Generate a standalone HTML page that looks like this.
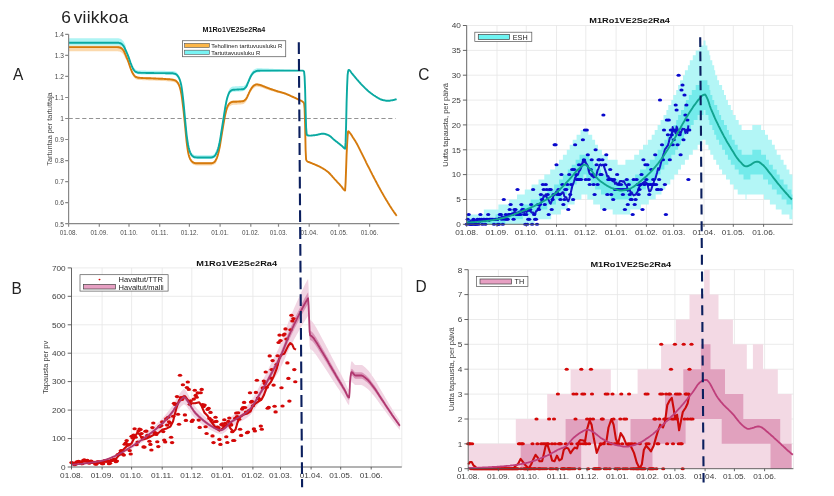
<!DOCTYPE html>
<html lang="fi"><head><meta charset="utf-8"><title>6 viikkoa</title>
<style>html,body{margin:0;padding:0;background:#fff}svg{display:block;filter:blur(0.45px)}</style></head>
<body>
<svg width="834" height="496" viewBox="0 0 834 496" font-family='"Liberation Sans", Arial, sans-serif'>
<rect width="834" height="496" fill="#fff"/>
<g id="chartA">
<path d="M68.6 45.4L69.1 45.4L69.6 45.4L70.1 45.4L70.6 45.4L71.1 45.4L71.6 45.4L72.1 45.4L72.6 45.4L73.1 45.4L73.6 45.4L74.1 45.4L74.6 45.4L75.1 45.4L75.6 45.4L76.1 45.4L76.6 45.4L77.1 45.4L77.6 45.4L78.1 45.4L78.6 45.4L79.1 45.4L79.6 45.4L80.1 45.4L80.6 45.4L81.1 45.4L81.6 45.4L82.1 45.4L82.6 45.4L83.1 45.4L83.6 45.4L84.1 45.4L84.6 45.4L85.1 45.4L85.6 45.4L86.1 45.4L86.6 45.4L87.1 45.4L87.6 45.4L88.1 45.4L88.6 45.4L89.1 45.4L89.6 45.4L90.1 45.4L90.6 45.4L91.1 45.4L91.6 45.4L92.1 45.4L92.6 45.4L93.1 45.4L93.6 45.4L94.1 45.4L94.6 45.4L95.1 45.4L95.6 45.4L96.1 45.4L96.6 45.4L97.1 45.4L97.6 45.4L98.1 45.4L98.6 45.4L99.1 45.4L99.6 45.4L100.1 45.4L100.6 45.4L101.1 45.4L101.6 45.4L102.1 45.4L102.6 45.4L103.1 45.4L103.6 45.4L104.1 45.4L104.6 45.4L105.1 45.4L105.6 45.4L106.1 45.4L106.6 45.4L107.1 45.4L107.6 45.4L108.1 45.4L108.6 45.4L109.1 45.4L109.6 45.4L110.1 45.4L110.6 45.4L111.1 45.4L111.6 45.4L112.1 45.4L112.6 45.4L113.1 45.4L113.6 45.4L114.1 45.4L114.6 45.4L115.1 45.4L115.6 45.4L116.1 45.4L116.6 45.4L117.1 45.4L117.6 45.4L118.1 45.5L118.6 45.6L119.1 45.7L119.6 45.8L120.1 46L120.6 46.1L121.1 46.4L121.6 46.7L122.1 47.2L122.6 47.7L123.1 48.3L123.6 48.9L124.1 49.8L124.6 50.9L125.1 52.1L125.6 53.3L126.1 55.2L126.6 56.4L127.1 57.6L127.6 58.8L128.1 60.1L128.6 61.5L129.1 62.9L129.6 64.4L130.1 66L130.6 67.4L131.1 68.7L131.6 69.9L132.1 71L132.6 72L133.1 72.9L133.6 73.6L134.1 74.2L134.6 74.8L135.1 75.3L135.6 75.7L136.1 76L136.6 76.2L137.1 76.4L137.6 76.5L138.1 76.6L138.6 76.7L139.1 76.8L139.6 76.8L140.1 76.8L140.6 76.9L141.1 76.9L141.6 76.9L142.1 77L142.6 77L143.1 77L143.6 77L144.1 77.1L144.6 77.1L145.1 77.1L145.6 77.1L146.1 77.1L146.6 77.1L147.1 77.1L147.6 77.2L148.1 77.2L148.6 77.2L149.1 77.2L149.6 77.2L150.1 77.3L150.6 77.3L151.1 77.3L151.6 77.3L152.1 77.4L152.6 77.4L153.1 77.4L153.6 77.4L154.1 77.4L154.6 77.5L155.1 77.5L155.6 77.5L156.1 77.5L156.6 77.5L157.1 77.6L157.6 77.6L158.1 77.6L158.6 77.6L159.1 77.6L159.6 77.7L160.1 77.7L160.6 77.7L161.1 77.7L161.6 77.8L162.1 77.8L162.6 77.8L163.1 77.8L163.6 77.9L164.1 77.9L164.6 77.9L165.1 78L165.6 78L166.1 78L166.6 78.1L167.1 78.1L167.6 78.1L168.1 78.2L168.6 78.2L169.1 78.3L169.6 78.3L170.1 78.4L170.6 78.4L171.1 78.5L171.6 78.5L172.1 78.6L172.6 78.6L173.1 78.7L173.6 78.9L174.1 79L174.6 79.2L175.1 79.4L175.6 79.6L176.1 79.9L176.6 80.4L177.1 80.9L177.6 81.6L178.1 82.3L178.6 83.1L179.1 84.2L179.6 85.6L180.1 87.3L180.6 89.2L181.1 91.4L181.6 94.3L182.1 97.8L182.6 101.7L183.1 105.8L183.6 110.2L184.1 115L184.6 120L185.1 125L185.6 130.3L186.1 135.7L186.6 140.7L187.1 144.7L187.6 148L188.1 151.1L188.6 153.5L189.1 155.3L189.6 156.6L190.1 157.8L190.6 158.7L191.1 159.5L191.6 160.1L192.1 160.5L192.6 161L193.1 161.4L193.6 161.7L194.1 161.9L194.6 162L195.1 162L195.6 162.1L196.1 162.2L196.6 162.2L197.1 162.2L197.6 162.3L198.1 162.3L198.6 162.3L199.1 162.3L199.6 162.3L200.1 162.3L200.6 162.3L201.1 162.3L201.6 162.3L202.1 162.3L202.6 162.3L203.1 162.3L203.6 162.3L204.1 162.3L204.6 162.3L205.1 162.3L205.6 162.3L206.1 162.3L206.6 162.3L207.1 162.3L207.6 162.3L208.1 162.3L208.6 162.3L209.1 162.3L209.6 162.3L210.1 162.3L210.6 162.3L211.1 162.3L211.6 162.2L212.1 162.1L212.6 161.9L213.1 161.7L213.6 161.5L214.1 161.2L214.6 160.8L215.1 159.8L215.6 159L216.1 158.1L216.6 157.1L217.1 155.9L217.6 154.5L218.1 152.7L218.6 150.7L219.1 148.5L219.6 146.2L220.1 143.4L220.6 140.4L221.1 137.1L221.6 134.1L222.1 131L222.6 128L223.1 125L223.6 122.1L224.1 119.3L224.6 116.5L225.1 114L225.6 111.7L226.1 109.7L226.6 107.8L227.1 106.1L227.6 105L228.1 104L228.6 103.2L229.1 102.5L229.6 102L230.1 101.6L230.6 101.3L231.1 101L231.6 100.8L232.1 100.6L232.6 100.5L233.1 100.5L233.6 100.4L234.1 100.4L234.6 100.4L235.1 100.4L235.6 100.3L236.1 100.3L236.6 100.3L237.1 100.3L237.6 100.3L238.1 100.3L238.6 100.2L239.1 100.2L239.6 100.2L240.1 100.2L240.6 100.1L241.1 100.1L241.6 100.1L242.1 100L242.6 100L243.1 99.9L243.6 99.7L244.1 99.5L244.6 99.1L245.1 98.7L245.6 98.2L246.1 97.6L246.6 96.9L247.1 95.9L247.6 94.8L248.1 93.6L248.6 92.6L249.1 91.5L249.6 90.5L250.1 89.4L250.6 88.5L251.1 87.7L251.6 86.9L252.1 86.3L252.6 85.6L253.1 85.1L253.6 84.6L254.1 84.3L254.6 84L255.1 83.7L255.6 83.5L256.1 83.4L256.6 83.3L257.1 83.3L257.6 83.4L258.1 83.5L258.6 83.6L259.1 83.7L259.6 83.8L260.1 84L260.6 84.1L261.1 84.3L261.6 84.5L262.1 84.7L262.6 84.9L263.1 85.1L263.6 85.3L264.1 85.5L264.6 85.7L265.1 86L265.6 86.2L266.1 86.4L266.6 86.6L267.1 86.7L267.6 86.9L268.1 87.1L268.6 87.3L269.1 87.5L269.6 87.7L270.1 87.9L270.6 88.1L271.1 88.3L271.6 88.4L272.1 88.6L272.6 88.8L273.1 89L273.6 89.2L274.1 89.3L274.6 89.5L275.1 89.7L275.6 89.9L276.1 90L276.6 90.2L277.1 90.3L277.6 90.5L278.1 90.6L278.6 90.8L279.1 90.9L279.6 91.1L280.1 91.2L280.6 91.4L281.1 91.5L281.6 91.7L282.1 91.8L282.6 92L283.1 92.1L283.6 92.3L284.1 92.5L284.6 92.6L285.1 92.8L285.6 93L286.1 93.2L286.6 93.4L287.1 93.6L287.6 93.9L288.1 94.1L288.6 94.3L289.1 94.5L289.6 94.8L290.1 95L290.6 95.2L291.1 95.5L291.6 95.7L292.1 95.9L292.6 96.2L293.1 96.4L293.6 96.6L294.1 96.9L294.6 97.1L295.1 97.4L295.6 97.6L296.1 97.9L296.6 98.1L297.1 98.4L297.6 98.6L298.1 98.9L298.6 99.1L299.1 99.4L299.6 99.6L299.6 100.6L299.1 100.4L298.6 100.2L298.1 100L297.6 99.8L297.1 99.5L296.6 99.3L296.1 99.1L295.6 98.9L295.1 98.6L294.6 98.4L294.1 98.2L293.6 98L293.1 97.8L292.6 97.6L292.1 97.4L291.6 97.2L291.1 97L290.6 96.8L290.1 96.6L289.6 96.3L289.1 96.1L288.6 95.9L288.1 95.7L287.6 95.5L287.1 95.4L286.6 95.2L286.1 95L285.6 94.8L285.1 94.7L284.6 94.5L284.1 94.4L283.6 94.2L283.1 94.1L282.6 94L282.1 93.8L281.6 93.7L281.1 93.6L280.6 93.5L280.1 93.3L279.6 93.2L279.1 93.1L278.6 93L278.1 92.9L277.6 92.7L277.1 92.6L276.6 92.5L276.1 92.4L275.6 92.2L275.1 92.1L274.6 91.9L274.1 91.8L273.6 91.6L273.1 91.5L272.6 91.3L272.1 91.2L271.6 91L271.1 90.9L270.6 90.7L270.1 90.6L269.6 90.4L269.1 90.2L268.6 90.1L268.1 89.9L267.6 89.8L267.1 89.6L266.6 89.4L266.1 89.3L265.6 89.1L265.1 88.9L264.6 88.7L264.1 88.5L263.6 88.3L263.1 88.1L262.6 88L262.1 87.8L261.6 87.6L261.1 87.5L260.6 87.3L260.1 87.2L259.6 87.1L259.1 87L258.6 86.9L258.1 86.8L257.6 86.7L257.1 86.7L256.6 86.7L256.1 86.8L255.6 87L255.1 87.3L254.6 87.6L254.1 87.9L253.6 88.2L253.1 88.7L252.6 89.3L252.1 89.9L251.6 90.7L251.1 91.4L250.6 92.2L250.1 93.2L249.6 94.3L249.1 95.4L248.6 96.5L248.1 97.5L247.6 98.7L247.1 99.8L246.6 100.9L246.1 101.6L245.6 102.2L245.1 102.7L244.6 103.2L244.1 103.6L243.6 103.9L243.1 104.1L242.6 104.2L242.1 104.3L241.6 104.3L241.1 104.4L240.6 104.5L240.1 104.5L239.6 104.5L239.1 104.6L238.6 104.6L238.1 104.6L237.6 104.6L237.1 104.7L236.6 104.7L236.1 104.7L235.6 104.7L235.1 104.7L234.6 104.7L234.1 104.8L233.6 104.8L233.1 104.8L232.6 104.9L232.1 105L231.6 105.2L231.1 105.4L230.6 105.7L230.1 106L229.6 106.3L229.1 106.9L228.6 107.6L228.1 108.4L227.6 109.3L227.1 110.5L226.6 112.1L226.1 114L225.6 116.1L225.1 118.3L224.6 120.9L224.1 123.6L223.6 126.5L223.1 129.3L222.6 132.3L222.1 135.4L221.6 138.4L221.1 141.5L220.6 144.7L220.1 147.8L219.6 150.5L219.1 152.9L218.6 155.1L218.1 157.1L217.6 158.9L217.1 160.3L216.6 161.4L216.1 162.5L215.6 163.4L215.1 164.2L214.6 163.9L214.1 164.4L213.6 164.6L213.1 164.9L212.6 165.1L212.1 165.3L211.6 165.4L211.1 165.4L210.6 165.4L210.1 165.4L209.6 165.4L209.1 165.4L208.6 165.4L208.1 165.4L207.6 165.4L207.1 165.4L206.6 165.4L206.1 165.4L205.6 165.4L205.1 165.4L204.6 165.4L204.1 165.4L203.6 165.4L203.1 165.4L202.6 165.4L202.1 165.4L201.6 165.4L201.1 165.4L200.6 165.4L200.1 165.4L199.6 165.4L199.1 165.4L198.6 165.4L198.1 165.4L197.6 165.4L197.1 165.4L196.6 165.4L196.1 165.3L195.6 165.3L195.1 165.2L194.6 165.1L194.1 165L193.6 164.8L193.1 164.5L192.6 164.1L192.1 163.7L191.6 163.2L191.1 162.7L190.6 161.9L190.1 160.9L189.6 159.8L189.1 158.4L188.6 156.7L188.1 154.2L187.6 151.2L187.1 147.8L186.6 143.8L186.1 138.9L185.6 133.4L185.1 128.1L184.6 123.2L184.1 118.2L183.6 113.4L183.1 108.9L182.6 104.9L182.1 101L181.6 97.4L181.1 94.6L180.6 92.4L180.1 90.5L179.6 88.8L179.1 87.4L178.6 86.3L178.1 85.5L177.6 84.7L177.1 84.1L176.6 83.5L176.1 83.1L175.6 82.8L175.1 82.5L174.6 82.3L174.1 82.2L173.6 82L173.1 81.9L172.6 81.8L172.1 81.7L171.6 81.7L171.1 81.6L170.6 81.6L170.1 81.5L169.6 81.5L169.1 81.4L168.6 81.4L168.1 81.3L167.6 81.3L167.1 81.3L166.6 81.2L166.1 81.2L165.6 81.1L165.1 81.1L164.6 81.1L164.1 81.1L163.6 81L163.1 81L162.6 81L162.1 80.9L161.6 80.9L161.1 80.9L160.6 80.9L160.1 80.8L159.6 80.8L159.1 80.8L158.6 80.8L158.1 80.8L157.6 80.7L157.1 80.7L156.6 80.7L156.1 80.7L155.6 80.7L155.1 80.6L154.6 80.6L154.1 80.6L153.6 80.6L153.1 80.6L152.6 80.5L152.1 80.5L151.6 80.5L151.1 80.5L150.6 80.4L150.1 80.4L149.6 80.4L149.1 80.4L148.6 80.4L148.1 80.3L147.6 80.3L147.1 80.3L146.6 80.3L146.1 80.3L145.6 80.3L145.1 80.2L144.6 80.2L144.1 80.2L143.6 80.2L143.1 80.2L142.6 80.2L142.1 80.1L141.6 80.1L141.1 80.1L140.6 80L140.1 80L139.6 80L139.1 79.9L138.6 79.9L138.1 79.8L137.6 79.7L137.1 79.5L136.6 79.4L136.1 79.2L135.6 78.9L135.1 78.5L134.6 78L134.1 77.4L133.6 76.8L133.1 76L132.6 75.1L132.1 74.1L131.6 73L131.1 71.9L130.6 70.6L130.1 69.1L129.6 67.6L129.1 66.1L128.6 64.6L128.1 63.3L127.6 62L127.1 60.8L126.6 59.5L126.1 58.4L125.6 59.1L125.1 57.9L124.6 56.7L124.1 55.6L123.6 54.7L123.1 54.1L122.6 53.5L122.1 53L121.6 52.5L121.1 52.2L120.6 51.9L120.1 51.8L119.6 51.6L119.1 51.5L118.6 51.4L118.1 51.3L117.6 51.2L117.1 51.2L116.6 51.2L116.1 51.2L115.6 51.2L115.1 51.2L114.6 51.2L114.1 51.2L113.6 51.2L113.1 51.2L112.6 51.2L112.1 51.2L111.6 51.2L111.1 51.2L110.6 51.2L110.1 51.2L109.6 51.2L109.1 51.2L108.6 51.2L108.1 51.2L107.6 51.2L107.1 51.2L106.6 51.2L106.1 51.2L105.6 51.2L105.1 51.2L104.6 51.2L104.1 51.2L103.6 51.2L103.1 51.2L102.6 51.2L102.1 51.2L101.6 51.2L101.1 51.2L100.6 51.2L100.1 51.2L99.6 51.2L99.1 51.2L98.6 51.2L98.1 51.2L97.6 51.2L97.1 51.2L96.6 51.2L96.1 51.2L95.6 51.2L95.1 51.2L94.6 51.2L94.1 51.2L93.6 51.2L93.1 51.2L92.6 51.2L92.1 51.2L91.6 51.2L91.1 51.2L90.6 51.2L90.1 51.2L89.6 51.2L89.1 51.2L88.6 51.2L88.1 51.2L87.6 51.2L87.1 51.2L86.6 51.2L86.1 51.2L85.6 51.2L85.1 51.2L84.6 51.2L84.1 51.2L83.6 51.2L83.1 51.2L82.6 51.2L82.1 51.2L81.6 51.2L81.1 51.2L80.6 51.2L80.1 51.2L79.6 51.2L79.1 51.2L78.6 51.2L78.1 51.2L77.6 51.2L77.1 51.2L76.6 51.2L76.1 51.2L75.6 51.2L75.1 51.2L74.6 51.2L74.1 51.2L73.6 51.2L73.1 51.2L72.6 51.2L72.1 51.2L71.6 51.2L71.1 51.2L70.6 51.2L70.1 51.2L69.6 51.2L69.1 51.2L68.6 51.2Z" fill="#fbd9ad"/>
<path d="M68.6 38.2L69.1 38.2L69.6 38.2L70.1 38.2L70.6 38.2L71.1 38.2L71.6 38.2L72.1 38.2L72.6 38.2L73.1 38.2L73.6 38.2L74.1 38.2L74.6 38.2L75.1 38.2L75.6 38.2L76.1 38.2L76.6 38.2L77.1 38.2L77.6 38.2L78.1 38.2L78.6 38.2L79.1 38.2L79.6 38.2L80.1 38.2L80.6 38.2L81.1 38.2L81.6 38.2L82.1 38.2L82.6 38.2L83.1 38.2L83.6 38.2L84.1 38.2L84.6 38.2L85.1 38.2L85.6 38.2L86.1 38.2L86.6 38.2L87.1 38.2L87.6 38.2L88.1 38.2L88.6 38.2L89.1 38.2L89.6 38.2L90.1 38.2L90.6 38.2L91.1 38.2L91.6 38.2L92.1 38.2L92.6 38.2L93.1 38.2L93.6 38.2L94.1 38.2L94.6 38.2L95.1 38.2L95.6 38.2L96.1 38.2L96.6 38.2L97.1 38.2L97.6 38.2L98.1 38.2L98.6 38.2L99.1 38.2L99.6 38.2L100.1 38.2L100.6 38.2L101.1 38.2L101.6 38.2L102.1 38.2L102.6 38.2L103.1 38.2L103.6 38.2L104.1 38.2L104.6 38.2L105.1 38.2L105.6 38.2L106.1 38.2L106.6 38.2L107.1 38.2L107.6 38.2L108.1 38.2L108.6 38.2L109.1 38.2L109.6 38.2L110.1 38.2L110.6 38.2L111.1 38.2L111.6 38.2L112.1 38.2L112.6 38.2L113.1 38.2L113.6 38.2L114.1 38.2L114.6 38.2L115.1 38.2L115.6 38.2L116.1 38.2L116.6 38.2L117.1 38.2L117.6 38.2L118.1 38.3L118.6 38.3L119.1 38.4L119.6 38.6L120.1 38.7L120.6 38.8L121.1 39.1L121.6 39.4L122.1 39.9L122.6 40.4L123.1 41L123.6 41.6L124.1 42.4L124.6 43.4L125.1 44.5L125.6 45.6L126.1 48.9L126.6 50L127.1 51.2L127.6 52.4L128.1 53.6L128.6 54.9L129.1 56.3L129.6 57.7L130.1 59.2L130.6 60.7L131.1 61.9L131.6 63.2L132.1 64.4L132.6 65.6L133.1 66.6L133.6 67.3L134.1 68L134.6 68.6L135.1 69.1L135.6 69.5L136.1 69.7L136.6 69.9L137.1 70.1L137.6 70.3L138.1 70.4L138.6 70.5L139.1 70.5L139.6 70.5L140.1 70.5L140.6 70.6L141.1 70.6L141.6 70.6L142.1 70.6L142.6 70.6L143.1 70.6L143.6 70.6L144.1 70.6L144.6 70.6L145.1 70.6L145.6 70.6L146.1 70.7L146.6 70.7L147.1 70.7L147.6 70.7L148.1 70.7L148.6 70.7L149.1 70.7L149.6 70.7L150.1 70.7L150.6 70.7L151.1 70.7L151.6 70.7L152.1 70.7L152.6 70.7L153.1 70.7L153.6 70.7L154.1 70.8L154.6 70.8L155.1 70.8L155.6 70.8L156.1 70.8L156.6 70.8L157.1 70.8L157.6 70.8L158.1 70.8L158.6 70.8L159.1 70.8L159.6 70.8L160.1 70.8L160.6 70.8L161.1 70.8L161.6 70.8L162.1 70.8L162.6 70.8L163.1 70.8L163.6 70.8L164.1 70.8L164.6 70.8L165.1 70.8L165.6 70.9L166.1 70.9L166.6 70.9L167.1 70.9L167.6 70.9L168.1 70.9L168.6 70.9L169.1 70.9L169.6 70.9L170.1 70.9L170.6 71L171.1 71L171.6 71L172.1 71L172.6 71L173.1 71.1L173.6 71.2L174.1 71.3L174.6 71.4L175.1 71.6L175.6 71.7L176.1 72L176.6 72.4L177.1 72.9L177.6 73.5L178.1 74.1L178.6 74.9L179.1 75.8L179.6 77L180.1 78.4L180.6 80.2L181.1 82.1L181.6 84.9L182.1 88.4L182.6 92.4L183.1 96.6L183.6 101.3L184.1 106.6L184.6 112L185.1 117.2L185.6 122.5L186.1 127.7L186.6 132.5L187.1 136.4L187.6 139.7L188.1 142.7L188.6 145.1L189.1 147L189.6 148.6L190.1 150L190.6 151.2L191.1 152.1L191.6 152.8L192.1 153.4L192.6 153.8L193.1 154.2L193.6 154.6L194.1 154.8L194.6 154.9L195.1 155L195.6 155.1L196.1 155.1L196.6 155.1L197.1 155.2L197.6 155.2L198.1 155.2L198.6 155.2L199.1 155.2L199.6 155.2L200.1 155.2L200.6 155.2L201.1 155.2L201.6 155.2L202.1 155.2L202.6 155.2L203.1 155.2L203.6 155.2L204.1 155.2L204.6 155.2L205.1 155.2L205.6 155.2L206.1 155.2L206.6 155.2L207.1 155.2L207.6 155.2L208.1 155.2L208.6 155.2L209.1 155.2L209.6 155.2L210.1 155.2L210.6 155.2L211.1 155.2L211.6 155.1L212.1 155L212.6 154.9L213.1 154.7L213.6 154.4L214.1 154.1L214.6 153.7L215.1 152.1L215.6 151.4L216.1 150.5L216.6 149.5L217.1 148.5L217.6 147.1L218.1 145.5L218.6 143.6L219.1 141.5L219.6 139.2L220.1 136.5L220.6 133.5L221.1 130.2L221.6 127.1L222.1 124L222.6 120.9L223.1 117.7L223.6 114.6L224.1 111.3L224.6 108L225.1 104.9L225.6 102.2L226.1 99.6L226.6 97.2L227.1 95.1L227.6 93.4L228.1 92L228.6 90.7L229.1 89.5L229.6 88.7L230.1 88.1L230.6 87.7L231.1 87.3L231.6 87L232.1 86.7L232.6 86.6L233.1 86.5L233.6 86.4L234.1 86.4L234.6 86.4L235.1 86.3L235.6 86.3L236.1 86.3L236.6 86.3L237.1 86.2L237.6 86.2L238.1 86.2L238.6 86.2L239.1 86.1L239.6 86.1L240.1 86.1L240.6 86.1L241.1 86.1L241.6 86.1L242.1 86.1L242.6 86.1L243.1 86L243.6 85.9L244.1 85.7L244.6 85.3L245.1 84.9L245.6 84.4L246.1 83.9L246.6 83.1L247.1 82L247.6 80.8L248.1 79.5L248.6 78.4L249.1 77.2L249.6 76.1L250.1 74.9L250.6 73.9L251.1 73.1L251.6 72.3L252.1 71.5L252.6 70.9L253.1 70.3L253.6 69.8L254.1 69.5L254.6 69.2L255.1 69L255.6 68.8L256.1 68.6L256.6 68.4L257.1 68.3L257.6 68.3L258.1 68.3L258.6 68.3L259.1 68.3L259.6 68.3L260.1 68.3L260.6 68.3L261.1 68.3L261.6 68.3L262.1 68.3L262.6 68.4L263.1 68.4L263.6 68.4L264.1 68.4L264.6 68.4L265.1 68.5L265.6 68.5L266.1 68.5L266.6 68.5L267.1 68.6L267.6 68.6L268.1 68.6L268.6 68.6L269.1 68.7L269.6 68.7L270.1 68.7L270.6 68.7L271.1 68.8L271.6 68.8L272.1 68.8L272.6 68.8L273.1 68.8L273.6 68.9L274.1 68.9L274.6 68.9L275.1 68.9L275.6 69L276.1 69L276.6 69L277.1 69L277.6 69.1L278.1 69.1L278.6 69.1L279.1 69.1L279.6 69.1L280.1 69.2L280.6 69.2L281.1 69.2L281.6 69.2L282.1 69.3L282.6 69.3L283.1 69.3L283.6 69.3L284.1 69.4L284.6 69.4L285.1 69.4L285.6 69.4L286.1 69.5L286.6 69.5L287.1 69.5L287.6 69.5L288.1 69.5L288.6 69.6L289.1 69.6L289.6 69.6L290.1 69.6L290.6 69.7L291.1 69.7L291.6 69.7L292.1 69.7L292.6 69.8L293.1 69.8L293.6 69.8L294.1 69.8L294.6 69.8L295.1 69.9L295.6 69.9L296.1 69.9L296.6 69.9L297.1 70L297.6 70L298.1 70L298.6 70L299.1 70.1L299.6 70.1L299.6 71.1L299.1 71.1L298.6 71.1L298.1 71.1L297.6 71.2L297.1 71.2L296.6 71.2L296.1 71.2L295.6 71.2L295.1 71.2L294.6 71.2L294.1 71.3L293.6 71.3L293.1 71.3L292.6 71.3L292.1 71.3L291.6 71.3L291.1 71.3L290.6 71.3L290.1 71.4L289.6 71.4L289.1 71.4L288.6 71.4L288.1 71.4L287.6 71.4L287.1 71.4L286.6 71.4L286.1 71.5L285.6 71.5L285.1 71.5L284.6 71.5L284.1 71.5L283.6 71.5L283.1 71.5L282.6 71.5L282.1 71.6L281.6 71.6L281.1 71.6L280.6 71.6L280.1 71.6L279.6 71.6L279.1 71.6L278.6 71.6L278.1 71.7L277.6 71.7L277.1 71.7L276.6 71.7L276.1 71.7L275.6 71.7L275.1 71.7L274.6 71.8L274.1 71.8L273.6 71.8L273.1 71.8L272.6 71.8L272.1 71.8L271.6 71.8L271.1 71.8L270.6 71.9L270.1 71.9L269.6 71.9L269.1 71.9L268.6 71.9L268.1 71.9L267.6 71.9L267.1 71.9L266.6 72L266.1 72L265.6 72L265.1 72L264.6 72L264.1 72L263.6 72L263.1 72L262.6 72.1L262.1 72.1L261.6 72.1L261.1 72.1L260.6 72.1L260.1 72.2L259.6 72.2L259.1 72.2L258.6 72.3L258.1 72.3L257.6 72.4L257.1 72.5L256.6 72.6L256.1 72.8L255.6 73L255.1 73.2L254.6 73.5L254.1 73.8L253.6 74.2L253.1 74.7L252.6 75.3L252.1 76L251.6 76.8L251.1 77.6L250.6 78.5L250.1 79.5L249.6 80.7L249.1 81.9L248.6 83.1L248.1 84.3L247.6 85.5L247.1 86.8L246.6 87.9L246.1 88.8L245.6 89.3L245.1 89.9L244.6 90.3L244.1 90.7L243.6 91L243.1 91.1L242.6 91.2L242.1 91.3L241.6 91.3L241.1 91.4L240.6 91.4L240.1 91.4L239.6 91.5L239.1 91.5L238.6 91.5L238.1 91.5L237.6 91.6L237.1 91.6L236.6 91.6L236.1 91.6L235.6 91.7L235.1 91.7L234.6 91.7L234.1 91.7L233.6 91.8L233.1 91.8L232.6 91.9L232.1 92.1L231.6 92.3L231.1 92.6L230.6 93L230.1 93.4L229.6 94L229.1 94.9L228.6 96L228.1 97.3L227.6 98.7L227.1 100.4L226.6 102.5L226.1 104.9L225.6 107.5L225.1 110.3L224.6 113.4L224.1 116.7L223.6 119.9L223.1 123L222.6 126.2L222.1 129.3L221.6 132.4L221.1 135.6L220.6 138.8L220.1 141.9L219.6 144.6L219.1 146.8L218.6 148.9L218.1 150.8L217.6 152.5L217.1 153.8L216.6 154.9L216.1 155.9L215.6 156.7L215.1 157.5L214.6 157.5L214.1 157.9L213.6 158.2L213.1 158.4L212.6 158.7L212.1 158.8L211.6 158.9L211.1 159L210.6 159L210.1 159L209.6 159L209.1 159L208.6 159L208.1 159L207.6 159L207.1 159L206.6 159L206.1 159L205.6 159L205.1 159L204.6 159L204.1 159L203.6 159L203.1 159L202.6 159L202.1 159L201.6 159L201.1 159L200.6 159L200.1 159L199.6 159L199.1 159L198.6 159L198.1 159L197.6 159L197.1 159L196.6 158.9L196.1 158.9L195.6 158.8L195.1 158.8L194.6 158.7L194.1 158.6L193.6 158.4L193.1 158L192.6 157.6L192.1 157.1L191.6 156.6L191.1 155.9L190.6 155L190.1 153.8L189.6 152.4L189.1 150.8L188.6 148.9L188.1 146.5L187.6 143.5L187.1 140.2L186.6 136.3L186.1 131.5L185.6 126.3L185.1 121L184.6 115.8L184.1 110.4L183.6 105.1L183.1 100.3L182.6 96.2L182.1 92.2L181.6 88.7L181.1 85.9L180.6 83.9L180.1 82.2L179.6 80.8L179.1 79.6L178.6 78.6L178.1 77.9L177.6 77.2L177.1 76.7L176.6 76.2L176.1 75.8L175.6 75.5L175.1 75.4L174.6 75.2L174.1 75.1L173.6 75L173.1 74.9L172.6 74.8L172.1 74.8L171.6 74.8L171.1 74.8L170.6 74.7L170.1 74.7L169.6 74.7L169.1 74.7L168.6 74.7L168.1 74.7L167.6 74.7L167.1 74.7L166.6 74.7L166.1 74.7L165.6 74.6L165.1 74.6L164.6 74.6L164.1 74.6L163.6 74.6L163.1 74.6L162.6 74.6L162.1 74.6L161.6 74.6L161.1 74.6L160.6 74.6L160.1 74.6L159.6 74.6L159.1 74.6L158.6 74.6L158.1 74.6L157.6 74.6L157.1 74.6L156.6 74.6L156.1 74.6L155.6 74.6L155.1 74.5L154.6 74.5L154.1 74.5L153.6 74.5L153.1 74.5L152.6 74.5L152.1 74.5L151.6 74.5L151.1 74.5L150.6 74.5L150.1 74.5L149.6 74.5L149.1 74.5L148.6 74.5L148.1 74.5L147.6 74.5L147.1 74.5L146.6 74.4L146.1 74.4L145.6 74.4L145.1 74.4L144.6 74.4L144.1 74.4L143.6 74.4L143.1 74.4L142.6 74.4L142.1 74.4L141.6 74.4L141.1 74.4L140.6 74.3L140.1 74.3L139.6 74.3L139.1 74.3L138.6 74.3L138.1 74.2L137.6 74.1L137.1 73.9L136.6 73.7L136.1 73.5L135.6 73.3L135.1 72.9L134.6 72.4L134.1 71.8L133.6 71.1L133.1 70.4L132.6 69.4L132.1 68.2L131.6 67L131.1 65.7L130.6 64.4L130.1 63L129.6 61.5L129.1 60.1L128.6 58.7L128.1 57.4L127.6 56.2L127.1 55L126.6 53.8L126.1 52.7L125.6 52.8L125.1 51.7L124.6 50.6L124.1 49.6L123.6 48.8L123.1 48.2L122.6 47.6L122.1 47.1L121.6 46.6L121.1 46.3L120.6 46L120.1 45.9L119.6 45.8L119.1 45.6L118.6 45.5L118.1 45.5L117.6 45.4L117.1 45.4L116.6 45.4L116.1 45.4L115.6 45.4L115.1 45.4L114.6 45.4L114.1 45.4L113.6 45.4L113.1 45.4L112.6 45.4L112.1 45.4L111.6 45.4L111.1 45.4L110.6 45.4L110.1 45.4L109.6 45.4L109.1 45.4L108.6 45.4L108.1 45.4L107.6 45.4L107.1 45.4L106.6 45.4L106.1 45.4L105.6 45.4L105.1 45.4L104.6 45.4L104.1 45.4L103.6 45.4L103.1 45.4L102.6 45.4L102.1 45.4L101.6 45.4L101.1 45.4L100.6 45.4L100.1 45.4L99.6 45.4L99.1 45.4L98.6 45.4L98.1 45.4L97.6 45.4L97.1 45.4L96.6 45.4L96.1 45.4L95.6 45.4L95.1 45.4L94.6 45.4L94.1 45.4L93.6 45.4L93.1 45.4L92.6 45.4L92.1 45.4L91.6 45.4L91.1 45.4L90.6 45.4L90.1 45.4L89.6 45.4L89.1 45.4L88.6 45.4L88.1 45.4L87.6 45.4L87.1 45.4L86.6 45.4L86.1 45.4L85.6 45.4L85.1 45.4L84.6 45.4L84.1 45.4L83.6 45.4L83.1 45.4L82.6 45.4L82.1 45.4L81.6 45.4L81.1 45.4L80.6 45.4L80.1 45.4L79.6 45.4L79.1 45.4L78.6 45.4L78.1 45.4L77.6 45.4L77.1 45.4L76.6 45.4L76.1 45.4L75.6 45.4L75.1 45.4L74.6 45.4L74.1 45.4L73.6 45.4L73.1 45.4L72.6 45.4L72.1 45.4L71.6 45.4L71.1 45.4L70.6 45.4L70.1 45.4L69.6 45.4L69.1 45.4L68.6 45.4Z" fill="#aef4f4"/>
<path d="M68.6 118.5H395.5" stroke="#777" stroke-width="0.8" stroke-dasharray="4.2 2.6" fill="none"/>
<path d="M68.6 47.1L69.1 47.1L69.6 47.1L70.1 47.1L70.6 47.1L71.1 47.1L71.6 47.1L72.1 47.1L72.6 47.1L73.1 47.1L73.6 47.1L74.1 47.1L74.6 47.1L75.1 47.1L75.6 47.1L76.1 47.1L76.6 47.1L77.1 47.1L77.6 47.1L78.1 47.1L78.6 47.1L79.1 47.1L79.6 47.1L80.1 47.1L80.6 47.1L81.1 47.1L81.6 47.1L82.1 47.1L82.6 47.1L83.1 47.1L83.6 47.1L84.1 47.1L84.6 47.1L85.1 47.1L85.6 47.1L86.1 47.1L86.6 47.1L87.1 47.1L87.6 47.1L88.1 47.1L88.6 47.1L89.1 47.1L89.6 47.1L90.1 47.1L90.6 47.1L91.1 47.1L91.6 47.1L92.1 47.1L92.6 47.1L93.1 47.1L93.6 47.1L94.1 47.1L94.6 47.1L95.1 47.1L95.6 47.1L96.1 47.1L96.6 47.1L97.1 47.1L97.6 47.1L98.1 47.1L98.6 47.1L99.1 47.1L99.6 47.1L100.1 47.1L100.6 47.1L101.1 47.1L101.6 47.1L102.1 47.1L102.6 47.1L103.1 47.1L103.6 47.1L104.1 47.1L104.6 47.1L105.1 47.1L105.6 47.1L106.1 47.1L106.6 47.1L107.1 47.1L107.6 47.1L108.1 47.1L108.6 47.1L109.1 47.1L109.6 47.1L110.1 47.1L110.6 47.1L111.1 47.1L111.6 47.1L112.1 47.1L112.6 47.1L113.1 47.1L113.6 47.1L114.1 47.1L114.6 47.1L115.1 47.1L115.6 47.1L116.1 47.1L116.6 47.1L117.1 47.1L117.6 47.1L118.1 47.2L118.6 47.3L119.1 47.4L119.6 47.5L120.1 47.7L120.6 47.8L121.1 48.1L121.6 48.4L122.1 48.9L122.6 49.4L123.1 50L123.6 50.6L124.1 51.5L124.6 52.6L125.1 53.8L125.6 55L126.1 56.2L126.6 57.4L127.1 58.6L127.6 59.9L128.1 61.2L128.6 62.5L129.1 63.9L129.6 65.5L130.1 67L130.6 68.5L131.1 69.7L131.6 70.9L132.1 72L132.6 73L133.1 73.9L133.6 74.6L134.1 75.3L134.6 75.9L135.1 76.4L135.6 76.8L136.1 77L136.6 77.2L137.1 77.4L137.6 77.6L138.1 77.7L138.6 77.8L139.1 77.8L139.6 77.9L140.1 77.9L140.6 77.9L141.1 78L141.6 78L142.1 78L142.6 78L143.1 78.1L143.6 78.1L144.1 78.1L144.6 78.1L145.1 78.1L145.6 78.1L146.1 78.2L146.6 78.2L147.1 78.2L147.6 78.2L148.1 78.2L148.6 78.2L149.1 78.3L149.6 78.3L150.1 78.3L150.6 78.3L151.1 78.4L151.6 78.4L152.1 78.4L152.6 78.4L153.1 78.4L153.6 78.5L154.1 78.5L154.6 78.5L155.1 78.5L155.6 78.5L156.1 78.6L156.6 78.6L157.1 78.6L157.6 78.6L158.1 78.6L158.6 78.7L159.1 78.7L159.6 78.7L160.1 78.7L160.6 78.8L161.1 78.8L161.6 78.8L162.1 78.8L162.6 78.8L163.1 78.9L163.6 78.9L164.1 78.9L164.6 79L165.1 79L165.6 79L166.1 79.1L166.6 79.1L167.1 79.1L167.6 79.2L168.1 79.2L168.6 79.3L169.1 79.3L169.6 79.3L170.1 79.4L170.6 79.4L171.1 79.5L171.6 79.6L172.1 79.6L172.6 79.7L173.1 79.8L173.6 79.9L174.1 80.1L174.6 80.2L175.1 80.4L175.6 80.6L176.1 81L176.6 81.4L177.1 82L177.6 82.6L178.1 83.3L178.6 84.2L179.1 85.3L179.6 86.7L180.1 88.3L180.6 90.3L181.1 92.5L181.6 95.3L182.1 98.8L182.6 102.8L183.1 106.8L183.6 111.2L184.1 116.1L184.6 121L185.1 126L185.6 131.3L186.1 136.7L186.6 141.7L187.1 145.7L187.6 149.1L188.1 152.1L188.6 154.5L189.1 156.3L189.6 157.6L190.1 158.8L190.6 159.8L191.1 160.5L191.6 161.1L192.1 161.6L192.6 162L193.1 162.4L193.6 162.7L194.1 162.9L194.6 163L195.1 163.1L195.6 163.2L196.1 163.2L196.6 163.2L197.1 163.3L197.6 163.3L198.1 163.3L198.6 163.3L199.1 163.3L199.6 163.3L200.1 163.3L200.6 163.3L201.1 163.3L201.6 163.3L202.1 163.3L202.6 163.3L203.1 163.3L203.6 163.3L204.1 163.3L204.6 163.3L205.1 163.3L205.6 163.3L206.1 163.3L206.6 163.3L207.1 163.3L207.6 163.3L208.1 163.3L208.6 163.3L209.1 163.3L209.6 163.3L210.1 163.3L210.6 163.3L211.1 163.3L211.6 163.2L212.1 163.1L212.6 163L213.1 162.8L213.6 162.5L214.1 162.2L214.6 161.8L215.1 161.2L215.6 160.4L216.1 159.4L216.6 158.4L217.1 157.3L217.6 155.8L218.1 154.1L218.6 152.1L219.1 149.9L219.6 147.5L220.1 144.8L220.6 141.7L221.1 138.5L221.6 135.4L222.1 132.3L222.6 129.3L223.1 126.3L223.6 123.4L224.1 120.6L224.6 117.9L225.1 115.3L225.6 113.1L226.1 111L226.6 109.1L227.1 107.5L227.6 106.3L228.1 105.4L228.6 104.5L229.1 103.8L229.6 103.3L230.1 102.9L230.6 102.6L231.1 102.4L231.6 102.2L232.1 102L232.6 101.9L233.1 101.8L233.6 101.8L234.1 101.7L234.6 101.7L235.1 101.7L235.6 101.7L236.1 101.7L236.6 101.7L237.1 101.6L237.6 101.6L238.1 101.6L238.6 101.6L239.1 101.5L239.6 101.5L240.1 101.5L240.6 101.5L241.1 101.4L241.6 101.4L242.1 101.3L242.6 101.3L243.1 101.2L243.6 101L244.1 100.7L244.6 100.4L245.1 99.9L245.6 99.4L246.1 98.9L246.6 98.1L247.1 97.1L247.6 96L248.1 94.8L248.6 93.8L249.1 92.7L249.6 91.7L250.1 90.6L250.6 89.7L251.1 88.9L251.6 88.1L252.1 87.4L252.6 86.8L253.1 86.2L253.6 85.8L254.1 85.4L254.6 85.1L255.1 84.9L255.6 84.6L256.1 84.5L256.6 84.4L257.1 84.4L257.6 84.5L258.1 84.6L258.6 84.7L259.1 84.8L259.6 84.9L260.1 85L260.6 85.2L261.1 85.3L261.6 85.5L262.1 85.7L262.6 85.9L263.1 86.1L263.6 86.3L264.1 86.5L264.6 86.7L265.1 86.9L265.6 87.1L266.1 87.3L266.6 87.5L267.1 87.7L267.6 87.9L268.1 88.1L268.6 88.3L269.1 88.4L269.6 88.6L270.1 88.8L270.6 89L271.1 89.2L271.6 89.3L272.1 89.5L272.6 89.7L273.1 89.9L273.6 90L274.1 90.2L274.6 90.4L275.1 90.5L275.6 90.7L276.1 90.9L276.6 91L277.1 91.2L277.6 91.3L278.1 91.5L278.6 91.6L279.1 91.7L279.6 91.9L280.1 92L280.6 92.1L281.1 92.3L281.6 92.4L282.1 92.6L282.6 92.7L283.1 92.9L283.6 93L284.1 93.2L284.6 93.4L285.1 93.5L285.6 93.7L286.1 93.9L286.6 94.1L287.1 94.3L287.6 94.5L288.1 94.7L288.6 95L289.1 95.2L289.6 95.4L290.1 95.6L290.6 95.9L291.1 96.1L291.6 96.3L292.1 96.5L292.6 96.8L293.1 97L293.6 97.2L294.1 97.5L294.6 97.7L295.1 97.9L295.6 98.2L296.1 98.4L296.6 98.7L297.1 98.9L297.6 99.1L298.1 99.4L298.6 99.6L299.1 99.9L299.6 100.1L300.1 100.3L300.6 100.5L301.1 100.7L301.6 101L302.1 101.3L302.6 101.7L303.1 102.1L303.6 102.6L304.1 103.4L304.6 108.3L305.1 124.1L305.6 150L306.1 159.7L306.6 160.7L307.1 161.2L307.6 161.6L308.1 161.8L308.6 162L309.1 162.2L309.6 162.3L310.1 162.5L310.6 162.8L311.1 163L311.6 163.2L312.1 163.4L312.6 163.6L313.1 163.8L313.6 164L314.1 164.2L314.6 164.4L315.1 164.6L315.6 164.8L316.1 165L316.6 165.3L317.1 165.5L317.6 165.7L318.1 166L318.6 166.2L319.1 166.4L319.6 166.7L320.1 166.9L320.6 167.2L321.1 167.5L321.6 167.7L322.1 168L322.6 168.3L323.1 168.6L323.6 168.9L324.1 169.2L324.6 169.5L325.1 169.8L325.6 170.2L326.1 170.5L326.6 170.9L327.1 171.3L327.6 171.7L328.1 172.1L328.6 172.5L329.1 173L329.6 173.5L330.1 174L330.6 174.5L331.1 175.1L331.6 175.6L332.1 176.2L332.6 176.8L333.1 177.4L333.6 177.9L334.1 178.5L334.6 179.1L335.1 179.6L335.6 180.1L336.1 180.7L336.6 181.2L337.1 181.8L337.6 182.3L338.1 182.9L338.6 183.4L339.1 183.9L339.6 184.5L340.1 185L340.6 185.6L341.1 186.1L341.6 186.7L342.1 187.4L342.6 188.1L343.1 188.8L343.6 189.4L344.1 190L344.6 190.3L345.1 190.5L345.6 182.6L346.1 168.9L346.6 154.4L347.1 144.4L347.6 135.9L348.1 131.4L348.6 131.3L349.1 131.8L349.6 132.5L350.1 133.1L350.6 133.8L351.1 134.5L351.6 135.3L352.1 136.1L352.6 136.9L353.1 137.7L353.6 138.4L354.1 139.2L354.6 140L355.1 140.8L355.6 141.6L356.1 142.5L356.6 143.3L357.1 144.2L357.6 145.1L358.1 146.1L358.6 147.1L359.1 148.1L359.6 149.1L360.1 150.1L360.6 151.1L361.1 152.2L361.6 153.2L362.1 154.2L362.6 155.2L363.1 156.2L363.6 157.2L364.1 158.2L364.6 159.2L365.1 160.2L365.6 161.2L366.1 162.3L366.6 163.3L367.1 164.3L367.6 165.3L368.1 166.3L368.6 167.2L369.1 168.2L369.6 169.2L370.1 170.2L370.6 171.2L371.1 172.1L371.6 173.1L372.1 174.1L372.6 175.1L373.1 176L373.6 177L374.1 178L374.6 178.9L375.1 179.9L375.6 180.8L376.1 181.8L376.6 182.7L377.1 183.7L377.6 184.6L378.1 185.5L378.6 186.5L379.1 187.4L379.6 188.3L380.1 189.2L380.6 190.1L381.1 191L381.6 191.9L382.1 192.7L382.6 193.6L383.1 194.5L383.6 195.4L384.1 196.2L384.6 197.1L385.1 198L385.6 198.8L386.1 199.7L386.6 200.5L387.1 201.3L387.6 202.1L388.1 203L388.6 203.8L389.1 204.6L389.6 205.4L390.1 206.2L390.6 206.9L391.1 207.7L391.6 208.5L392.1 209.2L392.6 210L393.1 210.7L393.6 211.4L394.1 212.2L394.6 212.9L395.1 213.6L395.6 214.3L396.1 215L396.6 215.7L396.7 215.8" stroke="#d57a0c" stroke-width="1.9" fill="none" stroke-linejoin="round"/>
<path d="M68.6 42.7L69.1 42.7L69.6 42.7L70.1 42.7L70.6 42.7L71.1 42.7L71.6 42.7L72.1 42.7L72.6 42.7L73.1 42.7L73.6 42.7L74.1 42.7L74.6 42.7L75.1 42.7L75.6 42.7L76.1 42.7L76.6 42.7L77.1 42.7L77.6 42.7L78.1 42.7L78.6 42.7L79.1 42.7L79.6 42.7L80.1 42.7L80.6 42.7L81.1 42.7L81.6 42.7L82.1 42.7L82.6 42.7L83.1 42.7L83.6 42.7L84.1 42.7L84.6 42.7L85.1 42.7L85.6 42.7L86.1 42.7L86.6 42.7L87.1 42.7L87.6 42.7L88.1 42.7L88.6 42.7L89.1 42.7L89.6 42.7L90.1 42.7L90.6 42.7L91.1 42.7L91.6 42.7L92.1 42.7L92.6 42.7L93.1 42.7L93.6 42.7L94.1 42.7L94.6 42.7L95.1 42.7L95.6 42.7L96.1 42.7L96.6 42.7L97.1 42.7L97.6 42.7L98.1 42.7L98.6 42.7L99.1 42.7L99.6 42.7L100.1 42.7L100.6 42.7L101.1 42.7L101.6 42.7L102.1 42.7L102.6 42.7L103.1 42.7L103.6 42.7L104.1 42.7L104.6 42.7L105.1 42.7L105.6 42.7L106.1 42.7L106.6 42.7L107.1 42.7L107.6 42.7L108.1 42.7L108.6 42.7L109.1 42.7L109.6 42.7L110.1 42.7L110.6 42.7L111.1 42.7L111.6 42.7L112.1 42.7L112.6 42.7L113.1 42.7L113.6 42.7L114.1 42.7L114.6 42.7L115.1 42.7L115.6 42.7L116.1 42.7L116.6 42.7L117.1 42.7L117.6 42.7L118.1 42.8L118.6 42.8L119.1 42.9L119.6 43.1L120.1 43.2L120.6 43.3L121.1 43.6L121.6 43.9L122.1 44.4L122.6 44.9L123.1 45.5L123.6 46.1L124.1 46.9L124.6 47.9L125.1 49L125.6 50.1L126.1 51.2L126.6 52.3L127.1 53.5L127.6 54.7L128.1 55.9L128.6 57.2L129.1 58.6L129.6 60L130.1 61.5L130.6 63L131.1 64.2L131.6 65.5L132.1 66.7L132.6 67.9L133.1 68.9L133.6 69.6L134.1 70.3L134.6 70.9L135.1 71.4L135.6 71.8L136.1 72L136.6 72.2L137.1 72.4L137.6 72.6L138.1 72.7L138.6 72.8L139.1 72.8L139.6 72.8L140.1 72.8L140.6 72.9L141.1 72.9L141.6 72.9L142.1 72.9L142.6 72.9L143.1 72.9L143.6 72.9L144.1 72.9L144.6 72.9L145.1 72.9L145.6 72.9L146.1 73L146.6 73L147.1 73L147.6 73L148.1 73L148.6 73L149.1 73L149.6 73L150.1 73L150.6 73L151.1 73L151.6 73L152.1 73L152.6 73L153.1 73L153.6 73L154.1 73.1L154.6 73.1L155.1 73.1L155.6 73.1L156.1 73.1L156.6 73.1L157.1 73.1L157.6 73.1L158.1 73.1L158.6 73.1L159.1 73.1L159.6 73.1L160.1 73.1L160.6 73.1L161.1 73.1L161.6 73.1L162.1 73.1L162.6 73.1L163.1 73.1L163.6 73.1L164.1 73.1L164.6 73.1L165.1 73.1L165.6 73.2L166.1 73.2L166.6 73.2L167.1 73.2L167.6 73.2L168.1 73.2L168.6 73.2L169.1 73.2L169.6 73.2L170.1 73.2L170.6 73.3L171.1 73.3L171.6 73.3L172.1 73.3L172.6 73.3L173.1 73.4L173.6 73.5L174.1 73.6L174.6 73.7L175.1 73.9L175.6 74L176.1 74.3L176.6 74.7L177.1 75.2L177.6 75.8L178.1 76.4L178.6 77.2L179.1 78.1L179.6 79.3L180.1 80.7L180.6 82.5L181.1 84.4L181.6 87.2L182.1 90.7L182.6 94.7L183.1 98.9L183.6 103.6L184.1 108.9L184.6 114.3L185.1 119.5L185.6 124.8L186.1 130L186.6 134.8L187.1 138.7L187.6 142L188.1 145L188.6 147.4L189.1 149.3L189.6 150.9L190.1 152.3L190.6 153.5L191.1 154.4L191.6 155.1L192.1 155.7L192.6 156.1L193.1 156.5L193.6 156.9L194.1 157.1L194.6 157.2L195.1 157.3L195.6 157.4L196.1 157.4L196.6 157.4L197.1 157.5L197.6 157.5L198.1 157.5L198.6 157.5L199.1 157.5L199.6 157.5L200.1 157.5L200.6 157.5L201.1 157.5L201.6 157.5L202.1 157.5L202.6 157.5L203.1 157.5L203.6 157.5L204.1 157.5L204.6 157.5L205.1 157.5L205.6 157.5L206.1 157.5L206.6 157.5L207.1 157.5L207.6 157.5L208.1 157.5L208.6 157.5L209.1 157.5L209.6 157.5L210.1 157.5L210.6 157.5L211.1 157.5L211.6 157.4L212.1 157.3L212.6 157.2L213.1 157L213.6 156.7L214.1 156.4L214.6 156L215.1 155.4L215.6 154.7L216.1 153.8L216.6 152.8L217.1 151.8L217.6 150.4L218.1 148.8L218.6 146.9L219.1 144.8L219.6 142.5L220.1 139.8L220.6 136.8L221.1 133.5L221.6 130.4L222.1 127.3L222.6 124.2L223.1 121L223.6 117.9L224.1 114.6L224.6 111.3L225.1 108.2L225.6 105.5L226.1 102.9L226.6 100.5L227.1 98.4L227.6 96.7L228.1 95.3L228.6 94L229.1 92.8L229.6 92L230.1 91.4L230.6 91L231.1 90.6L231.6 90.3L232.1 90L232.6 89.9L233.1 89.8L233.6 89.7L234.1 89.7L234.6 89.7L235.1 89.6L235.6 89.6L236.1 89.6L236.6 89.6L237.1 89.5L237.6 89.5L238.1 89.5L238.6 89.5L239.1 89.4L239.6 89.4L240.1 89.4L240.6 89.4L241.1 89.4L241.6 89.3L242.1 89.3L242.6 89.2L243.1 89.2L243.6 89L244.1 88.8L244.6 88.4L245.1 87.9L245.6 87.4L246.1 86.9L246.6 86.1L247.1 85L247.6 83.7L248.1 82.4L248.6 81.3L249.1 80.1L249.6 78.9L250.1 77.8L250.6 76.7L251.1 75.8L251.6 75L252.1 74.3L252.6 73.6L253.1 73L253.6 72.5L254.1 72.1L254.6 71.8L255.1 71.6L255.6 71.3L256.1 71.1L256.6 71L257.1 70.9L257.6 70.8L258.1 70.8L258.6 70.7L259.1 70.7L259.6 70.7L260.1 70.6L260.6 70.6L261.1 70.6L261.6 70.6L262.1 70.6L262.6 70.6L263.1 70.6L263.6 70.6L264.1 70.6L264.6 70.6L265.1 70.6L265.6 70.6L266.1 70.6L266.6 70.6L267.1 70.6L267.6 70.6L268.1 70.6L268.6 70.6L269.1 70.6L269.6 70.6L270.1 70.6L270.6 70.6L271.1 70.6L271.6 70.6L272.1 70.6L272.6 70.6L273.1 70.6L273.6 70.6L274.1 70.6L274.6 70.6L275.1 70.6L275.6 70.6L276.1 70.6L276.6 70.6L277.1 70.6L277.6 70.6L278.1 70.6L278.6 70.6L279.1 70.6L279.6 70.6L280.1 70.6L280.6 70.6L281.1 70.6L281.6 70.6L282.1 70.6L282.6 70.6L283.1 70.6L283.6 70.6L284.1 70.6L284.6 70.6L285.1 70.6L285.6 70.6L286.1 70.6L286.6 70.6L287.1 70.6L287.6 70.6L288.1 70.6L288.6 70.6L289.1 70.6L289.6 70.6L290.1 70.6L290.6 70.6L291.1 70.6L291.6 70.6L292.1 70.6L292.6 70.6L293.1 70.6L293.6 70.6L294.1 70.6L294.6 70.6L295.1 70.6L295.6 70.6L296.1 70.6L296.6 70.6L297.1 70.6L297.6 70.6L298.1 70.6L298.6 70.6L299.1 70.6L299.6 70.6L300.1 70.6L300.6 70.6L301.1 70.6L301.6 70.6L302.1 70.6L302.6 70.6L303.1 70.7L303.6 71L304.1 71.8L304.6 76.9L305.1 89.1L305.6 110L306.1 127.2L306.6 133.6L307.1 135.2L307.6 135.4L308.1 135.5L308.6 135.5L309.1 135.6L309.6 135.6L310.1 135.6L310.6 135.6L311.1 135.6L311.6 135.5L312.1 135.5L312.6 135.4L313.1 135.4L313.6 135.3L314.1 135.3L314.6 135.2L315.1 135.1L315.6 135.1L316.1 135L316.6 134.9L317.1 134.8L317.6 134.7L318.1 134.6L318.6 134.4L319.1 134.3L319.6 134.2L320.1 134.1L320.6 134L321.1 133.9L321.6 133.8L322.1 133.7L322.6 133.7L323.1 133.7L323.6 133.7L324.1 133.8L324.6 133.9L325.1 134L325.6 134.2L326.1 134.3L326.6 134.5L327.1 134.7L327.6 134.9L328.1 135L328.6 135.3L329.1 135.5L329.6 135.9L330.1 136.2L330.6 136.6L331.1 137L331.6 137.5L332.1 137.9L332.6 138.4L333.1 138.9L333.6 139.3L334.1 139.8L334.6 140.2L335.1 140.6L335.6 141L336.1 141.4L336.6 141.7L337.1 142.1L337.6 142.5L338.1 142.9L338.6 143.3L339.1 143.7L339.6 144.1L340.1 144.5L340.6 144.9L341.1 145.3L341.6 145.7L342.1 146.1L342.6 146.6L343.1 147.1L343.6 147.7L344.1 148.2L344.6 148.5L345.1 148.7L345.6 142.4L346.1 125.3L346.6 102L347.1 86.4L347.6 75.2L348.1 71.4L348.6 69.9L349.1 69.9L349.6 70.3L350.1 70.8L350.6 71.5L351.1 72.3L351.6 73L352.1 73.6L352.6 74.2L353.1 74.8L353.6 75.4L354.1 76L354.6 76.6L355.1 77.2L355.6 77.8L356.1 78.4L356.6 79L357.1 79.6L357.6 80.1L358.1 80.7L358.6 81.3L359.1 81.9L359.6 82.4L360.1 83L360.6 83.5L361.1 84.1L361.6 84.6L362.1 85.2L362.6 85.7L363.1 86.2L363.6 86.7L364.1 87.2L364.6 87.7L365.1 88.2L365.6 88.6L366.1 89.1L366.6 89.6L367.1 90L367.6 90.5L368.1 90.9L368.6 91.4L369.1 91.8L369.6 92.2L370.1 92.6L370.6 93L371.1 93.3L371.6 93.7L372.1 94.1L372.6 94.5L373.1 94.8L373.6 95.2L374.1 95.5L374.6 95.8L375.1 96.1L375.6 96.5L376.1 96.8L376.6 97.1L377.1 97.4L377.6 97.7L378.1 98L378.6 98.3L379.1 98.5L379.6 98.8L380.1 99.1L380.6 99.3L381.1 99.5L381.6 99.7L382.1 99.8L382.6 100L383.1 100.1L383.6 100.2L384.1 100.3L384.6 100.4L385.1 100.5L385.6 100.6L386.1 100.7L386.6 100.7L387.1 100.8L387.6 100.8L388.1 100.8L388.6 100.8L389.1 100.7L389.6 100.7L390.1 100.6L390.6 100.5L391.1 100.4L391.6 100.4L392.1 100.3L392.6 100.2L393.1 100.1L393.6 100L394.1 99.9L394.6 99.7L395.1 99.6L395.6 99.4L396.1 99.3L396.6 99.1" stroke="#0aa9a1" stroke-width="1.9" fill="none" stroke-linejoin="round"/>
<path d="M68.6 34.3V223.7H399.3M68.6 223.7v3.1M99.3 223.7v3.1M129.0 223.7v3.1M159.7 223.7v3.1M189.4 223.7v3.1M220.1 223.7v3.1M250.8 223.7v3.1M278.5 223.7v3.1M309.2 223.7v3.1M338.9 223.7v3.1M369.6 223.7v3.1M68.6 223.7h-3.4M68.6 202.7h-3.4M68.6 181.6h-3.4M68.6 160.6h-3.4M68.6 139.5h-3.4M68.6 118.5h-3.4M68.6 97.5h-3.4M68.6 76.4h-3.4M68.6 55.4h-3.4M68.6 34.3h-3.4" stroke="#888" stroke-width="1.2" fill="none"/>
<text transform="translate(68.6,234.8)" font-size="6.30" text-anchor="middle" fill="#4a4a4a">01.08.</text>
<text transform="translate(99.3,234.8)" font-size="6.30" text-anchor="middle" fill="#4a4a4a">01.09.</text>
<text transform="translate(129.0,234.8)" font-size="6.30" text-anchor="middle" fill="#4a4a4a">01.10.</text>
<text transform="translate(159.7,234.8)" font-size="6.30" text-anchor="middle" fill="#4a4a4a">01.11.</text>
<text transform="translate(189.4,234.8)" font-size="6.30" text-anchor="middle" fill="#4a4a4a">01.12.</text>
<text transform="translate(220.1,234.8)" font-size="6.30" text-anchor="middle" fill="#4a4a4a">01.01.</text>
<text transform="translate(250.8,234.8)" font-size="6.30" text-anchor="middle" fill="#4a4a4a">01.02.</text>
<text transform="translate(278.5,234.8)" font-size="6.30" text-anchor="middle" fill="#4a4a4a">01.03.</text>
<text transform="translate(309.2,234.8)" font-size="6.30" text-anchor="middle" fill="#4a4a4a">01.04.</text>
<text transform="translate(338.9,234.8)" font-size="6.30" text-anchor="middle" fill="#4a4a4a">01.05.</text>
<text transform="translate(369.6,234.8)" font-size="6.30" text-anchor="middle" fill="#4a4a4a">01.06.</text>
<text transform="translate(63.8,226.5)" font-size="6.60" text-anchor="end" fill="#4a4a4a">0.5</text>
<text transform="translate(63.8,205.4)" font-size="6.60" text-anchor="end" fill="#4a4a4a">0.6</text>
<text transform="translate(63.8,184.4)" font-size="6.60" text-anchor="end" fill="#4a4a4a">0.7</text>
<text transform="translate(63.8,163.4)" font-size="6.60" text-anchor="end" fill="#4a4a4a">0.8</text>
<text transform="translate(63.8,142.3)" font-size="6.60" text-anchor="end" fill="#4a4a4a">0.9</text>
<text transform="translate(63.8,121.3)" font-size="6.60" text-anchor="end" fill="#4a4a4a">1</text>
<text transform="translate(63.8,100.2)" font-size="6.60" text-anchor="end" fill="#4a4a4a">1.1</text>
<text transform="translate(63.8,79.2)" font-size="6.60" text-anchor="end" fill="#4a4a4a">1.2</text>
<text transform="translate(63.8,58.2)" font-size="6.60" text-anchor="end" fill="#4a4a4a">1.3</text>
<text transform="translate(63.8,37.1)" font-size="6.60" text-anchor="end" fill="#4a4a4a">1.4</text>
<text transform="translate(51.7,129.0) rotate(-90) scale(1.000,0.950)" font-size="7.30" text-anchor="middle" fill="#4a4a4a">Tartuntaa per tartuttaja</text>
<text transform="translate(233.9,31.6)" font-size="7.15" text-anchor="middle" font-weight="bold" fill="#111">M1Ro1VE2Se2Ra4</text>
<rect x="182.5" y="40.7" width="103.2" height="16" fill="#fff" stroke="#666" stroke-width="0.8"/>
<rect x="184.6" y="43.4" width="24.8" height="4.1" fill="#fcb648" stroke="#555" stroke-width="0.6"/>
<rect x="184.6" y="50.2" width="24.8" height="4.2" fill="#78f4f4" stroke="#555" stroke-width="0.6"/>
<text transform="translate(211.2,47.6)" font-size="5.93" fill="#222">Tehollinen tarttuvuusluku R</text>
<text transform="translate(211.2,54.5)" font-size="5.93" fill="#222">Tartuttavuusluku R</text>
</g>
<g id="chartC">
<path d="M497.0 224.3V25.5M526.3 224.3V25.5M556.5 224.3V25.5M585.8 224.3V25.5M616.1 224.3V25.5M646.4 224.3V25.5M673.7 224.3V25.5M704.0 224.3V25.5M733.3 224.3V25.5M763.6 224.3V25.5M792.6 224.3V25.5M466.7 199.5H792.6M466.7 174.6H792.6M466.7 149.8H792.6M466.7 124.9H792.6M466.7 100.1H792.6M466.7 75.2H792.6M466.7 50.4H792.6M466.7 25.5H792.6" stroke="#e6e6e6" stroke-width="0.8" fill="none"/>
<path d="M466.7 214.4L483.8 214.4L483.8 209.4L498.4 209.4L498.4 204.4L509.2 204.4L509.2 199.5L517 199.5L517 194.5L524.8 194.5L524.8 189.5L531.6 189.5L531.6 184.5L538.5 184.5L538.5 179.6L544.3 179.6L544.3 174.6L550.2 174.6L550.2 169.6L555.1 169.6L555.1 164.7L559 164.7L559 159.7L562.9 159.7L562.9 154.7L566.8 154.7L566.8 149.8L569.7 149.8L569.7 144.8L572.7 144.8L572.7 139.8L576.6 139.8L576.6 134.8L580.5 134.8L580.5 129.9L588.3 129.9L588.3 134.8L592.2 134.8L592.2 139.8L595.1 139.8L595.1 144.8L598 144.8L598 149.8L601.9 149.8L601.9 154.7L607.8 154.7L607.8 159.7L617.6 159.7L617.6 164.7L625.4 164.7L625.4 159.7L634.2 159.7L634.2 154.7L639.1 154.7L639.1 149.8L643 149.8L643 144.8L647.8 144.8L647.8 139.8L651.7 139.8L651.7 134.8L654.7 134.8L654.7 129.9L657.6 129.9L657.6 124.9L660.5 124.9L660.5 119.9L663.5 119.9L663.5 115L666.4 115L666.4 110L668.3 110L668.3 105L671.3 105L671.3 100.1L673.2 100.1L673.2 95.1L676.2 95.1L676.2 90.1L678.1 90.1L678.1 85.1L680.1 85.1L680.1 80.2L683 80.2L683 75.2L684.9 75.2L684.9 70.2L687.9 70.2L687.9 65.3L689.8 65.3L689.8 60.3L692.8 60.3L692.8 55.3L695.7 55.3L695.7 50.4L699.6 50.4L699.6 45.4L703.5 45.4L703.5 40.4L705.5 40.4L705.5 45.4L707.4 45.4L707.4 50.4L709.4 50.4L709.4 55.3L710.3 55.3L710.3 60.3L712.3 60.3L712.3 65.3L714.2 65.3L714.2 70.2L715.2 70.2L715.2 75.2L717.2 75.2L717.2 80.2L719.1 80.2L719.1 85.1L722.1 85.1L722.1 90.1L724 90.1L724 95.1L726 95.1L726 100.1L727.9 100.1L727.9 105L730.8 105L730.8 110L732.8 110L732.8 115L735.7 115L735.7 119.9L738.7 119.9L738.7 124.9L741.6 124.9L741.6 129.9L752.3 129.9L752.3 124.9L761.1 124.9L761.1 129.9L765 129.9L765 134.8L768 134.8L768 139.8L771.9 139.8L771.9 144.8L774.8 144.8L774.8 149.8L776.7 149.8L776.7 154.7L780.6 154.7L780.6 159.7L783.6 159.7L783.6 164.7L786.5 164.7L786.5 169.6L789.4 169.6L789.4 174.6L792.4 174.6L792.4 219.3L789.4 219.3L789.4 214.4L781.6 214.4L781.6 209.4L775.8 209.4L775.8 204.4L769.9 204.4L769.9 199.5L764 199.5L764 194.5L746.5 194.5L746.5 199.5L745.5 199.5L745.5 194.5L737.7 194.5L737.7 189.5L733.8 189.5L733.8 184.5L729.9 184.5L729.9 179.6L726 179.6L726 174.6L722.1 174.6L722.1 169.6L719.1 169.6L719.1 164.7L716.2 164.7L716.2 159.7L713.3 159.7L713.3 154.7L710.3 154.7L710.3 149.8L708.4 149.8L708.4 144.8L705.5 144.8L705.5 139.8L702.5 139.8L702.5 144.8L697.6 144.8L697.6 149.8L692.8 149.8L692.8 154.7L688.9 154.7L688.9 159.7L684.9 159.7L684.9 164.7L681 164.7L681 169.6L678.1 169.6L678.1 174.6L674.2 174.6L674.2 179.6L670.3 179.6L670.3 184.5L665.4 184.5L665.4 189.5L661.5 189.5L661.5 194.5L655.7 194.5L655.7 199.5L648.8 199.5L648.8 204.4L641 204.4L641 209.4L630.3 209.4L630.3 214.4L612.7 214.4L612.7 209.4L600 209.4L600 204.4L593.2 204.4L593.2 199.5L587.3 199.5L587.3 194.5L581.4 194.5L581.4 199.5L574.6 199.5L574.6 204.4L567.8 204.4L567.8 209.4L560.9 209.4L560.9 214.4L551.2 214.4L551.2 219.3L534.6 219.3L534.6 224.3L466.7 224.3Z" fill="#b3f6f6"/>
<path d="M466.7 219.3L495.5 219.3L495.5 214.4L511.1 214.4L511.1 209.4L520.9 209.4L520.9 204.4L530.7 204.4L530.7 199.5L539.4 199.5L539.4 194.5L547.3 194.5L547.3 189.5L554.1 189.5L554.1 184.5L559 184.5L559 179.6L562.9 179.6L562.9 174.6L567.8 174.6L567.8 169.6L571.7 169.6L571.7 164.7L575.6 164.7L575.6 159.7L579.5 159.7L579.5 154.7L589.3 154.7L589.3 159.7L593.2 159.7L593.2 164.7L596.1 164.7L596.1 169.6L601 169.6L601 174.6L607.8 174.6L607.8 179.6L618.5 179.6L618.5 184.5L623.4 184.5L623.4 179.6L635.1 179.6L635.1 174.6L640 174.6L640 169.6L645.9 169.6L645.9 164.7L649.8 164.7L649.8 159.7L654.7 159.7L654.7 154.7L657.6 154.7L657.6 149.8L661.5 149.8L661.5 144.8L664.4 144.8L664.4 139.8L667.4 139.8L667.4 134.8L670.3 134.8L670.3 129.9L673.2 129.9L673.2 124.9L676.2 124.9L676.2 119.9L678.1 119.9L678.1 115L681 115L681 110L684 110L684 105L685.9 105L685.9 100.1L688.9 100.1L688.9 95.1L691.8 95.1L691.8 90.1L695.7 90.1L695.7 85.1L699.6 85.1L699.6 80.2L707.4 80.2L707.4 85.1L709.4 85.1L709.4 90.1L710.3 90.1L710.3 95.1L712.3 95.1L712.3 100.1L714.2 100.1L714.2 105L717.2 105L717.2 110L719.1 110L719.1 115L721.1 115L721.1 119.9L724 119.9L724 124.9L726.9 124.9L726.9 129.9L728.9 129.9L728.9 134.8L731.8 134.8L731.8 139.8L734.7 139.8L734.7 144.8L737.7 144.8L737.7 149.8L741.6 149.8L741.6 154.7L752.3 154.7L752.3 149.8L761.1 149.8L761.1 154.7L766 154.7L766 159.7L768.9 159.7L768.9 164.7L772.8 164.7L772.8 169.6L776.7 169.6L776.7 174.6L779.7 174.6L779.7 179.6L783.6 179.6L783.6 184.5L787.5 184.5L787.5 189.5L791.4 189.5L791.4 194.5L792.4 194.5L792.4 209.4L791.4 209.4L791.4 204.4L786.5 204.4L786.5 199.5L781.6 199.5L781.6 194.5L776.7 194.5L776.7 189.5L771.9 189.5L771.9 184.5L768 184.5L768 179.6L763.1 179.6L763.1 174.6L750.4 174.6L750.4 179.6L743.5 179.6L743.5 174.6L738.7 174.6L738.7 169.6L734.7 169.6L734.7 164.7L730.8 164.7L730.8 159.7L727.9 159.7L727.9 154.7L725 154.7L725 149.8L722.1 149.8L722.1 144.8L719.1 144.8L719.1 139.8L716.2 139.8L716.2 134.8L714.2 134.8L714.2 129.9L712.3 129.9L712.3 124.9L709.4 124.9L709.4 119.9L708.4 119.9L708.4 115L705.5 115L705.5 110L703.5 110L703.5 115L697.6 115L697.6 119.9L693.7 119.9L693.7 124.9L690.8 124.9L690.8 129.9L686.9 129.9L686.9 134.8L684 134.8L684 139.8L681 139.8L681 144.8L678.1 144.8L678.1 149.8L675.2 149.8L675.2 154.7L671.3 154.7L671.3 159.7L668.3 159.7L668.3 164.7L664.4 164.7L664.4 169.6L660.5 169.6L660.5 174.6L656.6 174.6L656.6 179.6L651.7 179.6L651.7 184.5L645.9 184.5L645.9 189.5L640 189.5L640 194.5L632.2 194.5L632.2 199.5L610.7 199.5L610.7 194.5L601 194.5L601 189.5L595.1 189.5L595.1 184.5L591.2 184.5L591.2 179.6L586.3 179.6L586.3 174.6L583.4 174.6L583.4 179.6L576.6 179.6L576.6 184.5L572.7 184.5L572.7 189.5L566.8 189.5L566.8 194.5L561.9 194.5L561.9 199.5L556 199.5L556 204.4L547.3 204.4L547.3 209.4L536.5 209.4L536.5 214.4L522.8 214.4L522.8 219.3L505.3 219.3L505.3 224.3L466.7 224.3Z" fill="#74ebeb"/>
<path d="M467.7 222.9L468.7 222L469.6 221.7L470.6 220.6L471.6 221.3L472.6 221.1L473.5 221.1L474.5 220.7L475.5 221L476.5 220.7L477.4 220.2L478.4 221.3L479.4 221.3L480.4 221.7L481.3 220.7L482.3 220.4L483.3 220.3L484.3 219.7L485.3 221L486.2 219.8L487.2 219.6L488.2 220.1L489.2 220.9L490.1 220.1L491.1 219.3L492.1 219.4L493.1 220L494 219.5L495 219.1L496 219.1L497 219.4L497.9 219.9L498.9 217.8L499.9 217.9L500.9 217.6L501.9 216.4L502.8 217L503.8 216.7L504.8 217.7L505.8 216.6L506.7 215.3L507.7 216.2L508.7 215.2L509.7 213.9L510.6 214.2L511.6 213.8L512.6 213.2L513.6 213.4L514.5 211.6L515.5 212.5L516.5 212.9L517.5 212.4L518.5 212.1L519.4 211.6L520.4 211.8L521.4 210.6L522.4 212.4L523.3 211.1L524.3 212.1L525.3 210.6L526.3 212L527.2 211.6L528.2 209.9L529.2 211L530.2 210.4L531.1 211.9L532.1 212.8L533.1 212.4L534.1 213.7L535.1 214.8L536 211.3L537 210.9L538 208.5L539 208.3L539.9 205.2L540.9 203.1L541.9 200.8L542.9 198.7L543.8 195.6L544.8 196.4L545.8 194.3L546.8 197.4L547.7 199.3L548.7 200L549.7 202.7L550.7 203.7L551.7 201.2L552.6 198.9L553.6 195.3L554.6 194.7L555.6 192.7L556.5 191.3L557.5 191.8L558.5 194L559.5 193.9L560.4 193.8L561.4 194.1L562.4 192.2L563.4 192.4L564.4 196.4L565.3 197.1L566.3 197.2L567.3 200.1L568.3 201.3L569.2 199L570.2 195.2L571.2 190.7L572.2 186.4L573.1 184.2L574.1 181.2L575.1 177.7L576.1 176.3L577 174.8L578 174.8L579 171.2L580 170.2L581 168.1L581.9 165.1L582.9 160.7L583.9 162.2L584.9 160L585.8 162.9L586.8 164.3L587.8 166L588.8 171.2L589.7 173.8L590.7 174.4L591.7 175.9L592.7 176.3L593.6 177.5L594.6 176.5L595.6 177.2L596.6 174.3L597.6 170.1L598.5 168.8L599.5 165L600.5 164.3L601.5 165.5L602.4 164.7L603.4 164.8L604.4 167.6L605.4 170.7L606.3 173.1L607.3 176.8L608.3 176L609.3 178.3L610.2 178.6L611.2 178.8L612.2 180.8L613.2 181.4L614.2 180.9L615.1 183.9L616.1 182.5L617.1 184.6L618.1 183.6L619 183.1L620 181L621 181.3L622 180.9L622.9 181.8L623.9 181L624.9 183.5L625.9 184.8L626.8 185.4L627.8 190.9L628.8 189.9L629.8 189.8L630.8 193.4L631.7 192.2L632.7 194.3L633.7 195.4L634.7 194.7L635.6 194.8L636.6 193L637.6 191.7L638.6 188.4L639.5 186.5L640.5 185.3L641.5 184.5L642.5 183.1L643.4 183.3L644.4 181.4L645.4 181.7L646.4 183.8L647.4 183.5L648.3 188L649.3 191.4L650.3 191.1L651.3 189.5L652.2 186.4L653.2 184.4L654.2 180.6L655.2 179.1L656.1 176L657.1 172.5L658.1 168.3L659.1 169.8L660 166.8L661 162.7L662 159.2L663 156L664 152.7L664.9 149.4L665.9 148.2L666.9 146.7L667.9 145.4L668.8 142.2L669.8 137.8L670.8 137.6L671.8 134.4L672.7 126.9L673.7 131.6L674.7 130.5L675.7 133.5L676.6 126.6L677.6 129.1L678.6 132.1L679.6 131.7L680.6 133.8L681.5 131L682.5 128.7L683.5 129.3L684.5 129L685.4 133L686.4 129.8L687.4 133L688.4 125.3" stroke="#1515c6" stroke-width="2" fill="none" stroke-linejoin="round"/>
<g fill="#0808cc"><ellipse cx="466.7" cy="224.3" rx="2.1" ry="1.5"/><ellipse cx="467.7" cy="219.3" rx="2.1" ry="1.5"/><ellipse cx="468.7" cy="214.4" rx="2.1" ry="1.5"/><ellipse cx="469.6" cy="224.3" rx="2.1" ry="1.5"/><ellipse cx="470.6" cy="224.3" rx="2.1" ry="1.5"/><ellipse cx="471.6" cy="224.3" rx="2.1" ry="1.5"/><ellipse cx="472.6" cy="224.3" rx="2.1" ry="1.5"/><ellipse cx="473.5" cy="219.3" rx="2.1" ry="1.5"/><ellipse cx="474.5" cy="224.3" rx="2.1" ry="1.5"/><ellipse cx="475.5" cy="224.3" rx="2.1" ry="1.5"/><ellipse cx="476.5" cy="224.3" rx="2.1" ry="1.5"/><ellipse cx="477.4" cy="219.3" rx="2.1" ry="1.5"/><ellipse cx="478.4" cy="224.3" rx="2.1" ry="1.5"/><ellipse cx="479.4" cy="219.3" rx="2.1" ry="1.5"/><ellipse cx="480.4" cy="214.4" rx="2.1" ry="1.5"/><ellipse cx="481.3" cy="219.3" rx="2.1" ry="1.5"/><ellipse cx="482.3" cy="224.3" rx="2.1" ry="1.5"/><ellipse cx="483.3" cy="219.3" rx="2.1" ry="1.5"/><ellipse cx="484.3" cy="219.3" rx="2.1" ry="1.5"/><ellipse cx="485.3" cy="224.3" rx="2.1" ry="1.5"/><ellipse cx="486.2" cy="219.3" rx="2.1" ry="1.5"/><ellipse cx="487.2" cy="219.3" rx="2.1" ry="1.5"/><ellipse cx="488.2" cy="214.4" rx="2.1" ry="1.5"/><ellipse cx="489.2" cy="219.3" rx="2.1" ry="1.5"/><ellipse cx="490.1" cy="219.3" rx="2.1" ry="1.5"/><ellipse cx="491.1" cy="219.3" rx="2.1" ry="1.5"/><ellipse cx="492.1" cy="219.3" rx="2.1" ry="1.5"/><ellipse cx="493.1" cy="219.3" rx="2.1" ry="1.5"/><ellipse cx="494" cy="224.3" rx="2.1" ry="1.5"/><ellipse cx="495" cy="219.3" rx="2.1" ry="1.5"/><ellipse cx="496" cy="219.3" rx="2.1" ry="1.5"/><ellipse cx="497" cy="219.3" rx="2.1" ry="1.5"/><ellipse cx="497.9" cy="224.3" rx="2.1" ry="1.5"/><ellipse cx="498.9" cy="224.3" rx="2.1" ry="1.5"/><ellipse cx="499.9" cy="214.4" rx="2.1" ry="1.5"/><ellipse cx="500.9" cy="214.4" rx="2.1" ry="1.5"/><ellipse cx="501.9" cy="219.3" rx="2.1" ry="1.5"/><ellipse cx="502.8" cy="224.3" rx="2.1" ry="1.5"/><ellipse cx="503.8" cy="199.5" rx="2.1" ry="1.5"/><ellipse cx="504.8" cy="219.3" rx="2.1" ry="1.5"/><ellipse cx="505.8" cy="214.4" rx="2.1" ry="1.5"/><ellipse cx="506.7" cy="219.3" rx="2.1" ry="1.5"/><ellipse cx="507.7" cy="219.3" rx="2.1" ry="1.5"/><ellipse cx="508.7" cy="214.4" rx="2.1" ry="1.5"/><ellipse cx="509.7" cy="209.4" rx="2.1" ry="1.5"/><ellipse cx="510.6" cy="204.4" rx="2.1" ry="1.5"/><ellipse cx="511.6" cy="214.4" rx="2.1" ry="1.5"/><ellipse cx="512.6" cy="214.4" rx="2.1" ry="1.5"/><ellipse cx="513.6" cy="219.3" rx="2.1" ry="1.5"/><ellipse cx="514.5" cy="209.4" rx="2.1" ry="1.5"/><ellipse cx="515.5" cy="209.4" rx="2.1" ry="1.5"/><ellipse cx="516.5" cy="214.4" rx="2.1" ry="1.5"/><ellipse cx="517.5" cy="189.5" rx="2.1" ry="1.5"/><ellipse cx="518.5" cy="214.4" rx="2.1" ry="1.5"/><ellipse cx="519.4" cy="214.4" rx="2.1" ry="1.5"/><ellipse cx="520.4" cy="214.4" rx="2.1" ry="1.5"/><ellipse cx="521.4" cy="204.4" rx="2.1" ry="1.5"/><ellipse cx="522.4" cy="209.4" rx="2.1" ry="1.5"/><ellipse cx="523.3" cy="209.4" rx="2.1" ry="1.5"/><ellipse cx="524.3" cy="214.4" rx="2.1" ry="1.5"/><ellipse cx="525.3" cy="224.3" rx="2.1" ry="1.5"/><ellipse cx="526.3" cy="214.4" rx="2.1" ry="1.5"/><ellipse cx="527.2" cy="224.3" rx="2.1" ry="1.5"/><ellipse cx="528.2" cy="219.3" rx="2.1" ry="1.5"/><ellipse cx="529.2" cy="219.3" rx="2.1" ry="1.5"/><ellipse cx="530.2" cy="209.4" rx="2.1" ry="1.5"/><ellipse cx="531.1" cy="204.4" rx="2.1" ry="1.5"/><ellipse cx="532.1" cy="224.3" rx="2.1" ry="1.5"/><ellipse cx="533.1" cy="189.5" rx="2.1" ry="1.5"/><ellipse cx="534.1" cy="214.4" rx="2.1" ry="1.5"/><ellipse cx="535.1" cy="219.3" rx="2.1" ry="1.5"/><ellipse cx="536" cy="219.3" rx="2.1" ry="1.5"/><ellipse cx="537" cy="224.3" rx="2.1" ry="1.5"/><ellipse cx="538" cy="204.4" rx="2.1" ry="1.5"/><ellipse cx="539" cy="209.4" rx="2.1" ry="1.5"/><ellipse cx="539.9" cy="204.4" rx="2.1" ry="1.5"/><ellipse cx="540.9" cy="194.5" rx="2.1" ry="1.5"/><ellipse cx="541.9" cy="199.5" rx="2.1" ry="1.5"/><ellipse cx="542.9" cy="184.5" rx="2.1" ry="1.5"/><ellipse cx="543.8" cy="189.5" rx="2.1" ry="1.5"/><ellipse cx="544.8" cy="204.4" rx="2.1" ry="1.5"/><ellipse cx="545.8" cy="184.5" rx="2.1" ry="1.5"/><ellipse cx="546.8" cy="189.5" rx="2.1" ry="1.5"/><ellipse cx="547.7" cy="194.5" rx="2.1" ry="1.5"/><ellipse cx="548.7" cy="214.4" rx="2.1" ry="1.5"/><ellipse cx="549.7" cy="189.5" rx="2.1" ry="1.5"/><ellipse cx="550.7" cy="189.5" rx="2.1" ry="1.5"/><ellipse cx="551.7" cy="209.4" rx="2.1" ry="1.5"/><ellipse cx="552.6" cy="199.5" rx="2.1" ry="1.5"/><ellipse cx="553.6" cy="194.5" rx="2.1" ry="1.5"/><ellipse cx="554.6" cy="144.8" rx="2.1" ry="1.5"/><ellipse cx="555.6" cy="144.8" rx="2.1" ry="1.5"/><ellipse cx="556.5" cy="164.7" rx="2.1" ry="1.5"/><ellipse cx="557.5" cy="194.5" rx="2.1" ry="1.5"/><ellipse cx="558.5" cy="189.5" rx="2.1" ry="1.5"/><ellipse cx="559.5" cy="194.5" rx="2.1" ry="1.5"/><ellipse cx="560.4" cy="199.5" rx="2.1" ry="1.5"/><ellipse cx="561.4" cy="174.6" rx="2.1" ry="1.5"/><ellipse cx="562.4" cy="184.5" rx="2.1" ry="1.5"/><ellipse cx="563.4" cy="204.4" rx="2.1" ry="1.5"/><ellipse cx="564.4" cy="199.5" rx="2.1" ry="1.5"/><ellipse cx="565.3" cy="189.5" rx="2.1" ry="1.5"/><ellipse cx="566.3" cy="189.5" rx="2.1" ry="1.5"/><ellipse cx="567.3" cy="184.5" rx="2.1" ry="1.5"/><ellipse cx="568.3" cy="209.4" rx="2.1" ry="1.5"/><ellipse cx="569.2" cy="174.6" rx="2.1" ry="1.5"/><ellipse cx="570.2" cy="194.5" rx="2.1" ry="1.5"/><ellipse cx="571.2" cy="184.5" rx="2.1" ry="1.5"/><ellipse cx="572.2" cy="169.6" rx="2.1" ry="1.5"/><ellipse cx="573.1" cy="199.5" rx="2.1" ry="1.5"/><ellipse cx="574.1" cy="169.6" rx="2.1" ry="1.5"/><ellipse cx="575.1" cy="144.8" rx="2.1" ry="1.5"/><ellipse cx="576.1" cy="174.6" rx="2.1" ry="1.5"/><ellipse cx="577" cy="179.6" rx="2.1" ry="1.5"/><ellipse cx="578" cy="179.6" rx="2.1" ry="1.5"/><ellipse cx="579" cy="164.7" rx="2.1" ry="1.5"/><ellipse cx="580" cy="179.6" rx="2.1" ry="1.5"/><ellipse cx="581" cy="179.6" rx="2.1" ry="1.5"/><ellipse cx="581.9" cy="164.7" rx="2.1" ry="1.5"/><ellipse cx="582.9" cy="139.8" rx="2.1" ry="1.5"/><ellipse cx="583.9" cy="159.7" rx="2.1" ry="1.5"/><ellipse cx="584.9" cy="129.9" rx="2.1" ry="1.5"/><ellipse cx="585.8" cy="179.6" rx="2.1" ry="1.5"/><ellipse cx="586.8" cy="129.9" rx="2.1" ry="1.5"/><ellipse cx="587.8" cy="154.7" rx="2.1" ry="1.5"/><ellipse cx="588.8" cy="179.6" rx="2.1" ry="1.5"/><ellipse cx="589.7" cy="184.5" rx="2.1" ry="1.5"/><ellipse cx="590.7" cy="169.6" rx="2.1" ry="1.5"/><ellipse cx="591.7" cy="159.7" rx="2.1" ry="1.5"/><ellipse cx="592.7" cy="174.6" rx="2.1" ry="1.5"/><ellipse cx="593.6" cy="184.5" rx="2.1" ry="1.5"/><ellipse cx="594.6" cy="194.5" rx="2.1" ry="1.5"/><ellipse cx="595.6" cy="149.8" rx="2.1" ry="1.5"/><ellipse cx="596.6" cy="164.7" rx="2.1" ry="1.5"/><ellipse cx="597.6" cy="184.5" rx="2.1" ry="1.5"/><ellipse cx="598.5" cy="159.7" rx="2.1" ry="1.5"/><ellipse cx="599.5" cy="159.7" rx="2.1" ry="1.5"/><ellipse cx="600.5" cy="174.6" rx="2.1" ry="1.5"/><ellipse cx="601.5" cy="174.6" rx="2.1" ry="1.5"/><ellipse cx="602.4" cy="159.7" rx="2.1" ry="1.5"/><ellipse cx="603.4" cy="115" rx="2.1" ry="1.5"/><ellipse cx="604.4" cy="209.4" rx="2.1" ry="1.5"/><ellipse cx="605.4" cy="164.7" rx="2.1" ry="1.5"/><ellipse cx="606.3" cy="154.7" rx="2.1" ry="1.5"/><ellipse cx="607.3" cy="194.5" rx="2.1" ry="1.5"/><ellipse cx="608.3" cy="179.6" rx="2.1" ry="1.5"/><ellipse cx="609.3" cy="179.6" rx="2.1" ry="1.5"/><ellipse cx="610.2" cy="169.6" rx="2.1" ry="1.5"/><ellipse cx="611.2" cy="194.5" rx="2.1" ry="1.5"/><ellipse cx="612.2" cy="179.6" rx="2.1" ry="1.5"/><ellipse cx="613.2" cy="199.5" rx="2.1" ry="1.5"/><ellipse cx="614.2" cy="179.6" rx="2.1" ry="1.5"/><ellipse cx="615.1" cy="189.5" rx="2.1" ry="1.5"/><ellipse cx="616.1" cy="189.5" rx="2.1" ry="1.5"/><ellipse cx="617.1" cy="174.6" rx="2.1" ry="1.5"/><ellipse cx="618.1" cy="189.5" rx="2.1" ry="1.5"/><ellipse cx="619" cy="184.5" rx="2.1" ry="1.5"/><ellipse cx="620" cy="189.5" rx="2.1" ry="1.5"/><ellipse cx="621" cy="184.5" rx="2.1" ry="1.5"/><ellipse cx="622" cy="189.5" rx="2.1" ry="1.5"/><ellipse cx="622.9" cy="194.5" rx="2.1" ry="1.5"/><ellipse cx="623.9" cy="189.5" rx="2.1" ry="1.5"/><ellipse cx="624.9" cy="209.4" rx="2.1" ry="1.5"/><ellipse cx="625.9" cy="189.5" rx="2.1" ry="1.5"/><ellipse cx="626.8" cy="179.6" rx="2.1" ry="1.5"/><ellipse cx="627.8" cy="204.4" rx="2.1" ry="1.5"/><ellipse cx="628.8" cy="184.5" rx="2.1" ry="1.5"/><ellipse cx="629.8" cy="194.5" rx="2.1" ry="1.5"/><ellipse cx="630.8" cy="199.5" rx="2.1" ry="1.5"/><ellipse cx="631.7" cy="199.5" rx="2.1" ry="1.5"/><ellipse cx="632.7" cy="214.4" rx="2.1" ry="1.5"/><ellipse cx="633.7" cy="179.6" rx="2.1" ry="1.5"/><ellipse cx="634.7" cy="204.4" rx="2.1" ry="1.5"/><ellipse cx="635.6" cy="199.5" rx="2.1" ry="1.5"/><ellipse cx="636.6" cy="179.6" rx="2.1" ry="1.5"/><ellipse cx="637.6" cy="184.5" rx="2.1" ry="1.5"/><ellipse cx="638.6" cy="194.5" rx="2.1" ry="1.5"/><ellipse cx="639.5" cy="189.5" rx="2.1" ry="1.5"/><ellipse cx="640.5" cy="184.5" rx="2.1" ry="1.5"/><ellipse cx="641.5" cy="174.6" rx="2.1" ry="1.5"/><ellipse cx="642.5" cy="209.4" rx="2.1" ry="1.5"/><ellipse cx="643.4" cy="159.7" rx="2.1" ry="1.5"/><ellipse cx="644.4" cy="184.5" rx="2.1" ry="1.5"/><ellipse cx="645.4" cy="164.7" rx="2.1" ry="1.5"/><ellipse cx="646.4" cy="179.6" rx="2.1" ry="1.5"/><ellipse cx="647.4" cy="164.7" rx="2.1" ry="1.5"/><ellipse cx="648.3" cy="184.5" rx="2.1" ry="1.5"/><ellipse cx="649.3" cy="194.5" rx="2.1" ry="1.5"/><ellipse cx="650.3" cy="184.5" rx="2.1" ry="1.5"/><ellipse cx="651.3" cy="169.6" rx="2.1" ry="1.5"/><ellipse cx="652.2" cy="184.5" rx="2.1" ry="1.5"/><ellipse cx="653.2" cy="179.6" rx="2.1" ry="1.5"/><ellipse cx="654.2" cy="184.5" rx="2.1" ry="1.5"/><ellipse cx="655.2" cy="154.7" rx="2.1" ry="1.5"/><ellipse cx="656.1" cy="184.5" rx="2.1" ry="1.5"/><ellipse cx="657.1" cy="189.5" rx="2.1" ry="1.5"/><ellipse cx="658.1" cy="189.5" rx="2.1" ry="1.5"/><ellipse cx="659.1" cy="179.6" rx="2.1" ry="1.5"/><ellipse cx="660" cy="100.1" rx="2.1" ry="1.5"/><ellipse cx="661" cy="189.5" rx="2.1" ry="1.5"/><ellipse cx="662" cy="144.8" rx="2.1" ry="1.5"/><ellipse cx="663" cy="159.7" rx="2.1" ry="1.5"/><ellipse cx="664" cy="129.9" rx="2.1" ry="1.5"/><ellipse cx="664.9" cy="184.5" rx="2.1" ry="1.5"/><ellipse cx="665.9" cy="214.4" rx="2.1" ry="1.5"/><ellipse cx="666.9" cy="119.9" rx="2.1" ry="1.5"/><ellipse cx="667.9" cy="134.8" rx="2.1" ry="1.5"/><ellipse cx="668.8" cy="119.9" rx="2.1" ry="1.5"/><ellipse cx="669.8" cy="159.7" rx="2.1" ry="1.5"/><ellipse cx="670.8" cy="129.9" rx="2.1" ry="1.5"/><ellipse cx="671.8" cy="134.8" rx="2.1" ry="1.5"/><ellipse cx="672.7" cy="144.8" rx="2.1" ry="1.5"/><ellipse cx="673.7" cy="139.8" rx="2.1" ry="1.5"/><ellipse cx="674.7" cy="129.9" rx="2.1" ry="1.5"/><ellipse cx="675.7" cy="105" rx="2.1" ry="1.5"/><ellipse cx="676.6" cy="110" rx="2.1" ry="1.5"/><ellipse cx="677.6" cy="144.8" rx="2.1" ry="1.5"/><ellipse cx="678.6" cy="75.2" rx="2.1" ry="1.5"/><ellipse cx="679.6" cy="134.8" rx="2.1" ry="1.5"/><ellipse cx="680.6" cy="154.7" rx="2.1" ry="1.5"/><ellipse cx="681.5" cy="90.1" rx="2.1" ry="1.5"/><ellipse cx="682.5" cy="85.1" rx="2.1" ry="1.5"/><ellipse cx="683.5" cy="139.8" rx="2.1" ry="1.5"/><ellipse cx="684.5" cy="95.1" rx="2.1" ry="1.5"/><ellipse cx="685.4" cy="115" rx="2.1" ry="1.5"/><ellipse cx="686.4" cy="105" rx="2.1" ry="1.5"/><ellipse cx="687.4" cy="119.9" rx="2.1" ry="1.5"/><ellipse cx="688.4" cy="179.6" rx="2.1" ry="1.5"/><ellipse cx="689.3" cy="129.9" rx="2.1" ry="1.5"/></g>
<path d="M466.7 222.5L467.7 222.5L468.7 222.4L469.6 222.4L470.6 222.4L471.6 222.3L472.6 222.2L473.5 222.2L474.5 222.1L475.5 222L476.5 222L477.4 221.9L478.4 221.8L479.4 221.7L480.4 221.6L481.3 221.5L482.3 221.4L483.3 221.3L484.3 221.2L485.3 221.1L486.2 221L487.2 220.9L488.2 220.7L489.2 220.6L490.1 220.5L491.1 220.3L492.1 220.1L493.1 220L494 219.8L495 219.6L496 219.5L497 219.3L497.9 219.1L498.9 218.9L499.9 218.7L500.9 218.5L501.9 218.3L502.8 218L503.8 217.8L504.8 217.5L505.8 217.3L506.7 217L507.7 216.7L508.7 216.4L509.7 216.1L510.6 215.7L511.6 215.4L512.6 215L513.6 214.6L514.5 214.2L515.5 213.8L516.5 213.4L517.5 213L518.5 212.6L519.4 212.2L520.4 211.9L521.4 211.5L522.4 211.1L523.3 210.7L524.3 210.3L525.3 209.9L526.3 209.5L527.2 209.1L528.2 208.7L529.2 208.3L530.2 207.9L531.1 207.4L532.1 207L533.1 206.5L534.1 206.1L535.1 205.6L536 205.1L537 204.6L538 204.1L539 203.6L539.9 203.1L540.9 202.6L541.9 202.1L542.9 201.5L543.8 201L544.8 200.4L545.8 199.9L546.8 199.3L547.7 198.7L548.7 198L549.7 197.4L550.7 196.8L551.7 196.1L552.6 195.4L553.6 194.7L554.6 194L555.6 193.3L556.5 192.5L557.5 191.7L558.5 190.8L559.5 189.9L560.4 188.9L561.4 187.9L562.4 186.9L563.4 185.9L564.4 184.9L565.3 183.8L566.3 182.7L567.3 181.7L568.3 180.6L569.2 179.6L570.2 178.5L571.2 177.4L572.2 176.2L573.1 175L574.1 173.8L575.1 172.6L576.1 171.5L577 170.5L578 169.5L579 168.6L580 167.8L581 166.9L581.9 166L582.9 165.3L583.9 164.8L584.9 164.7L585.8 164.9L586.8 165.6L587.8 166.6L588.8 167.6L589.7 168.6L590.7 169.7L591.7 170.9L592.7 172.2L593.6 173.5L594.6 174.9L595.6 176.3L596.6 177.5L597.6 178.6L598.5 179.6L599.5 180.4L600.5 181.2L601.5 181.9L602.4 182.6L603.4 183.3L604.4 184L605.4 184.6L606.3 185.3L607.3 185.8L608.3 186.4L609.3 186.9L610.2 187.3L611.2 187.8L612.2 188.2L613.2 188.5L614.2 188.9L615.1 189.2L616.1 189.5L617.1 189.8L618.1 190.1L619 190.3L620 190.5L621 190.5L622 190.5L622.9 190.4L623.9 190.2L624.9 190L625.9 189.8L626.8 189.6L627.8 189.3L628.8 189L629.8 188.7L630.8 188.3L631.7 187.8L632.7 187.2L633.7 186.6L634.7 185.9L635.6 185.2L636.6 184.4L637.6 183.7L638.6 182.9L639.5 182L640.5 181.2L641.5 180.4L642.5 179.6L643.4 178.8L644.4 177.9L645.4 177L646.4 176.2L647.4 175.2L648.3 174.3L649.3 173.3L650.3 172.3L651.3 171.3L652.2 170.3L653.2 169.2L654.2 168.1L655.2 167L656.1 165.8L657.1 164.7L658.1 163.5L659.1 162.2L660 160.9L661 159.6L662 158.2L663 156.8L664 155.3L664.9 153.8L665.9 152.3L666.9 150.8L667.9 149.3L668.8 147.7L669.8 146.2L670.8 144.6L671.8 143L672.7 141.4L673.7 139.8L674.7 138.2L675.7 136.5L676.6 134.8L677.6 133L678.6 131.3L679.6 129.5L680.6 127.7L681.5 125.9L682.5 124.1L683.5 122.4L684.5 120.7L685.4 119L686.4 117.4L687.4 115.9L688.4 114.3L689.3 112.8L690.3 111.3L691.3 109.8L692.3 108.3L693.2 106.8L694.2 105.4L695.2 104.1L696.2 102.7L697.2 101.4L698.1 100.2L699.1 99.1L700.1 97.9L701.1 96.7L702 95.7L703 95.1L704 94.7L705 94.6L705.9 95.6L706.9 97.6L707.9 99.9L708.9 102.7L709.8 105.8L710.8 108.5L711.8 110.9L712.8 113.2L713.8 115.5L714.7 117.7L715.7 119.8L716.7 121.9L717.7 123.9L718.6 125.9L719.6 127.8L720.6 129.8L721.6 131.7L722.5 133.5L723.5 135.4L724.5 137.2L725.5 138.9L726.4 140.7L727.4 142.4L728.4 144L729.4 145.7L730.4 147.3L731.3 148.9L732.3 150.5L733.3 152.1L734.3 153.7L735.2 155.2L736.2 156.7L737.2 158.1L738.2 159.4L739.1 160.6L740.1 161.7L741.1 162.7L742.1 163.8L743 164.8L744 165.6L745 166.2L746 166.4L747 166.3L747.9 166L748.9 165.6L749.9 165.2L750.9 164.6L751.8 163.9L752.8 163.2L753.8 162.6L754.8 162.2L755.7 161.9L756.7 161.8L757.7 161.7L758.7 161.9L759.6 162.4L760.6 163.1L761.6 163.9L762.6 164.7L763.6 165.5L764.5 166.5L765.5 167.7L766.5 168.9L767.5 170.1L768.4 171.4L769.4 172.6L770.4 173.8L771.4 175L772.3 176.3L773.3 177.6L774.3 178.8L775.3 180.1L776.3 181.4L777.2 182.6L778.2 183.8L779.2 185L780.2 186.2L781.1 187.4L782.1 188.5L783.1 189.7L784.1 190.8L785 191.9L786 193L787 194.1L788 195.2L788.9 196.3L789.9 197.4L790.9 198.4L791.9 199.5" stroke="#12a38f" stroke-width="1.9" fill="none"/>
<path d="M466.7 25.5V224.3H792.6M466.7 224.3v2.5M497.0 224.3v2.5M526.3 224.3v2.5M556.5 224.3v2.5M585.8 224.3v2.5M616.1 224.3v2.5M646.4 224.3v2.5M673.7 224.3v2.5M704.0 224.3v2.5M733.3 224.3v2.5M763.6 224.3v2.5M466.7 224.3h-3.8M466.7 199.5h-3.8M466.7 174.6h-3.8M466.7 149.8h-3.8M466.7 124.9h-3.8M466.7 100.1h-3.8M466.7 75.2h-3.8M466.7 50.4h-3.8M466.7 25.5h-3.8" stroke="#555" stroke-width="0.9" fill="none"/>
<text transform="translate(466.7,234.9) scale(1.250,1.000)" font-size="6.60" text-anchor="middle" fill="#404040">01.08.</text>
<text transform="translate(497.0,234.9) scale(1.250,1.000)" font-size="6.60" text-anchor="middle" fill="#404040">01.09.</text>
<text transform="translate(526.3,234.9) scale(1.250,1.000)" font-size="6.60" text-anchor="middle" fill="#404040">01.10.</text>
<text transform="translate(556.5,234.9) scale(1.250,1.000)" font-size="6.60" text-anchor="middle" fill="#404040">01.11.</text>
<text transform="translate(585.8,234.9) scale(1.250,1.000)" font-size="6.60" text-anchor="middle" fill="#404040">01.12.</text>
<text transform="translate(616.1,234.9) scale(1.250,1.000)" font-size="6.60" text-anchor="middle" fill="#404040">01.01.</text>
<text transform="translate(646.4,234.9) scale(1.250,1.000)" font-size="6.60" text-anchor="middle" fill="#404040">01.02.</text>
<text transform="translate(673.7,234.9) scale(1.250,1.000)" font-size="6.60" text-anchor="middle" fill="#404040">01.03.</text>
<text transform="translate(704.0,234.9) scale(1.250,1.000)" font-size="6.60" text-anchor="middle" fill="#404040">01.04.</text>
<text transform="translate(733.3,234.9) scale(1.250,1.000)" font-size="6.60" text-anchor="middle" fill="#404040">01.05.</text>
<text transform="translate(763.6,234.9) scale(1.250,1.000)" font-size="6.60" text-anchor="middle" fill="#404040">01.06.</text>
<text transform="translate(460.9,227.1) scale(1.250,1.000)" font-size="6.60" text-anchor="end" fill="#404040">0</text>
<text transform="translate(460.9,202.2) scale(1.250,1.000)" font-size="6.60" text-anchor="end" fill="#404040">5</text>
<text transform="translate(460.9,177.4) scale(1.250,1.000)" font-size="6.60" text-anchor="end" fill="#404040">10</text>
<text transform="translate(460.9,152.5) scale(1.250,1.000)" font-size="6.60" text-anchor="end" fill="#404040">15</text>
<text transform="translate(460.9,127.7) scale(1.250,1.000)" font-size="6.60" text-anchor="end" fill="#404040">20</text>
<text transform="translate(460.9,102.8) scale(1.250,1.000)" font-size="6.60" text-anchor="end" fill="#404040">25</text>
<text transform="translate(460.9,78.0) scale(1.250,1.000)" font-size="6.60" text-anchor="end" fill="#404040">30</text>
<text transform="translate(460.9,53.1) scale(1.250,1.000)" font-size="6.60" text-anchor="end" fill="#404040">35</text>
<text transform="translate(460.9,28.3) scale(1.250,1.000)" font-size="6.60" text-anchor="end" fill="#404040">40</text>
<text transform="translate(447.5,124.9) rotate(-90) scale(1.000,0.900)" font-size="7.50" text-anchor="middle" fill="#404040">Uutta tapausta, per päivä</text>
<text transform="translate(629.6,22.8) scale(1.280,1.000)" font-size="7.20" text-anchor="middle" font-weight="bold" fill="#111">M1Ro1VE2Se2Ra4</text>
<rect x="474.8" y="32.2" width="57" height="9.4" fill="#fff" stroke="#555" stroke-width="0.7"/>
<rect x="478.3" y="34.5" width="31.3" height="4.9" fill="#6ef4f2" stroke="#444" stroke-width="0.7"/>
<text transform="translate(512.8,39.7) scale(1.150,1.000)" font-size="6.30" fill="#222">ESH</text>
</g>
<g id="chartB">
<path d="M102.1 467.0V267.9M131.6 467.0V267.9M162.2 467.0V267.9M191.8 467.0V267.9M222.4 467.0V267.9M252.9 467.0V267.9M280.5 467.0V267.9M311.1 467.0V267.9M340.7 467.0V267.9M371.2 467.0V267.9M401.8 467.0V267.9M71.5 438.6H401.8M71.5 410.1H401.8M71.5 381.6H401.8M71.5 353.2H401.8M71.5 324.8H401.8M71.5 296.3H401.8M71.5 267.9H401.8" stroke="#e6e6e6" stroke-width="0.8" fill="none"/>
<path d="M71.5 464.5L72 464.4L72.5 464.4L73 464.3L73.5 464.3L74 464.3L74.5 464.2L75 464.2L75.4 464.1L75.9 464.1L76.4 464L76.9 464L77.4 463.9L77.9 463.9L78.4 463.8L78.9 463.8L79.4 463.7L79.9 463.7L80.4 463.6L80.9 463.6L81.4 463.5L81.9 463.4L82.3 463.4L82.8 463.3L83.3 463.3L83.8 463.2L84.3 463.1L84.8 463.1L85.3 463L85.8 462.9L86.3 462.9L86.8 462.8L87.3 462.7L87.8 462.7L88.3 462.6L88.8 462.5L89.2 462.5L89.7 462.4L90.2 462.3L90.7 462.2L91.2 462.2L91.7 462.1L92.2 462L92.7 461.9L93.2 461.9L93.7 461.8L94.2 461.7L94.7 461.6L95.2 461.5L95.7 461.4L96.2 461.3L96.6 461.2L97.1 461.1L97.6 461L98.1 460.9L98.6 460.8L99.1 460.7L99.6 460.6L100.1 460.5L100.6 460.4L101.1 460.3L101.6 460.1L102.1 460L102.6 459.9L103.1 459.8L103.5 459.6L104 459.5L104.5 459.3L105 459.1L105.5 459L106 458.8L106.5 458.6L107 458.4L107.5 458.2L108 458L108.5 457.8L109 457.6L109.5 457.4L110 457.2L110.4 456.9L110.9 456.7L111.4 456.5L111.9 456.2L112.4 456L112.9 455.8L113.4 455.5L113.9 455.3L114.4 455L114.9 454.8L115.4 454.6L115.9 454.3L116.4 454.1L116.9 453.8L117.3 453.5L117.8 453.3L118.3 453L118.8 452.7L119.3 452.4L119.8 452.1L120.3 451.8L120.8 451.5L121.3 451.2L121.8 450.9L122.3 450.6L122.8 450.3L123.3 449.9L123.8 449.6L124.3 449.3L124.7 449L125.2 448.6L125.7 448.3L126.2 447.9L126.7 447.6L127.2 447.3L127.7 446.9L128.2 446.6L128.7 446.2L129.2 445.9L129.7 445.5L130.2 445.2L130.7 444.8L131.2 444.5L131.6 444.2L132.1 443.8L132.6 443.5L133.1 443.1L133.6 442.8L134.1 442.4L134.6 442.1L135.1 441.7L135.6 441.3L136.1 441L136.6 440.6L137.1 440.3L137.6 439.9L138.1 439.5L138.5 439.1L139 438.8L139.5 438.4L140 438L140.5 437.6L141 437.3L141.5 436.9L142 436.5L142.5 436.1L143 435.7L143.5 435.3L144 434.9L144.5 434.5L145 434.1L145.4 433.7L145.9 433.3L146.4 432.9L146.9 432.5L147.4 432.1L147.9 431.7L148.4 431.2L148.9 430.8L149.4 430.4L149.9 430L150.4 429.6L150.9 429.2L151.4 428.7L151.9 428.3L152.4 427.9L152.8 427.5L153.3 427L153.8 426.6L154.3 426.2L154.8 425.7L155.3 425.3L155.8 424.8L156.3 424.4L156.8 423.9L157.3 423.4L157.8 423L158.3 422.5L158.8 422L159.3 421.5L159.7 421L160.2 420.5L160.7 420L161.2 419.5L161.7 419L162.2 418.5L162.7 417.9L163.2 417.4L163.7 416.8L164.2 416.3L164.7 415.7L165.2 415.1L165.7 414.6L166.2 414L166.6 413.4L167.1 412.7L167.6 412.1L168.1 411.5L168.6 410.8L169.1 410.2L169.6 409.5L170.1 408.9L170.6 408.2L171.1 407.5L171.6 406.8L172.1 406.1L172.6 405.4L173.1 404.6L173.6 403.8L174 403L174.5 402.1L175 401.2L175.5 400.4L176 399.5L176.5 398.6L177 397.8L177.5 397L178 396.2L178.5 395.4L179 394.7L179.5 394L180 393.3L180.5 392.6L180.9 391.9L181.4 391.3L181.9 390.8L182.4 390.2L182.9 389.7L183.4 389.2L183.9 389L184.4 389.1L184.9 389.5L185.4 390L185.9 390.6L186.4 391.2L186.9 392L187.4 392.9L187.8 393.7L188.3 394.6L188.8 395.5L189.3 396.4L189.8 397.4L190.3 398.3L190.8 399.3L191.3 400.2L191.8 401.2L192.3 402.1L192.8 403L193.3 403.8L193.8 404.6L194.3 405.3L194.8 405.9L195.2 406.6L195.7 407.2L196.2 407.8L196.7 408.4L197.2 408.9L197.7 409.5L198.2 410L198.7 410.5L199.2 411.1L199.7 411.6L200.2 412L200.7 412.5L201.2 413L201.7 413.5L202.1 413.9L202.6 414.4L203.1 414.9L203.6 415.3L204.1 415.7L204.6 416.2L205.1 416.6L205.6 417L206.1 417.5L206.6 417.9L207.1 418.3L207.6 418.7L208.1 419.1L208.6 419.4L209 419.8L209.5 420.1L210 420.5L210.5 420.8L211 421.2L211.5 421.5L212 421.8L212.5 422.2L213 422.5L213.5 422.8L214 423.2L214.5 423.5L215 423.8L215.5 424L215.9 424.3L216.4 424.5L216.9 424.8L217.4 425L217.9 425.1L218.4 425.3L218.9 425.4L219.4 425.5L219.9 425.6L220.4 425.7L220.9 425.7L221.4 425.8L221.9 425.7L222.4 425.5L222.9 425.2L223.3 424.9L223.8 424.5L224.3 424.2L224.8 423.8L225.3 423.3L225.8 422.8L226.3 422.2L226.8 421.6L227.3 421L227.8 420.3L228.3 419.7L228.8 419.1L229.3 418.5L229.8 418L230.2 417.5L230.7 417.1L231.2 416.7L231.7 416.3L232.2 416L232.7 415.6L233.2 415.3L233.7 414.9L234.2 414.6L234.7 414.3L235.2 414L235.7 413.7L236.2 413.4L236.7 413L237.1 412.7L237.6 412.4L238.1 412.1L238.6 411.7L239.1 411.4L239.6 411.1L240.1 410.7L240.6 410.4L241.1 410.1L241.6 409.8L242.1 409.5L242.6 409.1L243.1 408.8L243.6 408.5L244.1 408.1L244.5 407.8L245 407.4L245.5 407L246 406.6L246.5 406.2L247 405.7L247.5 405.3L248 404.8L248.5 404.3L249 403.7L249.5 403.1L250 402.5L250.5 401.9L251 401.3L251.4 400.5L251.9 399.8L252.4 399L252.9 398.1L253.4 397.2L253.9 396.4L254.4 395.5L254.9 394.6L255.4 393.8L255.9 392.9L256.4 392L256.9 391.1L257.4 390.2L257.9 389.3L258.3 388.3L258.8 387.4L259.3 386.5L259.8 385.6L260.3 384.6L260.8 383.7L261.3 382.8L261.8 381.9L262.3 380.9L262.8 380L263.3 379.1L263.8 378.2L264.3 377.2L264.8 376.3L265.2 375.4L265.7 374.4L266.2 373.4L266.7 372.5L267.2 371.5L267.7 370.5L268.2 369.4L268.7 368.4L269.2 367.4L269.7 366.3L270.2 365.3L270.7 364.2L271.2 363.2L271.7 362.1L272.2 361.1L272.6 360.1L273.1 359.1L273.6 358.1L274.1 357.2L274.6 356.2L275.1 355.3L275.6 354.4L276.1 353.4L276.6 352.4L277.1 351.5L277.6 350.5L278.1 349.4L278.6 348.4L279.1 347.3L279.5 346.1L280 344.9L280.5 343.7L281 342.5L281.5 341.2L282 339.9L282.5 338.6L283 337.2L283.5 335.8L284 334.5L284.5 333.1L285 331.7L285.5 330.3L286 328.9L286.4 327.5L286.9 326.1L287.4 324.8L287.9 323.4L288.4 322.1L288.9 320.8L289.4 319.5L289.9 318.2L290.4 317L290.9 315.8L291.4 314.6L291.9 313.4L292.4 312.3L292.9 311.1L293.4 309.9L293.8 308.8L294.3 307.7L294.8 306.5L295.3 305.4L295.8 304.3L296.3 303.2L296.8 302.1L297.3 301L297.8 299.9L298.3 298.8L298.8 297.8L299.3 296.7L299.8 295.6L300.3 294.6L300.7 293.5L301.2 292.4L301.7 291.4L302.2 290.3L302.7 289.2L303.2 288.2L303.7 287.1L304.2 286.1L304.7 285.1L305.2 284.1L305.7 283.1L306.2 282.2L306.7 281.3L307.2 280.4L307.6 279.6L308.1 278.9L308.6 287.2L309.1 300.7L309.6 315.9L310.1 320.1L310.6 320.5L311.1 320.7L311.6 321.1L312.1 321.6L312.6 322.1L313.1 322.7L313.6 323.4L314.1 324.1L314.5 324.8L315 325.6L315.5 326.4L316 327.2L316.5 328.1L317 329L317.5 329.9L318 330.8L318.5 331.7L319 332.7L319.5 333.6L320 334.5L320.5 335.5L321 336.4L321.5 337.3L321.9 338.2L322.4 339.1L322.9 339.9L323.4 340.8L323.9 341.7L324.4 342.7L324.9 343.6L325.4 344.5L325.9 345.5L326.4 346.4L326.9 347.4L327.4 348.3L327.9 349.3L328.4 350.2L328.8 351.2L329.3 352.2L329.8 353.1L330.3 354.1L330.8 355L331.3 356L331.8 357L332.3 357.9L332.8 358.8L333.3 359.8L333.8 360.7L334.3 361.6L334.8 362.6L335.3 363.5L335.7 364.4L336.2 365.4L336.7 366.3L337.2 367.2L337.7 368.2L338.2 369.1L338.7 370L339.2 370.9L339.7 371.9L340.2 372.8L340.7 373.7L341.2 374.6L341.7 375.6L342.2 376.5L342.6 377.4L343.1 378.3L343.6 379.2L344.1 380.2L344.6 381.1L345.1 382.2L345.6 383.3L346.1 384.5L346.6 385.7L347.1 386.9L347.6 387.9L348.1 388.7L348.6 389.3L349.1 389.6L349.6 383.3L350 372.4L350.5 366.7L351 362.7L351.5 361.2L352 361.4L352.5 361.8L353 362.4L353.5 363.1L354 363.8L354.5 364.4L355 364.8L355.5 365L356 365L356.5 365L356.9 365L357.4 365L357.9 365L358.4 365L358.9 365L359.4 365L359.9 365L360.4 365L360.9 365L361.4 365L361.9 365.1L362.4 365.3L362.9 365.6L363.4 365.9L363.8 366.3L364.3 366.7L364.8 367.1L365.3 367.6L365.8 368L366.3 368.5L366.8 368.9L367.3 369.4L367.8 369.9L368.3 370.5L368.8 371.1L369.3 371.7L369.8 372.4L370.3 373.1L370.8 373.7L371.2 374.5L371.7 375.2L372.2 375.9L372.7 376.6L373.2 377.3L373.7 378L374.2 378.8L374.7 379.6L375.2 380.3L375.7 381.2L376.2 382L376.7 382.8L377.2 383.6L377.7 384.5L378.1 385.3L378.6 386.2L379.1 387L379.6 387.9L380.1 388.8L380.6 389.6L381.1 390.5L381.6 391.3L382.1 392.1L382.6 393L383.1 393.8L383.6 394.6L384.1 395.5L384.6 396.3L385 397.1L385.5 398L386 398.8L386.5 399.6L387 400.5L387.5 401.3L388 402.1L388.5 403L389 403.8L389.5 404.6L390 405.4L390.5 406.2L391 407L391.5 407.8L391.9 408.6L392.4 409.4L392.9 410.2L393.4 411L393.9 411.8L394.4 412.6L394.9 413.4L395.4 414.2L395.9 414.9L396.4 415.7L396.9 416.5L397.4 417.3L397.9 418L398.4 418.8L398.9 419.6L399.3 420.3L399.8 421.1L399.8 430.1L399.3 429.5L398.9 428.9L398.4 428.3L397.9 427.7L397.4 427.1L396.9 426.5L396.4 425.8L395.9 425.2L395.4 424.6L394.9 424L394.4 423.3L393.9 422.7L393.4 422.1L392.9 421.4L392.4 420.8L391.9 420.2L391.5 419.5L391 418.9L390.5 418.2L390 417.6L389.5 416.9L389 416.3L388.5 415.6L388 414.9L387.5 414.3L387 413.6L386.5 412.9L386 412.3L385.5 411.6L385 410.9L384.6 410.2L384.1 409.6L383.6 408.9L383.1 408.2L382.6 407.6L382.1 406.9L381.6 406.2L381.1 405.6L380.6 404.9L380.1 404.2L379.6 403.5L379.1 402.8L378.6 402.1L378.1 401.4L377.7 400.8L377.2 400.1L376.7 399.4L376.2 398.7L375.7 398.1L375.2 397.4L374.7 396.8L374.2 396.2L373.7 395.6L373.2 395L372.7 394.4L372.2 393.9L371.7 393.3L371.2 392.7L370.8 392.1L370.3 391.6L369.8 391L369.3 390.5L368.8 390L368.3 389.5L367.8 389.1L367.3 388.7L366.8 388.3L366.3 387.9L365.8 387.6L365.3 387.2L364.8 386.8L364.3 386.5L363.8 386.2L363.4 385.9L362.9 385.6L362.4 385.4L361.9 385.2L361.4 385.1L360.9 385.1L360.4 385.1L359.9 385.1L359.4 385.1L358.9 385.1L358.4 385.1L357.9 385.1L357.4 385.1L356.9 385.1L356.5 385.1L356 385.1L355.5 385.1L355 385L354.5 384.6L354 384.1L353.5 383.6L353 383L352.5 382.6L352 382.2L351.5 382.1L351 383.3L350.5 386.5L350 391.1L349.6 399.8L349.1 404.9L348.6 404.7L348.1 404.2L347.6 403.5L347.1 402.7L346.6 401.8L346.1 400.8L345.6 399.8L345.1 398.9L344.6 398L344.1 397.3L343.6 396.6L343.1 395.8L342.6 395.1L342.2 394.3L341.7 393.6L341.2 392.9L340.7 392.1L340.2 391.4L339.7 390.6L339.2 389.9L338.7 389.1L338.2 388.4L337.7 387.7L337.2 386.9L336.7 386.2L336.2 385.4L335.7 384.7L335.3 383.9L334.8 383.2L334.3 382.4L333.8 381.7L333.3 380.9L332.8 380.2L332.3 379.4L331.8 378.7L331.3 377.9L330.8 377.1L330.3 376.4L329.8 375.6L329.3 374.8L328.8 374L328.4 373.3L327.9 372.5L327.4 371.7L326.9 371L326.4 370.2L325.9 369.4L325.4 368.7L324.9 367.9L324.4 367.2L323.9 366.5L323.4 365.7L322.9 365L322.4 364.3L321.9 363.6L321.5 362.9L321 362.2L320.5 361.4L320 360.7L319.5 359.9L319 359.2L318.5 358.4L318 357.7L317.5 356.9L317 356.2L316.5 355.5L316 354.8L315.5 354.2L315 353.5L314.5 352.9L314.1 352.3L313.6 351.7L313.1 351.2L312.6 350.7L312.1 350.3L311.6 349.9L311.1 349.6L310.6 349.4L310.1 349.1L309.6 345.7L309.1 333.5L308.6 322.7L308.1 316L307.6 316.5L307.2 317.2L306.7 317.9L306.2 318.7L305.7 319.4L305.2 320.2L304.7 321L304.2 321.8L303.7 322.6L303.2 323.5L302.7 324.3L302.2 325.2L301.7 326L301.2 326.9L300.7 327.7L300.3 328.6L299.8 329.4L299.3 330.3L298.8 331.1L298.3 332L297.8 332.9L297.3 333.7L296.8 334.6L296.3 335.5L295.8 336.4L295.3 337.3L294.8 338.2L294.3 339.1L293.8 340L293.4 340.9L292.9 341.9L292.4 342.8L291.9 343.7L291.4 344.7L290.9 345.6L290.4 346.6L289.9 347.6L289.4 348.6L288.9 349.6L288.4 350.7L287.9 351.8L287.4 352.8L286.9 353.9L286.4 355L286 356.2L285.5 357.3L285 358.4L284.5 359.5L284 360.6L283.5 361.7L283 362.8L282.5 363.9L282 365L281.5 366L281 367L280.5 368.1L280 369L279.5 370L279.1 370.9L278.6 371.8L278.1 372.6L277.6 373.5L277.1 374.3L276.6 375.1L276.1 375.8L275.6 376.6L275.1 377.3L274.6 378.1L274.1 378.8L273.6 379.6L273.1 380.4L272.6 381.2L272.2 382L271.7 382.8L271.2 383.7L270.7 384.5L270.2 385.3L269.7 386.2L269.2 387L268.7 387.9L268.2 388.7L267.7 389.5L267.2 390.3L266.7 391.1L266.2 391.9L265.7 392.7L265.2 393.4L264.8 394.2L264.3 395L263.8 395.7L263.3 396.4L262.8 397.2L262.3 397.9L261.8 398.7L261.3 399.4L260.8 400.1L260.3 400.9L259.8 401.6L259.3 402.4L258.8 403.1L258.3 403.9L257.9 404.6L257.4 405.3L256.9 406.1L256.4 406.8L255.9 407.5L255.4 408.2L254.9 408.9L254.4 409.6L253.9 410.3L253.4 411L252.9 411.7L252.4 412.4L251.9 413L251.4 413.6L251 414.2L250.5 414.8L250 415.3L249.5 415.7L249 416.2L248.5 416.6L248 417.1L247.5 417.5L247 417.8L246.5 418.2L246 418.5L245.5 418.8L245 419.2L244.5 419.4L244.1 419.7L243.6 420L243.1 420.3L242.6 420.6L242.1 420.8L241.6 421.1L241.1 421.3L240.6 421.6L240.1 421.8L239.6 422.1L239.1 422.4L238.6 422.6L238.1 422.9L237.6 423.2L237.1 423.4L236.7 423.7L236.2 423.9L235.7 424.2L235.2 424.4L234.7 424.7L234.2 424.9L233.7 425.2L233.2 425.5L232.7 425.7L232.2 426L231.7 426.3L231.2 426.6L230.7 426.9L230.2 427.3L229.8 427.7L229.3 428.1L228.8 428.5L228.3 429L227.8 429.5L227.3 430.1L226.8 430.6L226.3 431.1L225.8 431.5L225.3 431.9L224.8 432.3L224.3 432.6L223.8 432.9L223.3 433.2L222.9 433.5L222.4 433.7L221.9 433.8L221.4 433.9L220.9 433.9L220.4 433.8L219.9 433.8L219.4 433.7L218.9 433.6L218.4 433.5L217.9 433.4L217.4 433.2L216.9 433.1L216.4 432.9L215.9 432.7L215.5 432.5L215 432.3L214.5 432.1L214 431.8L213.5 431.5L213 431.3L212.5 431L212 430.7L211.5 430.5L211 430.2L210.5 429.9L210 429.7L209.5 429.4L209 429.1L208.6 428.8L208.1 428.5L207.6 428.2L207.1 427.9L206.6 427.6L206.1 427.2L205.6 426.9L205.1 426.6L204.6 426.2L204.1 425.9L203.6 425.5L203.1 425.1L202.6 424.8L202.1 424.4L201.7 424L201.2 423.7L200.7 423.3L200.2 422.9L199.7 422.5L199.2 422.1L198.7 421.7L198.2 421.3L197.7 420.8L197.2 420.4L196.7 419.9L196.2 419.5L195.7 419L195.2 418.5L194.8 418L194.3 417.5L193.8 416.9L193.3 416.3L192.8 415.6L192.3 414.9L191.8 414.2L191.3 413.4L190.8 412.6L190.3 411.9L189.8 411.1L189.3 410.3L188.8 409.6L188.3 408.9L187.8 408.2L187.4 407.5L186.9 406.8L186.4 406.1L185.9 405.6L185.4 405.2L184.9 404.8L184.4 404.5L183.9 404.4L183.4 404.5L182.9 404.9L182.4 405.4L181.9 405.8L181.4 406.3L180.9 406.8L180.5 407.3L180 407.8L179.5 408.4L179 408.9L178.5 409.5L178 410.1L177.5 410.8L177 411.5L176.5 412.1L176 412.8L175.5 413.5L175 414.2L174.5 414.9L174 415.6L173.6 416.3L173.1 416.9L172.6 417.5L172.1 418.1L171.6 418.7L171.1 419.2L170.6 419.8L170.1 420.3L169.6 420.9L169.1 421.4L168.6 421.9L168.1 422.4L167.6 422.9L167.1 423.4L166.6 423.9L166.2 424.4L165.7 424.9L165.2 425.4L164.7 425.8L164.2 426.3L163.7 426.7L163.2 427.2L162.7 427.6L162.2 428L161.7 428.5L161.2 428.9L160.7 429.3L160.2 429.7L159.7 430.1L159.3 430.5L158.8 430.9L158.3 431.3L157.8 431.6L157.3 432L156.8 432.4L156.3 432.8L155.8 433.1L155.3 433.5L154.8 433.9L154.3 434.2L153.8 434.6L153.3 434.9L152.8 435.3L152.4 435.6L151.9 436L151.4 436.3L150.9 436.6L150.4 437L149.9 437.3L149.4 437.6L148.9 438L148.4 438.3L147.9 438.6L147.4 439L146.9 439.3L146.4 439.6L145.9 439.9L145.4 440.3L145 440.6L144.5 440.9L144 441.2L143.5 441.6L143 441.9L142.5 442.2L142 442.5L141.5 442.8L141 443.1L140.5 443.4L140 443.7L139.5 444L139 444.3L138.5 444.6L138.1 444.9L137.6 445.2L137.1 445.5L136.6 445.8L136.1 446.1L135.6 446.4L135.1 446.7L134.6 447L134.1 447.3L133.6 447.6L133.1 447.8L132.6 448.1L132.1 448.4L131.6 448.7L131.2 448.9L130.7 449.2L130.2 449.5L129.7 449.8L129.2 450.1L128.7 450.3L128.2 450.6L127.7 450.9L127.2 451.2L126.7 451.4L126.2 451.7L125.7 452L125.2 452.3L124.7 452.5L124.3 452.8L123.8 453.1L123.3 453.3L122.8 453.6L122.3 453.8L121.8 454.1L121.3 454.3L120.8 454.6L120.3 454.8L119.8 455.1L119.3 455.3L118.8 455.5L118.3 455.8L117.8 456L117.3 456.2L116.9 456.4L116.4 456.6L115.9 456.8L115.4 457L114.9 457.2L114.4 457.4L113.9 457.6L113.4 457.8L112.9 458L112.4 458.2L111.9 458.4L111.4 458.6L110.9 458.7L110.4 458.9L110 459.1L109.5 459.3L109 459.4L108.5 459.6L108 459.8L107.5 459.9L107 460.1L106.5 460.3L106 460.4L105.5 460.5L105 460.7L104.5 460.8L104 460.9L103.5 461.1L103.1 461.2L102.6 461.3L102.1 461.4L101.6 461.5L101.1 461.6L100.6 461.7L100.1 461.8L99.6 461.9L99.1 462L98.6 462L98.1 462.1L97.6 462.2L97.1 462.3L96.6 462.4L96.2 462.4L95.7 462.5L95.2 462.6L94.7 462.7L94.2 462.7L93.7 462.8L93.2 462.9L92.7 462.9L92.2 463L91.7 463.1L91.2 463.1L90.7 463.2L90.2 463.2L89.7 463.3L89.2 463.4L88.8 463.4L88.3 463.5L87.8 463.5L87.3 463.6L86.8 463.6L86.3 463.7L85.8 463.7L85.3 463.8L84.8 463.8L84.3 463.9L83.8 463.9L83.3 464L82.8 464L82.3 464.1L81.9 464.1L81.4 464.2L80.9 464.2L80.4 464.3L79.9 464.3L79.4 464.4L78.9 464.4L78.4 464.5L77.9 464.5L77.4 464.5L76.9 464.6L76.4 464.6L75.9 464.7L75.4 464.7L75 464.7L74.5 464.8L74 464.8L73.5 464.8L73 464.9L72.5 464.9L72 464.9L71.5 465Z" fill="#f1d5e3"/>
<path d="M71.5 464.6L72 464.6L72.5 464.6L73 464.5L73.5 464.5L74 464.5L74.5 464.4L75 464.4L75.4 464.3L75.9 464.3L76.4 464.3L76.9 464.2L77.4 464.2L77.9 464.1L78.4 464.1L78.9 464L79.4 464L79.9 463.9L80.4 463.9L80.9 463.8L81.4 463.8L81.9 463.7L82.3 463.6L82.8 463.6L83.3 463.5L83.8 463.5L84.3 463.4L84.8 463.4L85.3 463.3L85.8 463.2L86.3 463.2L86.8 463.1L87.3 463L87.8 463L88.3 462.9L88.8 462.9L89.2 462.8L89.7 462.7L90.2 462.7L90.7 462.6L91.2 462.5L91.7 462.4L92.2 462.4L92.7 462.3L93.2 462.2L93.7 462.1L94.2 462.1L94.7 462L95.2 461.9L95.7 461.8L96.2 461.7L96.6 461.6L97.1 461.6L97.6 461.5L98.1 461.4L98.6 461.3L99.1 461.2L99.6 461.1L100.1 461L100.6 460.9L101.1 460.7L101.6 460.6L102.1 460.5L102.6 460.4L103.1 460.3L103.5 460.1L104 460L104.5 459.9L105 459.7L105.5 459.5L106 459.4L106.5 459.2L107 459L107.5 458.8L108 458.7L108.5 458.5L109 458.3L109.5 458.1L110 457.9L110.4 457.7L110.9 457.4L111.4 457.2L111.9 457L112.4 456.8L112.9 456.6L113.4 456.4L113.9 456.1L114.4 455.9L114.9 455.7L115.4 455.5L115.9 455.2L116.4 455L116.9 454.8L117.3 454.5L117.8 454.3L118.3 454L118.8 453.7L119.3 453.5L119.8 453.2L120.3 452.9L120.8 452.6L121.3 452.4L121.8 452.1L122.3 451.8L122.8 451.5L123.3 451.2L123.8 450.9L124.3 450.6L124.7 450.3L125.2 449.9L125.7 449.6L126.2 449.3L126.7 449L127.2 448.7L127.7 448.4L128.2 448L128.7 447.7L129.2 447.4L129.7 447.1L130.2 446.8L130.7 446.4L131.2 446.1L131.6 445.8L132.1 445.5L132.6 445.2L133.1 444.8L133.6 444.5L134.1 444.2L134.6 443.9L135.1 443.5L135.6 443.2L136.1 442.9L136.6 442.5L137.1 442.2L137.6 441.8L138.1 441.5L138.5 441.1L139 440.8L139.5 440.4L140 440.1L140.5 439.7L141 439.4L141.5 439L142 438.7L142.5 438.3L143 437.9L143.5 437.6L144 437.2L144.5 436.8L145 436.5L145.4 436.1L145.9 435.7L146.4 435.3L146.9 434.9L147.4 434.6L147.9 434.2L148.4 433.8L148.9 433.4L149.4 433L149.9 432.7L150.4 432.3L150.9 431.9L151.4 431.5L151.9 431.1L152.4 430.7L152.8 430.3L153.3 429.9L153.8 429.5L154.3 429.1L154.8 428.7L155.3 428.3L155.8 427.8L156.3 427.4L156.8 427L157.3 426.6L157.8 426.1L158.3 425.7L158.8 425.2L159.3 424.8L159.7 424.3L160.2 423.9L160.7 423.4L161.2 422.9L161.7 422.4L162.2 421.9L162.7 421.5L163.2 421L163.7 420.4L164.2 419.9L164.7 419.4L165.2 418.9L165.7 418.3L166.2 417.8L166.6 417.2L167.1 416.6L167.6 416.1L168.1 415.5L168.6 414.9L169.1 414.3L169.6 413.7L170.1 413L170.6 412.4L171.1 411.8L171.6 411.1L172.1 410.5L172.6 409.8L173.1 409.1L173.6 408.3L174 407.6L174.5 406.8L175 406L175.5 405.2L176 404.3L176.5 403.5L177 402.8L177.5 402L178 401.2L178.5 400.5L179 399.9L179.5 399.2L180 398.6L180.5 397.9L180.9 397.3L181.4 396.8L181.9 396.2L182.4 395.7L182.9 395.2L183.4 394.8L183.9 394.6L184.4 394.7L184.9 395.1L185.4 395.5L185.9 396L186.4 396.6L186.9 397.4L187.4 398.2L187.8 399L188.3 399.8L188.8 400.6L189.3 401.5L189.8 402.4L190.3 403.2L190.8 404.1L191.3 405L191.8 405.9L192.3 406.8L192.8 407.6L193.3 408.3L193.8 409.1L194.3 409.7L194.8 410.3L195.2 410.9L195.7 411.5L196.2 412.1L196.7 412.6L197.2 413.1L197.7 413.6L198.2 414.1L198.7 414.6L199.2 415.1L199.7 415.5L200.2 416L200.7 416.4L201.2 416.9L201.7 417.3L202.1 417.7L202.6 418.2L203.1 418.6L203.6 419L204.1 419.4L204.6 419.8L205.1 420.2L205.6 420.6L206.1 421L206.6 421.4L207.1 421.8L207.6 422.1L208.1 422.5L208.6 422.8L209 423.2L209.5 423.5L210 423.8L210.5 424.1L211 424.4L211.5 424.8L212 425.1L212.5 425.4L213 425.7L213.5 426L214 426.3L214.5 426.6L215 426.9L215.5 427.1L215.9 427.4L216.4 427.6L216.9 427.8L217.4 428L217.9 428.1L218.4 428.2L218.9 428.4L219.4 428.5L219.9 428.6L220.4 428.6L220.9 428.7L221.4 428.7L221.9 428.7L222.4 428.5L222.9 428.2L223.3 427.9L223.8 427.6L224.3 427.2L224.8 426.9L225.3 426.5L225.8 426L226.3 425.4L226.8 424.9L227.3 424.3L227.8 423.7L228.3 423.1L228.8 422.5L229.3 422L229.8 421.5L230.2 421.1L230.7 420.7L231.2 420.3L231.7 420L232.2 419.6L232.7 419.3L233.2 419L233.7 418.7L234.2 418.4L234.7 418.1L235.2 417.8L235.7 417.5L236.2 417.2L236.7 416.9L237.1 416.6L237.6 416.3L238.1 416L238.6 415.7L239.1 415.4L239.6 415.1L240.1 414.8L240.6 414.5L241.1 414.2L241.6 413.9L242.1 413.6L242.6 413.3L243.1 413L243.6 412.7L244.1 412.3L244.5 412L245 411.7L245.5 411.3L246 410.9L246.5 410.5L247 410.1L247.5 409.7L248 409.2L248.5 408.8L249 408.3L249.5 407.7L250 407.2L250.5 406.6L251 406L251.4 405.3L251.9 404.6L252.4 403.8L252.9 403.1L253.4 402.3L253.9 401.4L254.4 400.6L254.9 399.8L255.4 399L255.9 398.2L256.4 397.4L256.9 396.5L257.4 395.7L257.9 394.8L258.3 394L258.8 393.1L259.3 392.3L259.8 391.4L260.3 390.5L260.8 389.7L261.3 388.8L261.8 388L262.3 387.1L262.8 386.3L263.3 385.4L263.8 384.5L264.3 383.7L264.8 382.8L265.2 381.9L265.7 381.1L266.2 380.2L266.7 379.3L267.2 378.3L267.7 377.4L268.2 376.4L268.7 375.5L269.2 374.5L269.7 373.5L270.2 372.6L270.7 371.6L271.2 370.6L271.7 369.7L272.2 368.7L272.6 367.8L273.1 366.8L273.6 365.9L274.1 365.1L274.6 364.2L275.1 363.3L275.6 362.4L276.1 361.6L276.6 360.7L277.1 359.8L277.6 358.8L278.1 357.9L278.6 356.9L279.1 355.9L279.5 354.8L280 353.7L280.5 352.6L281 351.4L281.5 350.2L282 349L282.5 347.8L283 346.5L283.5 345.3L284 344L284.5 342.7L285 341.4L285.5 340.1L286 338.8L286.4 337.5L286.9 336.3L287.4 335L287.9 333.7L288.4 332.5L288.9 331.3L289.4 330.1L289.9 328.9L290.4 327.8L290.9 326.7L291.4 325.6L291.9 324.5L292.4 323.4L292.9 322.3L293.4 321.2L293.8 320.2L294.3 319.1L294.8 318L295.3 317L295.8 316L296.3 314.9L296.8 313.9L297.3 312.9L297.8 311.9L298.3 310.9L298.8 309.9L299.3 308.9L299.8 307.9L300.3 306.9L300.7 305.9L301.2 305L301.7 304L302.2 303L302.7 302L303.2 301L303.7 300L304.2 299.1L304.7 298.1L305.2 297.2L305.7 296.3L306.2 295.5L306.7 294.6L307.2 293.8L307.6 293L308.1 292.4L308.6 300.1L309.1 312.6L309.6 326.8L310.1 330.6L310.6 331L311.1 331.2L311.6 331.5L312.1 332L312.6 332.5L313.1 333.1L313.6 333.7L314.1 334.3L314.5 335L315 335.7L315.5 336.5L316 337.3L316.5 338.1L317 338.9L317.5 339.7L318 340.6L318.5 341.4L319 342.3L319.5 343.2L320 344L320.5 344.9L321 345.8L321.5 346.6L321.9 347.4L322.4 348.2L322.9 349.1L323.4 349.9L323.9 350.7L324.4 351.6L324.9 352.4L325.4 353.3L325.9 354.2L326.4 355.1L326.9 355.9L327.4 356.8L327.9 357.7L328.4 358.6L328.8 359.5L329.3 360.4L329.8 361.3L330.3 362.2L330.8 363.1L331.3 364L331.8 364.8L332.3 365.7L332.8 366.6L333.3 367.5L333.8 368.3L334.3 369.2L334.8 370.1L335.3 370.9L335.7 371.8L336.2 372.7L336.7 373.5L337.2 374.4L337.7 375.2L338.2 376.1L338.7 377L339.2 377.8L339.7 378.7L340.2 379.5L340.7 380.4L341.2 381.3L341.7 382.1L342.2 383L342.6 383.8L343.1 384.7L343.6 385.5L344.1 386.4L344.6 387.3L345.1 388.2L345.6 389.3L346.1 390.4L346.6 391.6L347.1 392.6L347.6 393.6L348.1 394.3L348.6 394.9L349.1 395.2L349.6 389.3L350 379.2L350.5 373.9L351 370.2L351.5 368.8L352 368.9L352.5 369.3L353 369.9L353.5 370.5L354 371.2L354.5 371.7L355 372.1L355.5 372.3L356 372.3L356.5 372.3L356.9 372.3L357.4 372.3L357.9 372.3L358.4 372.3L358.9 372.3L359.4 372.3L359.9 372.3L360.4 372.3L360.9 372.3L361.4 372.3L361.9 372.4L362.4 372.6L362.9 372.9L363.4 373.2L363.8 373.5L364.3 373.9L364.8 374.3L365.3 374.7L365.8 375.1L366.3 375.6L366.8 376L367.3 376.4L367.8 376.9L368.3 377.4L368.8 378L369.3 378.6L369.8 379.2L370.3 379.8L370.8 380.4L371.2 381.1L371.7 381.8L372.2 382.4L372.7 383.1L373.2 383.8L373.7 384.4L374.2 385.1L374.7 385.8L375.2 386.6L375.7 387.3L376.2 388.1L376.7 388.8L377.2 389.6L377.7 390.4L378.1 391.2L378.6 392L379.1 392.8L379.6 393.6L380.1 394.4L380.6 395.2L381.1 396L381.6 396.7L382.1 397.5L382.6 398.3L383.1 399L383.6 399.8L384.1 400.6L384.6 401.4L385 402.1L385.5 402.9L386 403.7L386.5 404.5L387 405.3L387.5 406L388 406.8L388.5 407.6L389 408.3L389.5 409.1L390 409.8L390.5 410.6L391 411.3L391.5 412.1L391.9 412.8L392.4 413.6L392.9 414.3L393.4 415L393.9 415.8L394.4 416.5L394.9 417.2L395.4 418L395.9 418.7L396.4 419.4L396.9 420.1L397.4 420.8L397.9 421.5L398.4 422.3L398.9 423L399.3 423.7L399.8 424.4L399.8 427.2L399.3 426.6L398.9 425.9L398.4 425.3L397.9 424.6L397.4 424L396.9 423.3L396.4 422.6L395.9 421.9L395.4 421.3L394.9 420.6L394.4 419.9L393.9 419.2L393.4 418.6L392.9 417.9L392.4 417.2L391.9 416.5L391.5 415.8L391 415.1L390.5 414.4L390 413.7L389.5 413L389 412.3L388.5 411.6L388 410.9L387.5 410.1L387 409.4L386.5 408.7L386 408L385.5 407.3L385 406.5L384.6 405.8L384.1 405.1L383.6 404.4L383.1 403.6L382.6 402.9L382.1 402.2L381.6 401.5L381.1 400.8L380.6 400L380.1 399.3L379.6 398.5L379.1 397.8L378.6 397.1L378.1 396.3L377.7 395.6L377.2 394.8L376.7 394.1L376.2 393.4L375.7 392.7L375.2 392L374.7 391.3L374.2 390.7L373.7 390L373.2 389.4L372.7 388.8L372.2 388.1L371.7 387.5L371.2 386.9L370.8 386.3L370.3 385.7L369.8 385.1L369.3 384.5L368.8 384L368.3 383.5L367.8 383L367.3 382.5L366.8 382.1L366.3 381.7L365.8 381.4L365.3 381L364.8 380.6L364.3 380.2L363.8 379.8L363.4 379.5L362.9 379.2L362.4 379L361.9 378.8L361.4 378.7L360.9 378.7L360.4 378.7L359.9 378.7L359.4 378.7L358.9 378.7L358.4 378.7L357.9 378.7L357.4 378.7L356.9 378.7L356.5 378.7L356 378.7L355.5 378.7L355 378.5L354.5 378.2L354 377.7L353.5 377.1L353 376.5L352.5 375.9L352 375.6L351.5 375.4L351 376.7L350.5 380.2L350 385.1L349.6 394.6L349.1 400L348.6 399.8L348.1 399.3L347.6 398.5L347.1 397.7L346.6 396.7L346.1 395.6L345.6 394.6L345.1 393.6L344.6 392.7L344.1 391.8L343.6 391.1L343.1 390.3L342.6 389.5L342.2 388.7L341.7 387.9L341.2 387.1L340.7 386.3L340.2 385.5L339.7 384.7L339.2 383.9L338.7 383.1L338.2 382.3L337.7 381.5L337.2 380.7L336.7 379.8L336.2 379L335.7 378.2L335.3 377.4L334.8 376.6L334.3 375.8L333.8 375L333.3 374.2L332.8 373.4L332.3 372.6L331.8 371.8L331.3 370.9L330.8 370.1L330.3 369.3L329.8 368.4L329.3 367.6L328.8 366.8L328.4 365.9L327.9 365.1L327.4 364.3L326.9 363.5L326.4 362.6L325.9 361.8L325.4 361L324.9 360.2L324.4 359.4L323.9 358.6L323.4 357.8L322.9 357L322.4 356.3L321.9 355.5L321.5 354.7L321 354L320.5 353.2L320 352.4L319.5 351.5L319 350.7L318.5 349.9L318 349.1L317.5 348.3L317 347.6L316.5 346.8L316 346L315.5 345.3L315 344.6L314.5 344L314.1 343.3L313.6 342.7L313.1 342.1L312.6 341.6L312.1 341.1L311.6 340.7L311.1 340.4L310.6 340.2L310.1 339.8L309.6 336.3L309.1 323.1L308.6 311.4L308.1 304.2L307.6 304.8L307.2 305.5L306.7 306.3L306.2 307.1L305.7 307.9L305.2 308.7L304.7 309.6L304.2 310.4L303.7 311.3L303.2 312.2L302.7 313.1L302.2 314.1L301.7 315L301.2 315.9L300.7 316.8L300.3 317.8L299.8 318.7L299.3 319.6L298.8 320.5L298.3 321.5L297.8 322.4L297.3 323.3L296.8 324.3L296.3 325.2L295.8 326.2L295.3 327.1L294.8 328.1L294.3 329.1L293.8 330.1L293.4 331.1L292.9 332.1L292.4 333.1L291.9 334.1L291.4 335.1L290.9 336.2L290.4 337.2L289.9 338.3L289.4 339.3L288.9 340.5L288.4 341.6L287.9 342.7L287.4 343.9L286.9 345.1L286.4 346.3L286 347.5L285.5 348.7L285 349.9L284.5 351.1L284 352.3L283.5 353.5L283 354.7L282.5 355.8L282 357L281.5 358.1L281 359.2L280.5 360.3L280 361.4L279.5 362.4L279.1 363.4L278.6 364.3L278.1 365.3L277.6 366.2L277.1 367L276.6 367.9L276.1 368.7L275.6 369.5L275.1 370.3L274.6 371.1L274.1 372L273.6 372.8L273.1 373.6L272.6 374.5L272.2 375.4L271.7 376.2L271.2 377.1L270.7 378L270.2 379L269.7 379.9L269.2 380.8L268.7 381.7L268.2 382.6L267.7 383.5L267.2 384.3L266.7 385.2L266.2 386L265.7 386.9L265.2 387.7L264.8 388.5L264.3 389.3L263.8 390.1L263.3 390.9L262.8 391.7L262.3 392.5L261.8 393.3L261.3 394.1L260.8 394.9L260.3 395.7L259.8 396.5L259.3 397.3L258.8 398.1L258.3 398.9L257.9 399.7L257.4 400.5L256.9 401.3L256.4 402.1L255.9 402.9L255.4 403.6L254.9 404.4L254.4 405.1L253.9 405.9L253.4 406.6L252.9 407.4L252.4 408.1L251.9 408.8L251.4 409.5L251 410.1L250.5 410.7L250 411.2L249.5 411.7L249 412.2L248.5 412.7L248 413.1L247.5 413.6L247 414L246.5 414.4L246 414.7L245.5 415.1L245 415.4L244.5 415.7L244.1 416L243.6 416.3L243.1 416.6L242.6 416.9L242.1 417.2L241.6 417.5L241.1 417.8L240.6 418L240.1 418.3L239.6 418.6L239.1 418.9L238.6 419.2L238.1 419.5L237.6 419.8L237.1 420L236.7 420.3L236.2 420.6L235.7 420.8L235.2 421.1L234.7 421.4L234.2 421.7L233.7 421.9L233.2 422.2L232.7 422.5L232.2 422.8L231.7 423.1L231.2 423.5L230.7 423.8L230.2 424.2L229.8 424.6L229.3 425L228.8 425.5L228.3 426.1L227.8 426.6L227.3 427.2L226.8 427.7L226.3 428.2L225.8 428.7L225.3 429.2L224.8 429.6L224.3 429.9L223.8 430.2L223.3 430.6L222.9 430.8L222.4 431.1L221.9 431.2L221.4 431.3L220.9 431.3L220.4 431.2L219.9 431.2L219.4 431.1L218.9 431L218.4 430.9L217.9 430.8L217.4 430.6L216.9 430.4L216.4 430.3L215.9 430L215.5 429.8L215 429.6L214.5 429.3L214 429.1L213.5 428.8L213 428.5L212.5 428.2L212 427.9L211.5 427.6L211 427.3L210.5 427L210 426.7L209.5 426.4L209 426.1L208.6 425.8L208.1 425.5L207.6 425.2L207.1 424.8L206.6 424.5L206.1 424.1L205.6 423.8L205.1 423.4L204.6 423L204.1 422.6L203.6 422.3L203.1 421.9L202.6 421.5L202.1 421.1L201.7 420.7L201.2 420.3L200.7 419.9L200.2 419.4L199.7 419L199.2 418.6L198.7 418.1L198.2 417.7L197.7 417.2L197.2 416.8L196.7 416.3L196.2 415.8L195.7 415.2L195.2 414.7L194.8 414.2L194.3 413.6L193.8 413L193.3 412.3L192.8 411.6L192.3 410.8L191.8 410L191.3 409.2L190.8 408.4L190.3 407.6L189.8 406.7L189.3 405.9L188.8 405.1L188.3 404.3L187.8 403.6L187.4 402.8L186.9 402.1L186.4 401.4L185.9 400.8L185.4 400.4L184.9 399.9L184.4 399.6L183.9 399.5L183.4 399.7L182.9 400.1L182.4 400.6L181.9 401L181.4 401.5L180.9 402L180.5 402.6L180 403.2L179.5 403.8L179 404.4L178.5 405L178 405.7L177.5 406.4L177 407.1L176.5 407.8L176 408.6L175.5 409.3L175 410.1L174.5 410.8L174 411.6L173.6 412.3L173.1 413L172.6 413.7L172.1 414.3L171.6 414.9L171.1 415.5L170.6 416.1L170.1 416.7L169.6 417.3L169.1 417.8L168.6 418.4L168.1 418.9L167.6 419.5L167.1 420L166.6 420.6L166.2 421.1L165.7 421.6L165.2 422.1L164.7 422.6L164.2 423.1L163.7 423.6L163.2 424.1L162.7 424.5L162.2 425L161.7 425.4L161.2 425.9L160.7 426.3L160.2 426.8L159.7 427.2L159.3 427.6L158.8 428.1L158.3 428.5L157.8 428.9L157.3 429.3L156.8 429.7L156.3 430.1L155.8 430.5L155.3 430.9L154.8 431.3L154.3 431.6L153.8 432L153.3 432.4L152.8 432.8L152.4 433.2L151.9 433.5L151.4 433.9L150.9 434.3L150.4 434.6L149.9 435L149.4 435.3L148.9 435.7L148.4 436.1L147.9 436.4L147.4 436.8L146.9 437.1L146.4 437.5L145.9 437.8L145.4 438.2L145 438.5L144.5 438.9L144 439.2L143.5 439.6L143 439.9L142.5 440.2L142 440.6L141.5 440.9L141 441.3L140.5 441.6L140 441.9L139.5 442.2L139 442.6L138.5 442.9L138.1 443.2L137.6 443.5L137.1 443.9L136.6 444.2L136.1 444.5L135.6 444.8L135.1 445.1L134.6 445.4L134.1 445.7L133.6 446L133.1 446.3L132.6 446.6L132.1 446.9L131.6 447.2L131.2 447.5L130.7 447.8L130.2 448.1L129.7 448.4L129.2 448.7L128.7 449L128.2 449.3L127.7 449.6L127.2 449.9L126.7 450.2L126.2 450.5L125.7 450.8L125.2 451.1L124.7 451.4L124.3 451.7L123.8 452L123.3 452.2L122.8 452.5L122.3 452.8L121.8 453.1L121.3 453.3L120.8 453.6L120.3 453.9L119.8 454.1L119.3 454.4L118.8 454.6L118.3 454.9L117.8 455.1L117.3 455.4L116.9 455.6L116.4 455.8L115.9 456L115.4 456.2L114.9 456.4L114.4 456.7L113.9 456.9L113.4 457.1L112.9 457.3L112.4 457.5L111.9 457.7L111.4 457.9L110.9 458.1L110.4 458.3L110 458.5L109.5 458.7L109 458.9L108.5 459L108 459.2L107.5 459.4L107 459.6L106.5 459.7L106 459.9L105.5 460L105 460.2L104.5 460.3L104 460.5L103.5 460.6L103.1 460.7L102.6 460.8L102.1 461L101.6 461.1L101.1 461.2L100.6 461.3L100.1 461.4L99.6 461.5L99.1 461.6L98.6 461.7L98.1 461.7L97.6 461.8L97.1 461.9L96.6 462L96.2 462.1L95.7 462.2L95.2 462.2L94.7 462.3L94.2 462.4L93.7 462.5L93.2 462.5L92.7 462.6L92.2 462.7L91.7 462.8L91.2 462.8L90.7 462.9L90.2 462.9L89.7 463L89.2 463.1L88.8 463.1L88.3 463.2L87.8 463.3L87.3 463.3L86.8 463.4L86.3 463.4L85.8 463.5L85.3 463.5L84.8 463.6L84.3 463.7L83.8 463.7L83.3 463.8L82.8 463.8L82.3 463.9L81.9 463.9L81.4 464L80.9 464L80.4 464.1L79.9 464.1L79.4 464.2L78.9 464.2L78.4 464.3L77.9 464.3L77.4 464.4L76.9 464.4L76.4 464.4L75.9 464.5L75.4 464.5L75 464.6L74.5 464.6L74 464.6L73.5 464.7L73 464.7L72.5 464.7L72 464.8L71.5 464.8Z" fill="#da96b8"/>
<path d="M71 463.7L76 462.7L82.1 461.7L88.1 460.6L92.2 463L98.2 462.7L104.3 461.7L110.3 461.7L115.4 459.6L119.4 454.6L123.4 449.6L127.5 445.5L131.5 443.5L134.5 437.5L137.5 432.4L139.6 434.4L142.6 439.5L146.6 438.5L150.6 436.5L154.7 434.4L158.7 432.8L162.7 429.4L166.8 428.4L170.4 426.5L173 421.5L176 409.5L179.1 400L182.1 397.3L185.1 396.3L188.1 400.3L191.2 403.3L195.2 403.3L199.2 402.3L201.3 405.4L204.3 412.4L207.3 415.4L210.3 420.5L213.3 424.5L216.4 428.5L219.4 430.6L222.4 428.5L225.4 425.5L228.5 424.5L230.5 428.5L233.5 431.6L235.5 429.6L237.5 422.5L239.6 417.5L243.6 414.4L247.6 413.4L250.6 411.4L252.7 406.4L255.7 403.3L258.7 401.3L261.7 399.3L263.8 395.3L266.8 387.2L270.8 382.2L273.8 376.1L276.9 368.1L279.2 358.7L281.3 354.7L284.3 353.7L286.3 349.6L288.3 345.6L290.3 343L292.3 344.6L294 348.6L296 349.6" stroke="#cc0a0a" stroke-width="2.1" fill="none" stroke-linejoin="round"/>
<g fill="#d40808"><ellipse cx="71.5" cy="462.5" rx="2.2" ry="1.55"/><ellipse cx="72.5" cy="463.1" rx="2.2" ry="1.55"/><ellipse cx="73.5" cy="463.3" rx="2.2" ry="1.55"/><ellipse cx="74.5" cy="464.8" rx="2.2" ry="1.55"/><ellipse cx="75.4" cy="464.3" rx="2.2" ry="1.55"/><ellipse cx="76.4" cy="462" rx="2.2" ry="1.55"/><ellipse cx="77.4" cy="461.8" rx="2.2" ry="1.55"/><ellipse cx="78.4" cy="461.4" rx="2.2" ry="1.55"/><ellipse cx="79.4" cy="461.5" rx="2.2" ry="1.55"/><ellipse cx="80.4" cy="462.3" rx="2.2" ry="1.55"/><ellipse cx="81.4" cy="463.6" rx="2.2" ry="1.55"/><ellipse cx="82.3" cy="463.7" rx="2.2" ry="1.55"/><ellipse cx="83.3" cy="460.2" rx="2.2" ry="1.55"/><ellipse cx="84.3" cy="459.8" rx="2.2" ry="1.55"/><ellipse cx="85.3" cy="460.9" rx="2.2" ry="1.55"/><ellipse cx="86.3" cy="460.9" rx="2.2" ry="1.55"/><ellipse cx="87.3" cy="460.3" rx="2.2" ry="1.55"/><ellipse cx="88.3" cy="462" rx="2.2" ry="1.55"/><ellipse cx="89.2" cy="463.3" rx="2.2" ry="1.55"/><ellipse cx="90.2" cy="461.3" rx="2.2" ry="1.55"/><ellipse cx="91.2" cy="461" rx="2.2" ry="1.55"/><ellipse cx="92.2" cy="462.5" rx="2.2" ry="1.55"/><ellipse cx="93.2" cy="462.3" rx="2.2" ry="1.55"/><ellipse cx="94.2" cy="462.3" rx="2.2" ry="1.55"/><ellipse cx="95.2" cy="463.9" rx="2.2" ry="1.55"/><ellipse cx="96.2" cy="464.3" rx="2.2" ry="1.55"/><ellipse cx="97.1" cy="461.7" rx="2.2" ry="1.55"/><ellipse cx="98.1" cy="462.1" rx="2.2" ry="1.55"/><ellipse cx="99.1" cy="461.9" rx="2.2" ry="1.55"/><ellipse cx="100.1" cy="462.2" rx="2.2" ry="1.55"/><ellipse cx="101.1" cy="462.2" rx="2.2" ry="1.55"/><ellipse cx="102.1" cy="463.7" rx="2.2" ry="1.55"/><ellipse cx="103.1" cy="463.8" rx="2.2" ry="1.55"/><ellipse cx="104" cy="461" rx="2.2" ry="1.55"/><ellipse cx="105" cy="460.6" rx="2.2" ry="1.55"/><ellipse cx="106" cy="460.8" rx="2.2" ry="1.55"/><ellipse cx="107" cy="461" rx="2.2" ry="1.55"/><ellipse cx="108" cy="461" rx="2.2" ry="1.55"/><ellipse cx="109" cy="463.7" rx="2.2" ry="1.55"/><ellipse cx="110" cy="463.2" rx="2.2" ry="1.55"/><ellipse cx="110.9" cy="460.6" rx="2.2" ry="1.55"/><ellipse cx="111.9" cy="460.5" rx="2.2" ry="1.55"/><ellipse cx="112.9" cy="459.7" rx="2.2" ry="1.55"/><ellipse cx="113.9" cy="459.5" rx="2.2" ry="1.55"/><ellipse cx="114.9" cy="459.1" rx="2.2" ry="1.55"/><ellipse cx="115.9" cy="461.8" rx="2.2" ry="1.55"/><ellipse cx="116.9" cy="461" rx="2.2" ry="1.55"/><ellipse cx="117.8" cy="454.6" rx="2.2" ry="1.55"/><ellipse cx="118.8" cy="454.8" rx="2.2" ry="1.55"/><ellipse cx="119.8" cy="453.4" rx="2.2" ry="1.55"/><ellipse cx="120.8" cy="450.7" rx="2.2" ry="1.55"/><ellipse cx="121.8" cy="450.5" rx="2.2" ry="1.55"/><ellipse cx="122.8" cy="454.3" rx="2.2" ry="1.55"/><ellipse cx="123.8" cy="455.1" rx="2.2" ry="1.55"/><ellipse cx="124.7" cy="444.3" rx="2.2" ry="1.55"/><ellipse cx="125.7" cy="443" rx="2.2" ry="1.55"/><ellipse cx="126.7" cy="440.6" rx="2.2" ry="1.55"/><ellipse cx="127.7" cy="444.9" rx="2.2" ry="1.55"/><ellipse cx="128.7" cy="444.8" rx="2.2" ry="1.55"/><ellipse cx="129.7" cy="450.6" rx="2.2" ry="1.55"/><ellipse cx="130.7" cy="454" rx="2.2" ry="1.55"/><ellipse cx="131.6" cy="436.2" rx="2.2" ry="1.55"/><ellipse cx="132.6" cy="438" rx="2.2" ry="1.55"/><ellipse cx="133.6" cy="435" rx="2.2" ry="1.55"/><ellipse cx="134.6" cy="428.7" rx="2.2" ry="1.55"/><ellipse cx="135.6" cy="437.3" rx="2.2" ry="1.55"/><ellipse cx="136.6" cy="444.7" rx="2.2" ry="1.55"/><ellipse cx="137.6" cy="442" rx="2.2" ry="1.55"/><ellipse cx="138.5" cy="431" rx="2.2" ry="1.55"/><ellipse cx="139.5" cy="429.1" rx="2.2" ry="1.55"/><ellipse cx="140.5" cy="429.5" rx="2.2" ry="1.55"/><ellipse cx="141.5" cy="433.6" rx="2.2" ry="1.55"/><ellipse cx="142.5" cy="437.5" rx="2.2" ry="1.55"/><ellipse cx="143.5" cy="446.9" rx="2.2" ry="1.55"/><ellipse cx="144.5" cy="447.1" rx="2.2" ry="1.55"/><ellipse cx="145.4" cy="431.3" rx="2.2" ry="1.55"/><ellipse cx="146.4" cy="431.1" rx="2.2" ry="1.55"/><ellipse cx="147.4" cy="435.3" rx="2.2" ry="1.55"/><ellipse cx="148.4" cy="436.5" rx="2.2" ry="1.55"/><ellipse cx="149.4" cy="441.3" rx="2.2" ry="1.55"/><ellipse cx="150.4" cy="444.4" rx="2.2" ry="1.55"/><ellipse cx="151.4" cy="450" rx="2.2" ry="1.55"/><ellipse cx="152.4" cy="427.6" rx="2.2" ry="1.55"/><ellipse cx="153.3" cy="423" rx="2.2" ry="1.55"/><ellipse cx="154.3" cy="432.6" rx="2.2" ry="1.55"/><ellipse cx="155.3" cy="432.9" rx="2.2" ry="1.55"/><ellipse cx="156.3" cy="434.5" rx="2.2" ry="1.55"/><ellipse cx="157.3" cy="441.7" rx="2.2" ry="1.55"/><ellipse cx="158.3" cy="446.6" rx="2.2" ry="1.55"/><ellipse cx="159.3" cy="426.8" rx="2.2" ry="1.55"/><ellipse cx="160.2" cy="426.1" rx="2.2" ry="1.55"/><ellipse cx="161.2" cy="425.6" rx="2.2" ry="1.55"/><ellipse cx="162.2" cy="421.9" rx="2.2" ry="1.55"/><ellipse cx="163.2" cy="431.6" rx="2.2" ry="1.55"/><ellipse cx="164.2" cy="440.1" rx="2.2" ry="1.55"/><ellipse cx="165.2" cy="441.9" rx="2.2" ry="1.55"/><ellipse cx="166.2" cy="418.9" rx="2.2" ry="1.55"/><ellipse cx="167.1" cy="425.1" rx="2.2" ry="1.55"/><ellipse cx="168.1" cy="417.3" rx="2.2" ry="1.55"/><ellipse cx="169.1" cy="421.7" rx="2.2" ry="1.55"/><ellipse cx="170.1" cy="423.1" rx="2.2" ry="1.55"/><ellipse cx="171.1" cy="437.3" rx="2.2" ry="1.55"/><ellipse cx="172.1" cy="442.6" rx="2.2" ry="1.55"/><ellipse cx="173.1" cy="416.2" rx="2.2" ry="1.55"/><ellipse cx="174" cy="403.3" rx="2.2" ry="1.55"/><ellipse cx="175" cy="404.5" rx="2.2" ry="1.55"/><ellipse cx="176" cy="404" rx="2.2" ry="1.55"/><ellipse cx="177" cy="396.6" rx="2.2" ry="1.55"/><ellipse cx="178" cy="414.3" rx="2.2" ry="1.55"/><ellipse cx="179" cy="424.3" rx="2.2" ry="1.55"/><ellipse cx="180" cy="375.3" rx="2.2" ry="1.55"/><ellipse cx="180.9" cy="397.6" rx="2.2" ry="1.55"/><ellipse cx="181.9" cy="399.5" rx="2.2" ry="1.55"/><ellipse cx="182.9" cy="384.7" rx="2.2" ry="1.55"/><ellipse cx="183.9" cy="397.1" rx="2.2" ry="1.55"/><ellipse cx="184.9" cy="414.9" rx="2.2" ry="1.55"/><ellipse cx="185.9" cy="420.4" rx="2.2" ry="1.55"/><ellipse cx="186.9" cy="387.5" rx="2.2" ry="1.55"/><ellipse cx="187.8" cy="382" rx="2.2" ry="1.55"/><ellipse cx="188.8" cy="389.4" rx="2.2" ry="1.55"/><ellipse cx="189.8" cy="404.3" rx="2.2" ry="1.55"/><ellipse cx="190.8" cy="400.7" rx="2.2" ry="1.55"/><ellipse cx="191.8" cy="421.4" rx="2.2" ry="1.55"/><ellipse cx="192.8" cy="420" rx="2.2" ry="1.55"/><ellipse cx="193.8" cy="399.1" rx="2.2" ry="1.55"/><ellipse cx="194.8" cy="390.3" rx="2.2" ry="1.55"/><ellipse cx="195.7" cy="395.4" rx="2.2" ry="1.55"/><ellipse cx="196.7" cy="397.3" rx="2.2" ry="1.55"/><ellipse cx="197.7" cy="392.9" rx="2.2" ry="1.55"/><ellipse cx="198.7" cy="420.1" rx="2.2" ry="1.55"/><ellipse cx="199.7" cy="427.4" rx="2.2" ry="1.55"/><ellipse cx="200.7" cy="392.8" rx="2.2" ry="1.55"/><ellipse cx="201.7" cy="389.4" rx="2.2" ry="1.55"/><ellipse cx="202.6" cy="404.5" rx="2.2" ry="1.55"/><ellipse cx="203.6" cy="406.6" rx="2.2" ry="1.55"/><ellipse cx="204.6" cy="405" rx="2.2" ry="1.55"/><ellipse cx="205.6" cy="426.8" rx="2.2" ry="1.55"/><ellipse cx="206.6" cy="433.5" rx="2.2" ry="1.55"/><ellipse cx="207.6" cy="409.4" rx="2.2" ry="1.55"/><ellipse cx="208.6" cy="408.2" rx="2.2" ry="1.55"/><ellipse cx="209.5" cy="418.4" rx="2.2" ry="1.55"/><ellipse cx="210.5" cy="412.4" rx="2.2" ry="1.55"/><ellipse cx="211.5" cy="420.1" rx="2.2" ry="1.55"/><ellipse cx="212.5" cy="435.9" rx="2.2" ry="1.55"/><ellipse cx="213.5" cy="442.6" rx="2.2" ry="1.55"/><ellipse cx="214.5" cy="421.7" rx="2.2" ry="1.55"/><ellipse cx="215.5" cy="417.3" rx="2.2" ry="1.55"/><ellipse cx="216.4" cy="421.4" rx="2.2" ry="1.55"/><ellipse cx="217.4" cy="427.1" rx="2.2" ry="1.55"/><ellipse cx="218.4" cy="427.8" rx="2.2" ry="1.55"/><ellipse cx="219.4" cy="439.4" rx="2.2" ry="1.55"/><ellipse cx="220.4" cy="444.4" rx="2.2" ry="1.55"/><ellipse cx="221.4" cy="424.6" rx="2.2" ry="1.55"/><ellipse cx="222.4" cy="423.9" rx="2.2" ry="1.55"/><ellipse cx="223.3" cy="425.4" rx="2.2" ry="1.55"/><ellipse cx="224.3" cy="419.7" rx="2.2" ry="1.55"/><ellipse cx="225.3" cy="423.2" rx="2.2" ry="1.55"/><ellipse cx="226.3" cy="436.7" rx="2.2" ry="1.55"/><ellipse cx="227.3" cy="442.5" rx="2.2" ry="1.55"/><ellipse cx="228.3" cy="421.4" rx="2.2" ry="1.55"/><ellipse cx="229.3" cy="418" rx="2.2" ry="1.55"/><ellipse cx="230.2" cy="423.2" rx="2.2" ry="1.55"/><ellipse cx="231.2" cy="425.1" rx="2.2" ry="1.55"/><ellipse cx="232.2" cy="431.8" rx="2.2" ry="1.55"/><ellipse cx="233.2" cy="440.5" rx="2.2" ry="1.55"/><ellipse cx="234.2" cy="440.5" rx="2.2" ry="1.55"/><ellipse cx="235.2" cy="418.2" rx="2.2" ry="1.55"/><ellipse cx="236.2" cy="413" rx="2.2" ry="1.55"/><ellipse cx="237.1" cy="416.5" rx="2.2" ry="1.55"/><ellipse cx="238.1" cy="412.7" rx="2.2" ry="1.55"/><ellipse cx="239.1" cy="419.3" rx="2.2" ry="1.55"/><ellipse cx="240.1" cy="429.2" rx="2.2" ry="1.55"/><ellipse cx="241.1" cy="435.4" rx="2.2" ry="1.55"/><ellipse cx="242.1" cy="409.1" rx="2.2" ry="1.55"/><ellipse cx="243.1" cy="407.5" rx="2.2" ry="1.55"/><ellipse cx="244.1" cy="402.4" rx="2.2" ry="1.55"/><ellipse cx="245" cy="407.5" rx="2.2" ry="1.55"/><ellipse cx="246" cy="412.1" rx="2.2" ry="1.55"/><ellipse cx="247" cy="432.7" rx="2.2" ry="1.55"/><ellipse cx="248" cy="432" rx="2.2" ry="1.55"/><ellipse cx="249" cy="410.5" rx="2.2" ry="1.55"/><ellipse cx="250" cy="392.8" rx="2.2" ry="1.55"/><ellipse cx="251" cy="402.1" rx="2.2" ry="1.55"/><ellipse cx="251.9" cy="401.4" rx="2.2" ry="1.55"/><ellipse cx="252.9" cy="405.7" rx="2.2" ry="1.55"/><ellipse cx="253.9" cy="428.9" rx="2.2" ry="1.55"/><ellipse cx="254.9" cy="431" rx="2.2" ry="1.55"/><ellipse cx="255.9" cy="392.4" rx="2.2" ry="1.55"/><ellipse cx="256.9" cy="380.2" rx="2.2" ry="1.55"/><ellipse cx="257.9" cy="398.1" rx="2.2" ry="1.55"/><ellipse cx="258.8" cy="398.8" rx="2.2" ry="1.55"/><ellipse cx="259.8" cy="399.7" rx="2.2" ry="1.55"/><ellipse cx="260.8" cy="426.1" rx="2.2" ry="1.55"/><ellipse cx="261.8" cy="429.3" rx="2.2" ry="1.55"/><ellipse cx="262.8" cy="387.9" rx="2.2" ry="1.55"/><ellipse cx="263.8" cy="381.1" rx="2.2" ry="1.55"/><ellipse cx="264.8" cy="383.4" rx="2.2" ry="1.55"/><ellipse cx="265.7" cy="372" rx="2.2" ry="1.55"/><ellipse cx="266.7" cy="387.2" rx="2.2" ry="1.55"/><ellipse cx="267.7" cy="408.3" rx="2.2" ry="1.55"/><ellipse cx="268.7" cy="407.4" rx="2.2" ry="1.55"/><ellipse cx="269.7" cy="355.9" rx="2.2" ry="1.55"/><ellipse cx="270.7" cy="378.1" rx="2.2" ry="1.55"/><ellipse cx="271.7" cy="369.5" rx="2.2" ry="1.55"/><ellipse cx="272.6" cy="360.6" rx="2.2" ry="1.55"/><ellipse cx="273.6" cy="385.1" rx="2.2" ry="1.55"/><ellipse cx="274.6" cy="406.3" rx="2.2" ry="1.55"/><ellipse cx="275.6" cy="411.9" rx="2.2" ry="1.55"/><ellipse cx="276.6" cy="364.6" rx="2.2" ry="1.55"/><ellipse cx="277.6" cy="355.8" rx="2.2" ry="1.55"/><ellipse cx="278.6" cy="342.5" rx="2.2" ry="1.55"/><ellipse cx="279.5" cy="335.1" rx="2.2" ry="1.55"/><ellipse cx="280.5" cy="340.6" rx="2.2" ry="1.55"/><ellipse cx="281.5" cy="387.7" rx="2.2" ry="1.55"/><ellipse cx="282.5" cy="406" rx="2.2" ry="1.55"/><ellipse cx="283.5" cy="335.1" rx="2.2" ry="1.55"/><ellipse cx="284.5" cy="334" rx="2.2" ry="1.55"/><ellipse cx="285.5" cy="328.9" rx="2.2" ry="1.55"/><ellipse cx="286.4" cy="339" rx="2.2" ry="1.55"/><ellipse cx="287.4" cy="362.9" rx="2.2" ry="1.55"/><ellipse cx="288.4" cy="378.4" rx="2.2" ry="1.55"/><ellipse cx="289.4" cy="401.1" rx="2.2" ry="1.55"/><ellipse cx="290.4" cy="329.8" rx="2.2" ry="1.55"/><ellipse cx="291.4" cy="315.2" rx="2.2" ry="1.55"/><ellipse cx="292.4" cy="321" rx="2.2" ry="1.55"/><ellipse cx="293.4" cy="318.6" rx="2.2" ry="1.55"/><ellipse cx="294.3" cy="369.6" rx="2.2" ry="1.55"/><ellipse cx="295.3" cy="381.7" rx="2.2" ry="1.55"/></g>
<path d="M71.5 464.7L72 464.7L72.5 464.7L73 464.6L73.5 464.6L74 464.5L74.5 464.5L75 464.5L75.4 464.4L75.9 464.4L76.4 464.3L76.9 464.3L77.4 464.3L77.9 464.2L78.4 464.2L78.9 464.1L79.4 464.1L79.9 464L80.4 464L80.9 463.9L81.4 463.9L81.9 463.8L82.3 463.8L82.8 463.7L83.3 463.6L83.8 463.6L84.3 463.5L84.8 463.5L85.3 463.4L85.8 463.4L86.3 463.3L86.8 463.2L87.3 463.2L87.8 463.1L88.3 463.1L88.8 463L89.2 462.9L89.7 462.9L90.2 462.8L90.7 462.7L91.2 462.7L91.7 462.6L92.2 462.5L92.7 462.5L93.2 462.4L93.7 462.3L94.2 462.2L94.7 462.2L95.2 462.1L95.7 462L96.2 461.9L96.6 461.8L97.1 461.7L97.6 461.6L98.1 461.6L98.6 461.5L99.1 461.4L99.6 461.3L100.1 461.2L100.6 461.1L101.1 461L101.6 460.9L102.1 460.7L102.6 460.6L103.1 460.5L103.5 460.4L104 460.2L104.5 460.1L105 459.9L105.5 459.8L106 459.6L106.5 459.5L107 459.3L107.5 459.1L108 458.9L108.5 458.8L109 458.6L109.5 458.4L110 458.2L110.4 458L110.9 457.8L111.4 457.6L111.9 457.4L112.4 457.1L112.9 456.9L113.4 456.7L113.9 456.5L114.4 456.3L114.9 456.1L115.4 455.8L115.9 455.6L116.4 455.4L116.9 455.2L117.3 454.9L117.8 454.7L118.3 454.4L118.8 454.2L119.3 453.9L119.8 453.7L120.3 453.4L120.8 453.1L121.3 452.8L121.8 452.6L122.3 452.3L122.8 452L123.3 451.7L123.8 451.4L124.3 451.1L124.7 450.8L125.2 450.5L125.7 450.2L126.2 449.9L126.7 449.6L127.2 449.3L127.7 449L128.2 448.7L128.7 448.4L129.2 448.1L129.7 447.8L130.2 447.4L130.7 447.1L131.2 446.8L131.6 446.5L132.1 446.2L132.6 445.9L133.1 445.6L133.6 445.3L134.1 445L134.6 444.6L135.1 444.3L135.6 444L136.1 443.7L136.6 443.3L137.1 443L137.6 442.7L138.1 442.4L138.5 442L139 441.7L139.5 441.3L140 441L140.5 440.7L141 440.3L141.5 440L142 439.6L142.5 439.3L143 438.9L143.5 438.6L144 438.2L144.5 437.9L145 437.5L145.4 437.1L145.9 436.8L146.4 436.4L146.9 436L147.4 435.7L147.9 435.3L148.4 434.9L148.9 434.6L149.4 434.2L149.9 433.8L150.4 433.4L150.9 433.1L151.4 432.7L151.9 432.3L152.4 431.9L152.8 431.5L153.3 431.2L153.8 430.8L154.3 430.4L154.8 430L155.3 429.6L155.8 429.2L156.3 428.7L156.8 428.3L157.3 427.9L157.8 427.5L158.3 427.1L158.8 426.6L159.3 426.2L159.7 425.8L160.2 425.3L160.7 424.9L161.2 424.4L161.7 423.9L162.2 423.5L162.7 423L163.2 422.5L163.7 422L164.2 421.5L164.7 421L165.2 420.5L165.7 420L166.2 419.4L166.6 418.9L167.1 418.3L167.6 417.8L168.1 417.2L168.6 416.6L169.1 416L169.6 415.5L170.1 414.9L170.6 414.2L171.1 413.6L171.6 413L172.1 412.4L172.6 411.7L173.1 411L173.6 410.3L174 409.6L174.5 408.8L175 408L175.5 407.2L176 406.5L176.5 405.7L177 404.9L177.5 404.2L178 403.5L178.5 402.8L179 402.1L179.5 401.5L180 400.9L180.5 400.3L180.9 399.7L181.4 399.1L181.9 398.6L182.4 398.2L182.9 397.7L183.4 397.2L183.9 397L184.4 397.1L184.9 397.5L185.4 397.9L185.9 398.4L186.4 399L186.9 399.7L187.4 400.5L187.8 401.3L188.3 402L188.8 402.9L189.3 403.7L189.8 404.5L190.3 405.4L190.8 406.3L191.3 407.1L191.8 408L192.3 408.8L192.8 409.6L193.3 410.3L193.8 411L194.3 411.6L194.8 412.2L195.2 412.8L195.7 413.4L196.2 413.9L196.7 414.4L197.2 414.9L197.7 415.4L198.2 415.9L198.7 416.4L199.2 416.8L199.7 417.3L200.2 417.7L200.7 418.1L201.2 418.6L201.7 419L202.1 419.4L202.6 419.8L203.1 420.2L203.6 420.6L204.1 421L204.6 421.4L205.1 421.8L205.6 422.2L206.1 422.6L206.6 422.9L207.1 423.3L207.6 423.7L208.1 424L208.6 424.3L209 424.7L209.5 425L210 425.3L210.5 425.6L211 425.9L211.5 426.2L212 426.5L212.5 426.8L213 427.1L213.5 427.4L214 427.7L214.5 428L215 428.2L215.5 428.5L215.9 428.7L216.4 428.9L216.9 429.1L217.4 429.3L217.9 429.4L218.4 429.6L218.9 429.7L219.4 429.8L219.9 429.9L220.4 429.9L220.9 430L221.4 430L221.9 430L222.4 429.8L222.9 429.5L223.3 429.2L223.8 428.9L224.3 428.6L224.8 428.2L225.3 427.8L225.8 427.4L226.3 426.8L226.8 426.3L227.3 425.7L227.8 425.1L228.3 424.6L228.8 424L229.3 423.5L229.8 423L230.2 422.6L230.7 422.2L231.2 421.9L231.7 421.5L232.2 421.2L232.7 420.9L233.2 420.6L233.7 420.3L234.2 420L234.7 419.7L235.2 419.5L235.7 419.2L236.2 418.9L236.7 418.6L237.1 418.3L237.6 418L238.1 417.7L238.6 417.4L239.1 417.1L239.6 416.8L240.1 416.5L240.6 416.3L241.1 416L241.6 415.7L242.1 415.4L242.6 415.1L243.1 414.8L243.6 414.5L244.1 414.2L244.5 413.9L245 413.5L245.5 413.2L246 412.8L246.5 412.5L247 412.1L247.5 411.6L248 411.2L248.5 410.7L249 410.2L249.5 409.7L250 409.2L250.5 408.6L251 408L251.4 407.4L251.9 406.7L252.4 406L252.9 405.2L253.4 404.4L253.9 403.7L254.4 402.9L254.9 402.1L255.4 401.3L255.9 400.5L256.4 399.7L256.9 398.9L257.4 398.1L257.9 397.3L258.3 396.5L258.8 395.6L259.3 394.8L259.8 394L260.3 393.1L260.8 392.3L261.3 391.5L261.8 390.6L262.3 389.8L262.8 389L263.3 388.2L263.8 387.3L264.3 386.5L264.8 385.7L265.2 384.8L265.7 384L266.2 383.1L266.7 382.2L267.2 381.3L267.7 380.4L268.2 379.5L268.7 378.6L269.2 377.6L269.7 376.7L270.2 375.8L270.7 374.8L271.2 373.9L271.7 373L272.2 372L272.6 371.1L273.1 370.2L273.6 369.4L274.1 368.5L274.6 367.7L275.1 366.8L275.6 366L276.1 365.1L276.6 364.3L277.1 363.4L277.6 362.5L278.1 361.6L278.6 360.6L279.1 359.6L279.5 358.6L280 357.5L280.5 356.4L281 355.3L281.5 354.2L282 353L282.5 351.8L283 350.6L283.5 349.4L284 348.1L284.5 346.9L285 345.6L285.5 344.4L286 343.2L286.4 341.9L286.9 340.7L287.4 339.4L287.9 338.2L288.4 337L288.9 335.9L289.4 334.7L289.9 333.6L290.4 332.5L290.9 331.4L291.4 330.3L291.9 329.3L292.4 328.2L292.9 327.2L293.4 326.1L293.8 325.1L294.3 324.1L294.8 323.1L295.3 322.1L295.8 321.1L296.3 320.1L296.8 319.1L297.3 318.1L297.8 317.1L298.3 316.2L298.8 315.2L299.3 314.2L299.8 313.3L300.3 312.3L300.7 311.4L301.2 310.4L301.7 309.5L302.2 308.5L302.7 307.6L303.2 306.6L303.7 305.7L304.2 304.8L304.7 303.9L305.2 303L305.7 302.1L306.2 301.3L306.7 300.5L307.2 299.7L307.6 298.9L308.1 298.3L308.6 305.7L309.1 317.9L309.6 331.5L310.1 335.2L310.6 335.6L311.1 335.8L311.6 336.1L312.1 336.6L312.6 337.1L313.1 337.6L313.6 338.2L314.1 338.8L314.5 339.5L315 340.2L315.5 340.9L316 341.7L316.5 342.4L317 343.2L317.5 344L318 344.9L318.5 345.7L319 346.5L319.5 347.4L320 348.2L320.5 349L321 349.9L321.5 350.7L321.9 351.5L322.4 352.2L322.9 353L323.4 353.8L323.9 354.7L324.4 355.5L324.9 356.3L325.4 357.2L325.9 358L326.4 358.8L326.9 359.7L327.4 360.6L327.9 361.4L328.4 362.3L328.8 363.1L329.3 364L329.8 364.9L330.3 365.7L330.8 366.6L331.3 367.4L331.8 368.3L332.3 369.2L332.8 370L333.3 370.8L333.8 371.7L334.3 372.5L334.8 373.3L335.3 374.2L335.7 375L336.2 375.9L336.7 376.7L337.2 377.5L337.7 378.4L338.2 379.2L338.7 380L339.2 380.8L339.7 381.7L340.2 382.5L340.7 383.3L341.2 384.2L341.7 385L342.2 385.8L342.6 386.6L343.1 387.5L343.6 388.3L344.1 389.1L344.6 390L345.1 390.9L345.6 392L346.1 393L346.6 394.1L347.1 395.1L347.6 396L348.1 396.8L348.6 397.3L349.1 397.6L349.6 392L350 382.2L350.5 377.1L351 373.5L351.5 372.1L352 372.3L352.5 372.6L353 373.2L353.5 373.8L354 374.4L354.5 375L355 375.3L355.5 375.5L356 375.5L356.5 375.5L356.9 375.5L357.4 375.5L357.9 375.5L358.4 375.5L358.9 375.5L359.4 375.5L359.9 375.5L360.4 375.5L360.9 375.5L361.4 375.5L361.9 375.6L362.4 375.8L362.9 376L363.4 376.3L363.8 376.7L364.3 377L364.8 377.4L365.3 377.8L365.8 378.2L366.3 378.6L366.8 379L367.3 379.5L367.8 379.9L368.3 380.5L368.8 381L369.3 381.6L369.8 382.1L370.3 382.7L370.8 383.4L371.2 384L371.7 384.6L372.2 385.3L372.7 385.9L373.2 386.6L373.7 387.2L374.2 387.9L374.7 388.6L375.2 389.3L375.7 390L376.2 390.7L376.7 391.5L377.2 392.2L377.7 393L378.1 393.8L378.6 394.5L379.1 395.3L379.6 396.1L380.1 396.8L380.6 397.6L381.1 398.4L381.6 399.1L382.1 399.9L382.6 400.6L383.1 401.3L383.6 402.1L384.1 402.8L384.6 403.6L385 404.3L385.5 405.1L386 405.8L386.5 406.6L387 407.3L387.5 408.1L388 408.8L388.5 409.6L389 410.3L389.5 411L390 411.8L390.5 412.5L391 413.2L391.5 413.9L391.9 414.7L392.4 415.4L392.9 416.1L393.4 416.8L393.9 417.5L394.4 418.2L394.9 418.9L395.4 419.6L395.9 420.3L396.4 421L396.9 421.7L397.4 422.4L397.9 423.1L398.4 423.8L398.9 424.4L399.3 425.1L399.8 425.8" stroke="#b0386f" stroke-width="1.8" fill="none" stroke-linejoin="round"/>
<path d="M71.5 267.9V467.0H401.8M71.5 467.0v2.5M102.1 467.0v2.5M131.6 467.0v2.5M162.2 467.0v2.5M191.8 467.0v2.5M222.4 467.0v2.5M252.9 467.0v2.5M280.5 467.0v2.5M311.1 467.0v2.5M340.7 467.0v2.5M371.2 467.0v2.5M71.5 467.0h-3.8M71.5 438.6h-3.8M71.5 410.1h-3.8M71.5 381.6h-3.8M71.5 353.2h-3.8M71.5 324.8h-3.8M71.5 296.3h-3.8M71.5 267.9h-3.8" stroke="#555" stroke-width="0.9" fill="none"/>
<text transform="translate(71.5,477.5) scale(1.250,1.000)" font-size="6.60" text-anchor="middle" fill="#404040">01.08.</text>
<text transform="translate(102.1,477.5) scale(1.250,1.000)" font-size="6.60" text-anchor="middle" fill="#404040">01.09.</text>
<text transform="translate(131.6,477.5) scale(1.250,1.000)" font-size="6.60" text-anchor="middle" fill="#404040">01.10.</text>
<text transform="translate(162.2,477.5) scale(1.250,1.000)" font-size="6.60" text-anchor="middle" fill="#404040">01.11.</text>
<text transform="translate(191.8,477.5) scale(1.250,1.000)" font-size="6.60" text-anchor="middle" fill="#404040">01.12.</text>
<text transform="translate(222.4,477.5) scale(1.250,1.000)" font-size="6.60" text-anchor="middle" fill="#404040">01.01.</text>
<text transform="translate(252.9,477.5) scale(1.250,1.000)" font-size="6.60" text-anchor="middle" fill="#404040">01.02.</text>
<text transform="translate(280.5,477.5) scale(1.250,1.000)" font-size="6.60" text-anchor="middle" fill="#404040">01.03.</text>
<text transform="translate(311.1,477.5) scale(1.250,1.000)" font-size="6.60" text-anchor="middle" fill="#404040">01.04.</text>
<text transform="translate(340.7,477.5) scale(1.250,1.000)" font-size="6.60" text-anchor="middle" fill="#404040">01.05.</text>
<text transform="translate(371.2,477.5) scale(1.250,1.000)" font-size="6.60" text-anchor="middle" fill="#404040">01.06.</text>
<text transform="translate(65.7,469.8) scale(1.250,1.000)" font-size="6.60" text-anchor="end" fill="#404040">0</text>
<text transform="translate(65.7,441.3) scale(1.250,1.000)" font-size="6.60" text-anchor="end" fill="#404040">100</text>
<text transform="translate(65.7,412.9) scale(1.250,1.000)" font-size="6.60" text-anchor="end" fill="#404040">200</text>
<text transform="translate(65.7,384.4) scale(1.250,1.000)" font-size="6.60" text-anchor="end" fill="#404040">300</text>
<text transform="translate(65.7,356.0) scale(1.250,1.000)" font-size="6.60" text-anchor="end" fill="#404040">400</text>
<text transform="translate(65.7,327.5) scale(1.250,1.000)" font-size="6.60" text-anchor="end" fill="#404040">500</text>
<text transform="translate(65.7,299.1) scale(1.250,1.000)" font-size="6.60" text-anchor="end" fill="#404040">600</text>
<text transform="translate(65.7,270.6) scale(1.250,1.000)" font-size="6.60" text-anchor="end" fill="#404040">700</text>
<text transform="translate(47.6,367.4) rotate(-90) scale(1.000,0.900)" font-size="7.50" text-anchor="middle" fill="#404040">Tapausta per pv</text>
<text transform="translate(236.7,265.5) scale(1.280,1.000)" font-size="7.20" text-anchor="middle" font-weight="bold" fill="#111">M1Ro1VE2Se2Ra4</text>
<rect x="80" y="274.7" width="88.1" height="16.4" fill="#fff" stroke="#555" stroke-width="0.7"/>
<rect x="83.5" y="284.4" width="32" height="4.6" fill="#e7a0c3" stroke="#444" stroke-width="0.7"/>
<ellipse cx="99.5" cy="279.6" rx="1" ry="0.8" fill="#d40808"/>
<text transform="translate(118.5,282.3) scale(1.200,1.000)" font-size="6.30" fill="#222">Havaitut/TTR</text>
<text transform="translate(118.5,289.7) scale(1.200,1.000)" font-size="6.30" fill="#222">Havaitut/malli</text>
</g>
<g id="chartD">
<path d="M498.4 468.7V269.7M527.7 468.7V269.7M557.9 468.7V269.7M587.1 468.7V269.7M617.4 468.7V269.7M647.6 468.7V269.7M674.9 468.7V269.7M705.1 468.7V269.7M734.4 468.7V269.7M764.6 468.7V269.7M793.4 468.7V269.7M468.2 443.8H793.4M468.2 419.0H793.4M468.2 394.1H793.4M468.2 369.2H793.4M468.2 344.3H793.4M468.2 319.5H793.4M468.2 294.6H793.4M468.2 269.7H793.4" stroke="#e6e6e6" stroke-width="0.8" fill="none"/>
<path d="M468.2 443.8L515.8 443.8L515.8 419L547.2 419L547.2 394.1L570.6 394.1L570.6 369.2L610.8 369.2L610.8 394.1L637.6 394.1L637.6 369.2L661.1 369.2L661.1 344.3L675.9 344.3L675.9 319.5L689.5 319.5L689.5 294.6L704.1 294.6L704.1 269.7L709.7 269.7L709.7 294.6L718.5 294.6L718.5 319.5L732.9 319.5L732.9 344.3L746.8 344.3L746.8 369.2L752.9 369.2L752.9 344.3L763.1 344.3L763.1 369.2L777.8 369.2L777.8 394.1L791.6 394.1L791.6 468.7L468.2 468.7Z" fill="#f3d9e4"/>
<path d="M520.7 443.8L565.6 443.8L565.6 419L617.9 419L617.9 443.8L630.5 443.8L630.5 419L665 419L665 394.1L683.3 394.1L683.3 369.2L700.9 369.2L700.9 344.3L710.5 344.3L710.5 369.2L725 369.2L725 394.1L743.3 394.1L743.3 419L780.2 419L780.2 443.8L791.6 443.8L791.6 468.7L770.5 468.7L770.5 443.8L721.7 443.8L721.7 419L685.6 419L685.6 443.8L652.5 443.8L652.5 468.7L598.1 468.7L598.1 443.8L581.2 443.8L581.2 468.7L520.7 468.7Z" fill="#e1a1be"/>
<path d="M468.2 464.5L469.8 462.1L471.8 462.1L473.4 465.3L475.5 466.9L477.1 468.5L513.4 468.5L515.3 466.1L518.2 463.7L520.6 458.9L523.1 462.1L525.5 465.3L528.7 468.5L531.1 464.5L533.5 458.9L535.6 454.8L537.6 457.3L539.5 461.3L542.1 461.3L544 453.2L545.6 446L547.6 445.2L549.7 451.6L552.1 460.5L554.5 461.3L556.9 455.6L559.4 460.5L561.8 458.9L563.7 450L565.8 447.6L568.2 448.4L570.6 453.2L572.7 450L574.7 447.6L577.1 448.4L578.7 442L580.3 440L583.5 440.5L585 442L586.8 430.3L589.6 420.4L591.6 424.7L593.9 438.8L596.7 452.9L599.5 445.8L603.7 443L606.6 440.2L608.5 427.5L611.4 419L613.6 424.7L615.9 438.8L617.9 444.4L620.7 433.1L623.5 437.4L626.3 444.4L630.6 445.8L634 452.9L636.8 462.8L639.6 468.4L641.9 464.2L643.8 450.1L646.1 445.8L648.9 448.7L650.9 451.5L653.7 445.8L656 437.4L658.2 430.3L660.2 424.7L663 427.5L665 421.9L667.3 404.9L669.5 400.7L671.8 397.9L673.5 407.7L675.2 419L677.1 414.8L679.1 430.3L680.8 421.9L682.8 412L685.6 407.7L687.6 403.5L689.3 395" stroke="#cc0a0a" stroke-width="2.1" fill="none" stroke-linejoin="round"/>
<g fill="#d40808"><ellipse cx="468.2" cy="443.8" rx="2.1" ry="1.5"/><ellipse cx="469.2" cy="443.8" rx="2.1" ry="1.5"/><ellipse cx="470.1" cy="443.8" rx="2.1" ry="1.5"/><ellipse cx="471.1" cy="468.7" rx="2.1" ry="1.5"/><ellipse cx="472.1" cy="443.8" rx="2.1" ry="1.5"/><ellipse cx="473.1" cy="468.7" rx="2.1" ry="1.5"/><ellipse cx="474.1" cy="468.7" rx="2.1" ry="1.5"/><ellipse cx="475" cy="468.7" rx="2.1" ry="1.5"/><ellipse cx="476" cy="468.7" rx="2.1" ry="1.5"/><ellipse cx="477" cy="468.7" rx="2.1" ry="1.5"/><ellipse cx="477.9" cy="468.7" rx="2.1" ry="1.5"/><ellipse cx="478.9" cy="468.7" rx="2.1" ry="1.5"/><ellipse cx="479.9" cy="468.7" rx="2.1" ry="1.5"/><ellipse cx="480.9" cy="468.7" rx="2.1" ry="1.5"/><ellipse cx="481.8" cy="468.7" rx="2.1" ry="1.5"/><ellipse cx="482.8" cy="468.7" rx="2.1" ry="1.5"/><ellipse cx="483.8" cy="468.7" rx="2.1" ry="1.5"/><ellipse cx="484.8" cy="468.7" rx="2.1" ry="1.5"/><ellipse cx="485.8" cy="468.7" rx="2.1" ry="1.5"/><ellipse cx="486.7" cy="468.7" rx="2.1" ry="1.5"/><ellipse cx="487.7" cy="468.7" rx="2.1" ry="1.5"/><ellipse cx="488.7" cy="468.7" rx="2.1" ry="1.5"/><ellipse cx="489.6" cy="468.7" rx="2.1" ry="1.5"/><ellipse cx="490.6" cy="468.7" rx="2.1" ry="1.5"/><ellipse cx="491.6" cy="468.7" rx="2.1" ry="1.5"/><ellipse cx="492.6" cy="468.7" rx="2.1" ry="1.5"/><ellipse cx="493.6" cy="468.7" rx="2.1" ry="1.5"/><ellipse cx="494.5" cy="468.7" rx="2.1" ry="1.5"/><ellipse cx="495.5" cy="468.7" rx="2.1" ry="1.5"/><ellipse cx="496.5" cy="468.7" rx="2.1" ry="1.5"/><ellipse cx="497.4" cy="468.7" rx="2.1" ry="1.5"/><ellipse cx="498.4" cy="468.7" rx="2.1" ry="1.5"/><ellipse cx="499.4" cy="468.7" rx="2.1" ry="1.5"/><ellipse cx="500.4" cy="468.7" rx="2.1" ry="1.5"/><ellipse cx="501.3" cy="468.7" rx="2.1" ry="1.5"/><ellipse cx="502.3" cy="468.7" rx="2.1" ry="1.5"/><ellipse cx="503.3" cy="468.7" rx="2.1" ry="1.5"/><ellipse cx="504.3" cy="468.7" rx="2.1" ry="1.5"/><ellipse cx="505.2" cy="468.7" rx="2.1" ry="1.5"/><ellipse cx="506.2" cy="468.7" rx="2.1" ry="1.5"/><ellipse cx="507.2" cy="468.7" rx="2.1" ry="1.5"/><ellipse cx="508.2" cy="468.7" rx="2.1" ry="1.5"/><ellipse cx="509.1" cy="468.7" rx="2.1" ry="1.5"/><ellipse cx="510.1" cy="468.7" rx="2.1" ry="1.5"/><ellipse cx="511.1" cy="468.7" rx="2.1" ry="1.5"/><ellipse cx="512.1" cy="468.7" rx="2.1" ry="1.5"/><ellipse cx="513" cy="468.7" rx="2.1" ry="1.5"/><ellipse cx="514" cy="468.7" rx="2.1" ry="1.5"/><ellipse cx="515" cy="468.7" rx="2.1" ry="1.5"/><ellipse cx="516" cy="468.7" rx="2.1" ry="1.5"/><ellipse cx="517" cy="468.7" rx="2.1" ry="1.5"/><ellipse cx="517.9" cy="468.7" rx="2.1" ry="1.5"/><ellipse cx="518.9" cy="443.8" rx="2.1" ry="1.5"/><ellipse cx="519.9" cy="443.8" rx="2.1" ry="1.5"/><ellipse cx="520.9" cy="468.7" rx="2.1" ry="1.5"/><ellipse cx="521.8" cy="443.8" rx="2.1" ry="1.5"/><ellipse cx="522.8" cy="443.8" rx="2.1" ry="1.5"/><ellipse cx="523.8" cy="468.7" rx="2.1" ry="1.5"/><ellipse cx="524.8" cy="468.7" rx="2.1" ry="1.5"/><ellipse cx="525.7" cy="468.7" rx="2.1" ry="1.5"/><ellipse cx="526.7" cy="468.7" rx="2.1" ry="1.5"/><ellipse cx="527.7" cy="468.7" rx="2.1" ry="1.5"/><ellipse cx="528.6" cy="468.7" rx="2.1" ry="1.5"/><ellipse cx="529.6" cy="468.7" rx="2.1" ry="1.5"/><ellipse cx="530.6" cy="468.7" rx="2.1" ry="1.5"/><ellipse cx="531.6" cy="468.7" rx="2.1" ry="1.5"/><ellipse cx="532.5" cy="443.8" rx="2.1" ry="1.5"/><ellipse cx="533.5" cy="468.7" rx="2.1" ry="1.5"/><ellipse cx="534.5" cy="468.7" rx="2.1" ry="1.5"/><ellipse cx="535.5" cy="468.7" rx="2.1" ry="1.5"/><ellipse cx="536.5" cy="419" rx="2.1" ry="1.5"/><ellipse cx="537.4" cy="443.8" rx="2.1" ry="1.5"/><ellipse cx="538.4" cy="468.7" rx="2.1" ry="1.5"/><ellipse cx="539.4" cy="468.7" rx="2.1" ry="1.5"/><ellipse cx="540.4" cy="468.7" rx="2.1" ry="1.5"/><ellipse cx="541.3" cy="443.8" rx="2.1" ry="1.5"/><ellipse cx="542.3" cy="468.7" rx="2.1" ry="1.5"/><ellipse cx="543.3" cy="443.8" rx="2.1" ry="1.5"/><ellipse cx="544.2" cy="468.7" rx="2.1" ry="1.5"/><ellipse cx="545.2" cy="443.8" rx="2.1" ry="1.5"/><ellipse cx="546.2" cy="468.7" rx="2.1" ry="1.5"/><ellipse cx="547.2" cy="443.8" rx="2.1" ry="1.5"/><ellipse cx="548.1" cy="443.8" rx="2.1" ry="1.5"/><ellipse cx="549.1" cy="419" rx="2.1" ry="1.5"/><ellipse cx="550.1" cy="468.7" rx="2.1" ry="1.5"/><ellipse cx="551.1" cy="468.7" rx="2.1" ry="1.5"/><ellipse cx="552" cy="443.8" rx="2.1" ry="1.5"/><ellipse cx="553" cy="468.7" rx="2.1" ry="1.5"/><ellipse cx="554" cy="419" rx="2.1" ry="1.5"/><ellipse cx="555" cy="443.8" rx="2.1" ry="1.5"/><ellipse cx="556" cy="468.7" rx="2.1" ry="1.5"/><ellipse cx="556.9" cy="468.7" rx="2.1" ry="1.5"/><ellipse cx="557.9" cy="394.1" rx="2.1" ry="1.5"/><ellipse cx="558.9" cy="443.8" rx="2.1" ry="1.5"/><ellipse cx="559.9" cy="443.8" rx="2.1" ry="1.5"/><ellipse cx="560.8" cy="443.8" rx="2.1" ry="1.5"/><ellipse cx="561.8" cy="468.7" rx="2.1" ry="1.5"/><ellipse cx="562.8" cy="468.7" rx="2.1" ry="1.5"/><ellipse cx="563.8" cy="468.7" rx="2.1" ry="1.5"/><ellipse cx="564.7" cy="468.7" rx="2.1" ry="1.5"/><ellipse cx="565.7" cy="443.8" rx="2.1" ry="1.5"/><ellipse cx="566.7" cy="369.2" rx="2.1" ry="1.5"/><ellipse cx="567.6" cy="468.7" rx="2.1" ry="1.5"/><ellipse cx="568.6" cy="468.7" rx="2.1" ry="1.5"/><ellipse cx="569.6" cy="468.7" rx="2.1" ry="1.5"/><ellipse cx="570.6" cy="468.7" rx="2.1" ry="1.5"/><ellipse cx="571.5" cy="443.8" rx="2.1" ry="1.5"/><ellipse cx="572.5" cy="468.7" rx="2.1" ry="1.5"/><ellipse cx="573.5" cy="394.1" rx="2.1" ry="1.5"/><ellipse cx="574.5" cy="468.7" rx="2.1" ry="1.5"/><ellipse cx="575.5" cy="419" rx="2.1" ry="1.5"/><ellipse cx="576.4" cy="394.1" rx="2.1" ry="1.5"/><ellipse cx="577.4" cy="443.8" rx="2.1" ry="1.5"/><ellipse cx="578.4" cy="443.8" rx="2.1" ry="1.5"/><ellipse cx="579.4" cy="468.7" rx="2.1" ry="1.5"/><ellipse cx="580.3" cy="443.8" rx="2.1" ry="1.5"/><ellipse cx="581.3" cy="369.2" rx="2.1" ry="1.5"/><ellipse cx="582.3" cy="394.1" rx="2.1" ry="1.5"/><ellipse cx="583.2" cy="443.8" rx="2.1" ry="1.5"/><ellipse cx="584.2" cy="394.1" rx="2.1" ry="1.5"/><ellipse cx="585.2" cy="443.8" rx="2.1" ry="1.5"/><ellipse cx="586.2" cy="443.8" rx="2.1" ry="1.5"/><ellipse cx="587.1" cy="419" rx="2.1" ry="1.5"/><ellipse cx="588.1" cy="468.7" rx="2.1" ry="1.5"/><ellipse cx="589.1" cy="443.8" rx="2.1" ry="1.5"/><ellipse cx="590.1" cy="419" rx="2.1" ry="1.5"/><ellipse cx="591" cy="369.2" rx="2.1" ry="1.5"/><ellipse cx="592" cy="394.1" rx="2.1" ry="1.5"/><ellipse cx="593" cy="419" rx="2.1" ry="1.5"/><ellipse cx="594" cy="468.7" rx="2.1" ry="1.5"/><ellipse cx="595" cy="468.7" rx="2.1" ry="1.5"/><ellipse cx="595.9" cy="468.7" rx="2.1" ry="1.5"/><ellipse cx="596.9" cy="468.7" rx="2.1" ry="1.5"/><ellipse cx="597.9" cy="468.7" rx="2.1" ry="1.5"/><ellipse cx="598.9" cy="468.7" rx="2.1" ry="1.5"/><ellipse cx="599.8" cy="468.7" rx="2.1" ry="1.5"/><ellipse cx="600.8" cy="443.8" rx="2.1" ry="1.5"/><ellipse cx="601.8" cy="419" rx="2.1" ry="1.5"/><ellipse cx="602.8" cy="419" rx="2.1" ry="1.5"/><ellipse cx="603.7" cy="443.8" rx="2.1" ry="1.5"/><ellipse cx="604.7" cy="468.7" rx="2.1" ry="1.5"/><ellipse cx="605.7" cy="394.1" rx="2.1" ry="1.5"/><ellipse cx="606.6" cy="468.7" rx="2.1" ry="1.5"/><ellipse cx="607.6" cy="394.1" rx="2.1" ry="1.5"/><ellipse cx="608.6" cy="443.8" rx="2.1" ry="1.5"/><ellipse cx="609.6" cy="468.7" rx="2.1" ry="1.5"/><ellipse cx="610.5" cy="443.8" rx="2.1" ry="1.5"/><ellipse cx="611.5" cy="443.8" rx="2.1" ry="1.5"/><ellipse cx="612.5" cy="394.1" rx="2.1" ry="1.5"/><ellipse cx="613.5" cy="419" rx="2.1" ry="1.5"/><ellipse cx="614.5" cy="443.8" rx="2.1" ry="1.5"/><ellipse cx="615.4" cy="468.7" rx="2.1" ry="1.5"/><ellipse cx="616.4" cy="443.8" rx="2.1" ry="1.5"/><ellipse cx="617.4" cy="468.7" rx="2.1" ry="1.5"/><ellipse cx="618.4" cy="443.8" rx="2.1" ry="1.5"/><ellipse cx="619.3" cy="468.7" rx="2.1" ry="1.5"/><ellipse cx="620.3" cy="419" rx="2.1" ry="1.5"/><ellipse cx="621.3" cy="394.1" rx="2.1" ry="1.5"/><ellipse cx="622.2" cy="443.8" rx="2.1" ry="1.5"/><ellipse cx="623.2" cy="468.7" rx="2.1" ry="1.5"/><ellipse cx="624.2" cy="419" rx="2.1" ry="1.5"/><ellipse cx="625.2" cy="468.7" rx="2.1" ry="1.5"/><ellipse cx="626.1" cy="419" rx="2.1" ry="1.5"/><ellipse cx="627.1" cy="468.7" rx="2.1" ry="1.5"/><ellipse cx="628.1" cy="443.8" rx="2.1" ry="1.5"/><ellipse cx="629.1" cy="394.1" rx="2.1" ry="1.5"/><ellipse cx="630" cy="443.8" rx="2.1" ry="1.5"/><ellipse cx="631" cy="468.7" rx="2.1" ry="1.5"/><ellipse cx="632" cy="443.8" rx="2.1" ry="1.5"/><ellipse cx="633" cy="468.7" rx="2.1" ry="1.5"/><ellipse cx="634" cy="468.7" rx="2.1" ry="1.5"/><ellipse cx="634.9" cy="443.8" rx="2.1" ry="1.5"/><ellipse cx="635.9" cy="468.7" rx="2.1" ry="1.5"/><ellipse cx="636.9" cy="468.7" rx="2.1" ry="1.5"/><ellipse cx="637.9" cy="468.7" rx="2.1" ry="1.5"/><ellipse cx="638.8" cy="468.7" rx="2.1" ry="1.5"/><ellipse cx="639.8" cy="443.8" rx="2.1" ry="1.5"/><ellipse cx="640.8" cy="468.7" rx="2.1" ry="1.5"/><ellipse cx="641.8" cy="468.7" rx="2.1" ry="1.5"/><ellipse cx="642.7" cy="468.7" rx="2.1" ry="1.5"/><ellipse cx="643.7" cy="468.7" rx="2.1" ry="1.5"/><ellipse cx="644.7" cy="468.7" rx="2.1" ry="1.5"/><ellipse cx="645.6" cy="394.1" rx="2.1" ry="1.5"/><ellipse cx="646.6" cy="443.8" rx="2.1" ry="1.5"/><ellipse cx="647.6" cy="394.1" rx="2.1" ry="1.5"/><ellipse cx="648.6" cy="443.8" rx="2.1" ry="1.5"/><ellipse cx="649.5" cy="468.7" rx="2.1" ry="1.5"/><ellipse cx="650.5" cy="468.7" rx="2.1" ry="1.5"/><ellipse cx="651.5" cy="468.7" rx="2.1" ry="1.5"/><ellipse cx="652.5" cy="468.7" rx="2.1" ry="1.5"/><ellipse cx="653.5" cy="468.7" rx="2.1" ry="1.5"/><ellipse cx="654.4" cy="419" rx="2.1" ry="1.5"/><ellipse cx="655.4" cy="419" rx="2.1" ry="1.5"/><ellipse cx="656.4" cy="468.7" rx="2.1" ry="1.5"/><ellipse cx="657.4" cy="443.8" rx="2.1" ry="1.5"/><ellipse cx="658.3" cy="443.8" rx="2.1" ry="1.5"/><ellipse cx="659.3" cy="419" rx="2.1" ry="1.5"/><ellipse cx="660.3" cy="394.1" rx="2.1" ry="1.5"/><ellipse cx="661.2" cy="344.3" rx="2.1" ry="1.5"/><ellipse cx="662.2" cy="394.1" rx="2.1" ry="1.5"/><ellipse cx="663.2" cy="468.7" rx="2.1" ry="1.5"/><ellipse cx="664.2" cy="419" rx="2.1" ry="1.5"/><ellipse cx="665.1" cy="419" rx="2.1" ry="1.5"/><ellipse cx="666.1" cy="394.1" rx="2.1" ry="1.5"/><ellipse cx="667.1" cy="443.8" rx="2.1" ry="1.5"/><ellipse cx="668.1" cy="419" rx="2.1" ry="1.5"/><ellipse cx="669" cy="394.1" rx="2.1" ry="1.5"/><ellipse cx="670" cy="394.1" rx="2.1" ry="1.5"/><ellipse cx="671" cy="369.2" rx="2.1" ry="1.5"/><ellipse cx="672" cy="419" rx="2.1" ry="1.5"/><ellipse cx="673" cy="443.8" rx="2.1" ry="1.5"/><ellipse cx="673.9" cy="419" rx="2.1" ry="1.5"/><ellipse cx="674.9" cy="344.3" rx="2.1" ry="1.5"/><ellipse cx="675.9" cy="394.1" rx="2.1" ry="1.5"/><ellipse cx="676.9" cy="419" rx="2.1" ry="1.5"/><ellipse cx="677.8" cy="394.1" rx="2.1" ry="1.5"/><ellipse cx="678.8" cy="443.8" rx="2.1" ry="1.5"/><ellipse cx="679.8" cy="394.1" rx="2.1" ry="1.5"/><ellipse cx="680.8" cy="443.8" rx="2.1" ry="1.5"/><ellipse cx="681.7" cy="443.8" rx="2.1" ry="1.5"/><ellipse cx="682.7" cy="468.7" rx="2.1" ry="1.5"/><ellipse cx="683.7" cy="344.3" rx="2.1" ry="1.5"/><ellipse cx="684.6" cy="419" rx="2.1" ry="1.5"/><ellipse cx="685.6" cy="394.1" rx="2.1" ry="1.5"/><ellipse cx="686.6" cy="394.1" rx="2.1" ry="1.5"/><ellipse cx="687.6" cy="419" rx="2.1" ry="1.5"/><ellipse cx="688.5" cy="394.1" rx="2.1" ry="1.5"/><ellipse cx="689.5" cy="369.2" rx="2.1" ry="1.5"/><ellipse cx="690.5" cy="419" rx="2.1" ry="1.5"/><ellipse cx="691.5" cy="344.3" rx="2.1" ry="1.5"/><ellipse cx="692.5" cy="419" rx="2.1" ry="1.5"/></g>
<path d="M468.2 468L469.2 467.9L470.1 467.9L471.1 467.9L472.1 467.9L473.1 467.9L474.1 467.8L475 467.8L476 467.8L477 467.8L477.9 467.7L478.9 467.7L479.9 467.6L480.9 467.6L481.8 467.6L482.8 467.5L483.8 467.5L484.8 467.4L485.8 467.4L486.7 467.3L487.7 467.3L488.7 467.2L489.6 467.2L490.6 467.1L491.6 467.1L492.6 467L493.6 466.9L494.5 466.9L495.5 466.8L496.5 466.8L497.4 466.7L498.4 466.6L499.4 466.6L500.4 466.5L501.3 466.4L502.3 466.4L503.3 466.3L504.3 466.2L505.2 466.1L506.2 466L507.2 465.9L508.2 465.9L509.1 465.8L510.1 465.7L511.1 465.5L512.1 465.4L513 465.3L514 465.2L515 465.1L516 464.9L517 464.8L517.9 464.7L518.9 464.5L519.9 464.3L520.9 464.1L521.8 463.9L522.8 463.7L523.8 463.5L524.8 463.3L525.7 463.1L526.7 462.8L527.7 462.6L528.6 462.3L529.6 462.1L530.6 461.8L531.6 461.5L532.5 461.2L533.5 460.9L534.5 460.6L535.5 460.3L536.5 459.9L537.4 459.6L538.4 459.2L539.4 458.8L540.4 458.4L541.3 458L542.3 457.6L543.3 457.2L544.2 456.8L545.2 456.4L546.2 455.9L547.2 455.5L548.1 455.1L549.1 454.6L550.1 454.1L551.1 453.6L552 453L553 452.5L554 452L555 451.4L556 450.9L556.9 450.3L557.9 449.8L558.9 449.3L559.9 448.9L560.8 448.5L561.8 448.1L562.8 447.8L563.8 447.4L564.7 447L565.7 446.4L566.7 445.6L567.6 444.6L568.6 443.5L569.6 442.4L570.6 441.2L571.5 440L572.5 438.9L573.5 437.9L574.5 437L575.5 436.2L576.4 435.4L577.4 434.7L578.4 434L579.4 433.3L580.3 432.7L581.3 432.1L582.3 431.6L583.2 431L584.2 430.5L585.2 430.1L586.2 429.9L587.1 429.8L588.1 429.8L589.1 429.9L590.1 430.3L591 430.8L592 431.4L593 431.9L594 432.5L595 433.2L595.9 434L596.9 434.8L597.9 435.6L598.9 436.4L599.8 437.1L600.8 437.9L601.8 438.5L602.8 439.1L603.7 439.6L604.7 440.2L605.7 440.7L606.6 441.2L607.6 441.7L608.6 442.2L609.6 442.6L610.5 443.1L611.5 443.5L612.5 443.9L613.5 444.2L614.5 444.5L615.4 444.8L616.4 445.1L617.4 445.3L618.4 445.5L619.3 445.7L620.3 446L621.3 446.2L622.2 446.3L623.2 446.5L624.2 446.6L625.2 446.7L626.1 446.7L627.1 446.7L628.1 446.6L629.1 446.4L630 446.2L631 446L632 445.7L633 445.5L634 445.1L634.9 444.8L635.9 444.5L636.9 444.2L637.9 443.8L638.8 443.4L639.8 442.9L640.8 442.4L641.8 441.8L642.7 441.2L643.7 440.6L644.7 440L645.6 439.3L646.6 438.6L647.6 437.9L648.6 437.3L649.5 436.6L650.5 435.9L651.5 435.1L652.5 434.4L653.5 433.6L654.4 432.7L655.4 431.9L656.4 431L657.4 430.1L658.3 429.2L659.3 428.3L660.3 427.3L661.2 426.4L662.2 425.4L663.2 424.5L664.2 423.6L665.1 422.6L666.1 421.7L667.1 420.8L668.1 419.9L669 418.9L670 418L671 417L672 416L673 415.1L673.9 414.1L674.9 413.1L675.9 412.1L676.9 411L677.8 410L678.8 408.9L679.8 407.9L680.8 406.8L681.7 405.6L682.7 404.5L683.7 403.4L684.6 402.2L685.6 401L686.6 399.8L687.6 398.6L688.5 397.4L689.5 396.2L690.5 395L691.5 393.7L692.5 392.5L693.4 391.2L694.4 389.7L695.4 388.2L696.4 386.7L697.3 385.3L698.3 384L699.3 383L700.2 382.2L701.2 381.5L702.2 380.9L703.2 380.4L704.1 380.2L705.1 380L706.1 379.9L707.1 380.1L708 381L709 382.2L710 383.6L711 385.5L712 387.4L712.9 389.2L713.9 391L714.9 392.9L715.9 394.7L716.8 396.3L717.8 397.8L718.8 399.1L719.8 400.4L720.7 401.6L721.7 402.7L722.7 403.8L723.6 404.8L724.6 405.8L725.6 406.8L726.6 407.8L727.5 408.7L728.5 409.7L729.5 410.6L730.5 411.6L731.5 412.6L732.4 413.6L733.4 414.7L734.4 415.8L735.3 417.1L736.3 418.3L737.3 419.6L738.3 420.8L739.2 422L740.2 423.1L741.2 424.2L742.2 425.1L743.1 425.9L744.1 426.7L745.1 427.4L746.1 428.1L747 428.6L748 428.9L749 428.9L750 428.7L751 428.4L751.9 428.2L752.9 427.9L753.9 427.6L754.8 427.2L755.8 426.9L756.8 426.6L757.8 426.5L758.8 426.4L759.7 426.6L760.7 427L761.7 427.4L762.6 428L763.6 428.7L764.6 429.5L765.6 430.4L766.5 431.2L767.5 432L768.5 432.9L769.5 433.7L770.5 434.6L771.4 435.5L772.4 436.3L773.4 437.2L774.3 438.1L775.3 439L776.3 439.9L777.3 440.7L778.2 441.6L779.2 442.5L780.2 443.4L781.2 444.3L782.1 445.3L783.1 446.2L784.1 447.1L785.1 448L786 448.9L787 449.8L788 450.7L789 451.5L790 452.4L790.9 453.2L791.9 454L792.9 454.8" stroke="#bf3f7b" stroke-width="1.8" fill="none"/>
<path d="M468.2 269.7V468.7H793.4M468.2 468.7v2.5M498.4 468.7v2.5M527.7 468.7v2.5M557.9 468.7v2.5M587.1 468.7v2.5M617.4 468.7v2.5M647.6 468.7v2.5M674.9 468.7v2.5M705.1 468.7v2.5M734.4 468.7v2.5M764.6 468.7v2.5M468.2 468.7h-3.8M468.2 443.8h-3.8M468.2 419.0h-3.8M468.2 394.1h-3.8M468.2 369.2h-3.8M468.2 344.3h-3.8M468.2 319.5h-3.8M468.2 294.6h-3.8M468.2 269.7h-3.8" stroke="#555" stroke-width="0.9" fill="none"/>
<text transform="translate(468.2,479.3) scale(1.250,1.000)" font-size="6.60" text-anchor="middle" fill="#404040">01.08.</text>
<text transform="translate(498.4,479.3) scale(1.250,1.000)" font-size="6.60" text-anchor="middle" fill="#404040">01.09.</text>
<text transform="translate(527.7,479.3) scale(1.250,1.000)" font-size="6.60" text-anchor="middle" fill="#404040">01.10.</text>
<text transform="translate(557.9,479.3) scale(1.250,1.000)" font-size="6.60" text-anchor="middle" fill="#404040">01.11.</text>
<text transform="translate(587.1,479.3) scale(1.250,1.000)" font-size="6.60" text-anchor="middle" fill="#404040">01.12.</text>
<text transform="translate(617.4,479.3) scale(1.250,1.000)" font-size="6.60" text-anchor="middle" fill="#404040">01.01.</text>
<text transform="translate(647.6,479.3) scale(1.250,1.000)" font-size="6.60" text-anchor="middle" fill="#404040">01.02.</text>
<text transform="translate(674.9,479.3) scale(1.250,1.000)" font-size="6.60" text-anchor="middle" fill="#404040">01.03.</text>
<text transform="translate(705.1,479.3) scale(1.250,1.000)" font-size="6.60" text-anchor="middle" fill="#404040">01.04.</text>
<text transform="translate(734.4,479.3) scale(1.250,1.000)" font-size="6.60" text-anchor="middle" fill="#404040">01.05.</text>
<text transform="translate(764.6,479.3) scale(1.250,1.000)" font-size="6.60" text-anchor="middle" fill="#404040">01.06.</text>
<text transform="translate(462.4,471.5) scale(1.250,1.000)" font-size="6.60" text-anchor="end" fill="#404040">0</text>
<text transform="translate(462.4,446.6) scale(1.250,1.000)" font-size="6.60" text-anchor="end" fill="#404040">1</text>
<text transform="translate(462.4,421.7) scale(1.250,1.000)" font-size="6.60" text-anchor="end" fill="#404040">2</text>
<text transform="translate(462.4,396.9) scale(1.250,1.000)" font-size="6.60" text-anchor="end" fill="#404040">3</text>
<text transform="translate(462.4,372.0) scale(1.250,1.000)" font-size="6.60" text-anchor="end" fill="#404040">4</text>
<text transform="translate(462.4,347.1) scale(1.250,1.000)" font-size="6.60" text-anchor="end" fill="#404040">5</text>
<text transform="translate(462.4,322.3) scale(1.250,1.000)" font-size="6.60" text-anchor="end" fill="#404040">6</text>
<text transform="translate(462.4,297.4) scale(1.250,1.000)" font-size="6.60" text-anchor="end" fill="#404040">7</text>
<text transform="translate(462.4,272.5) scale(1.250,1.000)" font-size="6.60" text-anchor="end" fill="#404040">8</text>
<text transform="translate(453.8,369.2) rotate(-90) scale(1.000,0.900)" font-size="7.50" text-anchor="middle" fill="#404040">Uutta tapausta, per päivä</text>
<text transform="translate(630.8,267.0) scale(1.280,1.000)" font-size="7.20" text-anchor="middle" font-weight="bold" fill="#111">M1Ro1VE2Se2Ra4</text>
<rect x="476.5" y="276.5" width="51.4" height="10.1" fill="#fff" stroke="#555" stroke-width="0.7"/>
<rect x="480" y="279" width="31.5" height="5" fill="#e7a0c3" stroke="#444" stroke-width="0.7"/>
<text transform="translate(514.5,284.1) scale(1.150,1.000)" font-size="6.30" fill="#222">TH</text>
</g>
<path d="M298.8 42.3L302.1 487.2" stroke="#0b1f5e" stroke-width="2.1" stroke-dasharray="11.8 5" fill="none"/>
<path d="M700.2 37.3L700.3 46.9M700.3 51.6L700.4 61.2M700.4 66.1L700.5 75.7M700.5 80.7L700.6 90.3M700.6 95.6L700.7 105.2M700.8 110.6L700.8 120.2M700.9 125.8L701.0 135.8M701.0 141.2L701.1 151.2M701.1 156.7L701.2 166.7M701.2 172.5L701.3 182.5M701.4 188.4L701.4 198.4M701.5 204.5L701.6 214.5M701.6 221.3L701.7 231.3M701.7 238.1L701.8 248.1M701.9 254.8L701.9 264.8M702.0 271.6L702.1 281.6M702.1 288.4L702.2 298.4M702.2 305.2L702.3 315.2M702.4 322.0L702.4 332.0M702.5 338.7L702.6 348.7M702.6 355.5L702.7 365.5M702.8 372.3L702.8 382.3M702.9 389.1L703.0 399.1M703.0 405.9L703.1 415.9M703.1 422.6L703.2 432.6M703.3 439.4L703.3 449.4M703.4 456.2L703.5 466.2M703.5 473.0L703.6 482.6" stroke="#0b1f5e" stroke-width="2.1" fill="none"/>
<text transform="translate(61.2,22.7) scale(1.060,1.000)" font-size="16.40" fill="#222" word-spacing="-2.4" letter-spacing="0.25">6 viikkoa</text>
<text transform="translate(13.1,80.0) scale(0.920,1.000)" font-size="16.80" fill="#222">A</text>
<text transform="translate(11.4,294.0) scale(0.920,1.000)" font-size="16.80" fill="#222">B</text>
<text transform="translate(418.2,80.0) scale(0.920,1.000)" font-size="16.80" fill="#222">C</text>
<text transform="translate(415.6,292.3) scale(0.920,1.000)" font-size="16.80" fill="#222">D</text>
</svg>
</body></html>
